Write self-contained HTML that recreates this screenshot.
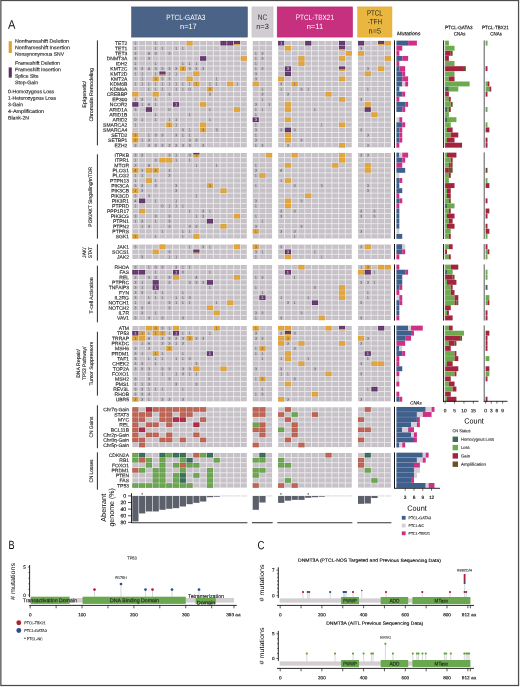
<!DOCTYPE html>
<html lang="en"><head><meta charset="utf-8"><title>Figure</title>
<style>html,body{margin:0;padding:0;background:#fff}svg{display:block}</style>
</head><body>
<svg width="520" height="687" viewBox="0 0 520 687" text-rendering="geometricPrecision" font-family='"Liberation Sans", sans-serif'>
<rect x="0" y="0" width="520" height="687" fill="#ffffff"/>
<rect x="0.85" y="0.5" width="517.7" height="685" fill="none" stroke="#4d4d4d" stroke-width="1.25"/>
<text x="8" y="28.8" font-size="12.4" fill="#111" textLength="7.4" lengthAdjust="spacingAndGlyphs" transform="rotate(0.05 8 28.8)">A</text>
<rect x="8.7" y="41.2" width="3.1" height="11.8" fill="#e0a030"/>
<rect x="8.7" y="67.4" width="3.1" height="10.2" fill="#5c2f66"/>
<text x="15" y="42.8" font-size="5.1" fill="#2a2a2a" textLength="54" lengthAdjust="spacingAndGlyphs" transform="rotate(0.05 15 42.8)" stroke="#2a2a2a" stroke-width="0.14">Nonframeshift Deletion</text>
<text x="15" y="49.3" font-size="5.1" fill="#2a2a2a" textLength="55" lengthAdjust="spacingAndGlyphs" transform="rotate(0.05 15 49.3)" stroke="#2a2a2a" stroke-width="0.14">Nonframeshift Insertion</text>
<text x="15" y="55.8" font-size="5.1" fill="#2a2a2a" textLength="49" lengthAdjust="spacingAndGlyphs" transform="rotate(0.05 15 55.8)" stroke="#2a2a2a" stroke-width="0.14">Nonsynonymous SNV</text>
<text x="15" y="64.7" font-size="5.1" fill="#2a2a2a" textLength="45" lengthAdjust="spacingAndGlyphs" transform="rotate(0.05 15 64.7)" stroke="#2a2a2a" stroke-width="0.14">Frameshift Deletion</text>
<text x="15" y="71.2" font-size="5.1" fill="#2a2a2a" textLength="46" lengthAdjust="spacingAndGlyphs" transform="rotate(0.05 15 71.2)" stroke="#2a2a2a" stroke-width="0.14">Frameshift Insertion</text>
<text x="15" y="77.7" font-size="5.1" fill="#2a2a2a" textLength="23.5" lengthAdjust="spacingAndGlyphs" transform="rotate(0.05 15 77.7)" stroke="#2a2a2a" stroke-width="0.14">Splice Site</text>
<text x="15" y="84.2" font-size="5.1" fill="#2a2a2a" textLength="23" lengthAdjust="spacingAndGlyphs" transform="rotate(0.05 15 84.2)" stroke="#2a2a2a" stroke-width="0.14">Stop-Gain</text>
<text x="8" y="93.2" font-size="5.1" fill="#2a2a2a" textLength="46" lengthAdjust="spacingAndGlyphs" transform="rotate(0.05 8 93.2)" stroke="#2a2a2a" stroke-width="0.14">0-Homozygous Loss</text>
<text x="8" y="99.8" font-size="5.1" fill="#2a2a2a" textLength="48" lengthAdjust="spacingAndGlyphs" transform="rotate(0.05 8 99.8)" stroke="#2a2a2a" stroke-width="0.14">1-Heterozygous Loss</text>
<text x="8" y="106.3" font-size="5.1" fill="#2a2a2a" textLength="15" lengthAdjust="spacingAndGlyphs" transform="rotate(0.05 8 106.3)" stroke="#2a2a2a" stroke-width="0.14">3-Gain</text>
<text x="8" y="112.9" font-size="5.1" fill="#2a2a2a" textLength="36" lengthAdjust="spacingAndGlyphs" transform="rotate(0.05 8 112.9)" stroke="#2a2a2a" stroke-width="0.14">4-Amplification</text>
<text x="8" y="119.4" font-size="5.1" fill="#2a2a2a" textLength="21" lengthAdjust="spacingAndGlyphs" transform="rotate(0.05 8 119.4)" stroke="#2a2a2a" stroke-width="0.14">Blank-2N</text>
<rect x="131.55" y="6.9" width="115.9" height="30.2" fill="#4b6387" stroke="#3a5073" stroke-width="0.5"/>
<text x="185.9" y="20.1" font-size="7.6" text-anchor="middle" fill="#ffffff" textLength="39.2" lengthAdjust="spacingAndGlyphs" transform="rotate(0.05 185.9 20.1)">PTCL-GATA3</text>
<text x="188.4" y="28.9" font-size="7.6" text-anchor="middle" fill="#ffffff" textLength="16.7" lengthAdjust="spacingAndGlyphs" transform="rotate(0.05 188.4 28.9)">n=17</text>
<rect x="251.95" y="6.9" width="21.1" height="30.2" fill="#d0ccd1" stroke="#c4c0c5" stroke-width="0.5"/>
<text x="262.5" y="19.7" font-size="7.6" text-anchor="middle" fill="#2b2b2b" textLength="9.5" lengthAdjust="spacingAndGlyphs" transform="rotate(0.05 262.5 19.7)">NC</text>
<text x="262.5" y="28.9" font-size="7.6" text-anchor="middle" fill="#2b2b2b" textLength="12.5" lengthAdjust="spacingAndGlyphs" transform="rotate(0.05 262.5 28.9)">n=3</text>
<rect x="277.15" y="6.9" width="75.5" height="30.2" fill="#c72f7f" stroke="#b8266f" stroke-width="0.5"/>
<text x="314.9" y="19.9" font-size="7.6" text-anchor="middle" fill="#ffffff" textLength="38.1" lengthAdjust="spacingAndGlyphs" transform="rotate(0.05 314.9 19.9)">PTCL-TBX21</text>
<text x="314.9" y="28.9" font-size="7.6" text-anchor="middle" fill="#ffffff" textLength="16.4" lengthAdjust="spacingAndGlyphs" transform="rotate(0.05 314.9 28.9)">n=11</text>
<rect x="357.65" y="6.9" width="34.3" height="30.2" fill="#e9b63f" stroke="#dca92f" stroke-width="0.5"/>
<text x="374.8" y="15.5" font-size="7.6" text-anchor="middle" fill="#2b2620" textLength="15.8" lengthAdjust="spacingAndGlyphs" transform="rotate(0.05 374.8 15.5)">PTCL</text>
<text x="374.8" y="24.2" font-size="7.6" text-anchor="middle" fill="#2b2620" textLength="14.3" lengthAdjust="spacingAndGlyphs" transform="rotate(0.05 374.8 24.2)">-TFH</text>
<text x="374.8" y="33.4" font-size="7.6" text-anchor="middle" fill="#2b2620" textLength="12.5" lengthAdjust="spacingAndGlyphs" transform="rotate(0.05 374.8 33.4)">n=5</text>
<line x1="97.4" y1="40.4" x2="97.4" y2="145.4" stroke="#111" stroke-width="0.9"/>
<text x="85.9" y="94.3" font-size="5.1" text-anchor="middle" fill="#2a2a2a" textLength="26.8" lengthAdjust="spacingAndGlyphs" transform="rotate(-90 85.9 94.3)" stroke="#2a2a2a" stroke-width="0.14">Epigenetic/</text>
<text x="93" y="94.8" font-size="5.1" text-anchor="middle" fill="#2a2a2a" textLength="53.6" lengthAdjust="spacingAndGlyphs" transform="rotate(-90 93 94.8)" stroke="#2a2a2a" stroke-width="0.14">Chromatin Remodeling</text>
<line x1="97.4" y1="154.3" x2="97.4" y2="238.6" stroke="#111" stroke-width="0.9"/>
<text x="92.5" y="196.8" font-size="5.1" text-anchor="middle" fill="#2a2a2a" textLength="59.8" lengthAdjust="spacingAndGlyphs" transform="rotate(-90 92.5 196.8)" stroke="#2a2a2a" stroke-width="0.14">PI3K/AKT Singalling/mTOR</text>
<line x1="97.4" y1="244.3" x2="97.4" y2="260.6" stroke="#111" stroke-width="0.9"/>
<text x="85.6" y="252.7" font-size="5.1" text-anchor="middle" fill="#2a2a2a" textLength="10" lengthAdjust="spacingAndGlyphs" transform="rotate(-90 85.6 252.7)" stroke="#2a2a2a" stroke-width="0.14">JAK/</text>
<text x="92.3" y="252.7" font-size="5.1" text-anchor="middle" fill="#2a2a2a" textLength="10.8" lengthAdjust="spacingAndGlyphs" transform="rotate(-90 92.3 252.7)" stroke="#2a2a2a" stroke-width="0.14">STAT</text>
<line x1="97.4" y1="265.7" x2="97.4" y2="322.4" stroke="#111" stroke-width="0.9"/>
<text x="93.1" y="295.4" font-size="5.1" text-anchor="middle" fill="#2a2a2a" textLength="36.2" lengthAdjust="spacingAndGlyphs" transform="rotate(-90 93.1 295.4)" stroke="#2a2a2a" stroke-width="0.14">T-cell Activation</text>
<line x1="97.4" y1="331.8" x2="97.4" y2="395.6" stroke="#111" stroke-width="0.9"/>
<text x="79.9" y="363.6" font-size="5.1" text-anchor="middle" fill="#2a2a2a" textLength="28.5" lengthAdjust="spacingAndGlyphs" transform="rotate(-90 79.9 363.6)" stroke="#2a2a2a" stroke-width="0.14">DNA Repair/</text>
<text x="85.9" y="363.4" font-size="5.1" text-anchor="middle" fill="#2a2a2a" textLength="33.3" lengthAdjust="spacingAndGlyphs" transform="rotate(-90 85.9 363.4)" stroke="#2a2a2a" stroke-width="0.14">TP53 Pathway/</text>
<text x="92.7" y="363.6" font-size="5.1" text-anchor="middle" fill="#2a2a2a" textLength="43.8" lengthAdjust="spacingAndGlyphs" transform="rotate(-90 92.7 363.6)" stroke="#2a2a2a" stroke-width="0.14">Tumor Suppressors</text>
<line x1="97.4" y1="405.3" x2="97.4" y2="448.2" stroke="#111" stroke-width="0.9"/>
<text x="92.8" y="427" font-size="5.1" text-anchor="middle" fill="#2a2a2a" textLength="20.8" lengthAdjust="spacingAndGlyphs" transform="rotate(-90 92.8 427)" stroke="#2a2a2a" stroke-width="0.14">CN Gains</text>
<line x1="97.4" y1="452.3" x2="97.4" y2="489.7" stroke="#111" stroke-width="0.9"/>
<text x="92.8" y="471" font-size="5.1" text-anchor="middle" fill="#2a2a2a" textLength="22.9" lengthAdjust="spacingAndGlyphs" transform="rotate(-90 92.8 471)" stroke="#2a2a2a" stroke-width="0.14">CN Losses</text>
<text x="127.3" y="45.05" font-size="5" text-anchor="end" fill="#2a2a2a" transform="rotate(0.05 127.3 45.05)" stroke="#2a2a2a" stroke-width="0.14">TET2</text>
<text x="127.3" y="50.16" font-size="5" text-anchor="end" fill="#2a2a2a" transform="rotate(0.05 127.3 50.16)" stroke="#2a2a2a" stroke-width="0.14">TET1</text>
<text x="127.3" y="55.26" font-size="5" text-anchor="end" fill="#2a2a2a" transform="rotate(0.05 127.3 55.26)" stroke="#2a2a2a" stroke-width="0.14">TET3</text>
<text x="127.3" y="60.37" font-size="5" text-anchor="end" fill="#2a2a2a" transform="rotate(0.05 127.3 60.37)" stroke="#2a2a2a" stroke-width="0.14">DNMT3A</text>
<text x="127.3" y="65.47" font-size="5" text-anchor="end" fill="#2a2a2a" transform="rotate(0.05 127.3 65.47)" stroke="#2a2a2a" stroke-width="0.14">IDH2</text>
<text x="127.3" y="70.58" font-size="5" text-anchor="end" fill="#2a2a2a" transform="rotate(0.05 127.3 70.58)" stroke="#2a2a2a" stroke-width="0.14">KMT2C</text>
<text x="127.3" y="75.68" font-size="5" text-anchor="end" fill="#2a2a2a" transform="rotate(0.05 127.3 75.68)" stroke="#2a2a2a" stroke-width="0.14">KMT2D</text>
<text x="127.3" y="80.78" font-size="5" text-anchor="end" fill="#2a2a2a" transform="rotate(0.05 127.3 80.78)" stroke="#2a2a2a" stroke-width="0.14">KMT2A</text>
<text x="127.3" y="85.89" font-size="5" text-anchor="end" fill="#2a2a2a" transform="rotate(0.05 127.3 85.89)" stroke="#2a2a2a" stroke-width="0.14">KDM6B</text>
<text x="127.3" y="91" font-size="5" text-anchor="end" fill="#2a2a2a" transform="rotate(0.05 127.3 91)" stroke="#2a2a2a" stroke-width="0.14">KDM6A</text>
<text x="127.3" y="96.1" font-size="5" text-anchor="end" fill="#2a2a2a" transform="rotate(0.05 127.3 96.1)" stroke="#2a2a2a" stroke-width="0.14">CREBBP</text>
<text x="127.3" y="101.2" font-size="5" text-anchor="end" fill="#2a2a2a" transform="rotate(0.05 127.3 101.2)" stroke="#2a2a2a" stroke-width="0.14">EP300</text>
<text x="127.3" y="106.31" font-size="5" text-anchor="end" fill="#2a2a2a" transform="rotate(0.05 127.3 106.31)" stroke="#2a2a2a" stroke-width="0.14">NCOR2</text>
<text x="127.3" y="111.42" font-size="5" text-anchor="end" fill="#2a2a2a" transform="rotate(0.05 127.3 111.42)" stroke="#2a2a2a" stroke-width="0.14">ARID1A</text>
<text x="127.3" y="116.52" font-size="5" text-anchor="end" fill="#2a2a2a" transform="rotate(0.05 127.3 116.52)" stroke="#2a2a2a" stroke-width="0.14">ARID1B</text>
<text x="127.3" y="121.62" font-size="5" text-anchor="end" fill="#2a2a2a" transform="rotate(0.05 127.3 121.62)" stroke="#2a2a2a" stroke-width="0.14">ARID2</text>
<text x="127.3" y="126.73" font-size="5" text-anchor="end" fill="#2a2a2a" transform="rotate(0.05 127.3 126.73)" stroke="#2a2a2a" stroke-width="0.14">SMARCA2</text>
<text x="127.3" y="131.84" font-size="5" text-anchor="end" fill="#2a2a2a" transform="rotate(0.05 127.3 131.84)" stroke="#2a2a2a" stroke-width="0.14">SMARCA4</text>
<text x="127.3" y="136.94" font-size="5" text-anchor="end" fill="#2a2a2a" transform="rotate(0.05 127.3 136.94)" stroke="#2a2a2a" stroke-width="0.14">SETD2</text>
<text x="127.3" y="142.04" font-size="5" text-anchor="end" fill="#2a2a2a" transform="rotate(0.05 127.3 142.04)" stroke="#2a2a2a" stroke-width="0.14">SETBP1</text>
<text x="127.3" y="147.15" font-size="5" text-anchor="end" fill="#2a2a2a" transform="rotate(0.05 127.3 147.15)" stroke="#2a2a2a" stroke-width="0.14">EZH2</text>
<rect x="132.4" y="41" width="114.38" height="106.3" fill="#c3bec4"/>
<path d="M138.74 41V147.3M145.52 41V147.3M152.3 41V147.3M159.08 41V147.3M165.86 41V147.3M172.64 41V147.3M179.42 41V147.3M186.2 41V147.3M192.98 41V147.3M199.76 41V147.3M206.54 41V147.3M213.32 41V147.3M220.1 41V147.3M226.88 41V147.3M233.66 41V147.3M240.44 41V147.3M132.4 45.65H246.78M132.4 50.76H246.78M132.4 55.86H246.78M132.4 60.97H246.78M132.4 66.07H246.78M132.4 71.18H246.78M132.4 76.28H246.78M132.4 81.39H246.78M132.4 86.49H246.78M132.4 91.6H246.78M132.4 96.7H246.78M132.4 101.81H246.78M132.4 106.91H246.78M132.4 112.02H246.78M132.4 117.12H246.78M132.4 122.23H246.78M132.4 127.33H246.78M132.4 132.44H246.78M132.4 137.54H246.78M132.4 142.65H246.78" stroke="#efedf0" stroke-width="0.88" fill="none"/>
<rect x="186.52" y="40.9" width="6.14" height="4.55" fill="#e0a030"/>
<rect x="220.42" y="40.9" width="6.14" height="4.55" fill="#5c2f66"/>
<rect x="227.2" y="40.9" width="6.14" height="4.55" fill="#5c2f66"/>
<rect x="233.98" y="40.9" width="6.14" height="3.1" fill="#5c2f66"/>
<rect x="233.98" y="44" width="6.14" height="1.45" fill="#e0a030"/>
<rect x="200.08" y="56.21" width="6.14" height="4.55" fill="#5c2f66"/>
<rect x="240.76" y="56.21" width="6.14" height="4.55" fill="#e0a030"/>
<rect x="179.74" y="66.43" width="6.14" height="4.55" fill="#e0a030"/>
<rect x="159.4" y="71.53" width="6.14" height="3.1" fill="#5c2f66"/>
<rect x="159.4" y="74.63" width="6.14" height="1.45" fill="#e0a030"/>
<rect x="193.3" y="71.53" width="6.14" height="4.55" fill="#e0a030"/>
<rect x="152.62" y="76.64" width="6.14" height="4.55" fill="#e0a030"/>
<rect x="186.52" y="76.64" width="6.14" height="4.55" fill="#e0a030"/>
<rect x="193.3" y="81.74" width="6.14" height="4.55" fill="#e0a030"/>
<rect x="227.2" y="81.74" width="6.14" height="4.55" fill="#e0a030"/>
<rect x="206.86" y="86.85" width="6.14" height="4.55" fill="#e0a030"/>
<rect x="132.28" y="91.95" width="6.14" height="4.55" fill="#e0a030"/>
<rect x="152.62" y="91.95" width="6.14" height="4.55" fill="#e0a030"/>
<rect x="132.28" y="102.16" width="6.14" height="4.55" fill="#5c2f66"/>
<rect x="172.96" y="102.16" width="6.14" height="4.55" fill="#5c2f66"/>
<rect x="200.08" y="102.16" width="6.14" height="4.55" fill="#e0a030"/>
<rect x="145.84" y="107.27" width="6.14" height="4.55" fill="#5c2f66"/>
<rect x="233.98" y="107.27" width="6.14" height="4.55" fill="#e0a030"/>
<rect x="166.18" y="122.58" width="6.14" height="4.55" fill="#e0a030"/>
<rect x="200.08" y="122.58" width="6.14" height="4.55" fill="#e0a030"/>
<rect x="200.08" y="127.69" width="6.14" height="4.55" fill="#e0a030"/>
<rect x="132.28" y="132.79" width="6.14" height="4.55" fill="#e0a030"/>
<rect x="132.28" y="137.9" width="6.14" height="4.55" fill="#e0a030"/>
<path d="M134.37 41V147.3M136.33 41V147.3M141.15 41V147.3M143.11 41V147.3M147.93 41V147.3M149.89 41V147.3M154.71 41V147.3M156.67 41V147.3M161.49 41V147.3M163.45 41V147.3M168.27 41V147.3M170.23 41V147.3M175.05 41V147.3M177.01 41V147.3M181.83 41V147.3M183.79 41V147.3M188.61 41V147.3M190.57 41V147.3M195.39 41V147.3M197.35 41V147.3M202.17 41V147.3M204.13 41V147.3M208.95 41V147.3M210.91 41V147.3M215.73 41V147.3M217.69 41V147.3M222.51 41V147.3M224.47 41V147.3M229.29 41V147.3M231.25 41V147.3M236.07 41V147.3M238.03 41V147.3M242.85 41V147.3M244.81 41V147.3M132.4 42.4H246.78M132.4 43.8H246.78M132.4 47.51H246.78M132.4 48.91H246.78M132.4 52.61H246.78M132.4 54.01H246.78M132.4 57.71H246.78M132.4 59.11H246.78M132.4 62.82H246.78M132.4 64.22H246.78M132.4 67.93H246.78M132.4 69.33H246.78M132.4 73.03H246.78M132.4 74.43H246.78M132.4 78.14H246.78M132.4 79.53H246.78M132.4 83.24H246.78M132.4 84.64H246.78M132.4 88.35H246.78M132.4 89.75H246.78M132.4 93.45H246.78M132.4 94.85H246.78M132.4 98.56H246.78M132.4 99.95H246.78M132.4 103.66H246.78M132.4 105.06H246.78M132.4 108.77H246.78M132.4 110.17H246.78M132.4 113.87H246.78M132.4 115.27H246.78M132.4 118.98H246.78M132.4 120.38H246.78M132.4 124.08H246.78M132.4 125.48H246.78M132.4 129.19H246.78M132.4 130.59H246.78M132.4 134.29H246.78M132.4 135.69H246.78M132.4 139.4H246.78M132.4 140.8H246.78M132.4 144.5H246.78M132.4 145.9H246.78" stroke="#ffffff" stroke-opacity="0.13" stroke-width="0.5" fill="none"/>
<text x="135.35" y="44.55" font-size="4" text-anchor="middle" fill="#55515a" transform="rotate(0.05 135.35 44.55)">1</text>
<text x="155.69" y="44.55" font-size="4" text-anchor="middle" fill="#55515a" transform="rotate(0.05 155.69 44.55)">1</text>
<text x="135.35" y="49.66" font-size="4" text-anchor="middle" fill="#55515a" transform="rotate(0.05 135.35 49.66)">1</text>
<text x="155.69" y="49.66" font-size="4" text-anchor="middle" fill="#55515a" transform="rotate(0.05 155.69 49.66)">1</text>
<text x="162.47" y="49.66" font-size="4" text-anchor="middle" fill="#55515a" transform="rotate(0.05 162.47 49.66)">1</text>
<text x="176.03" y="49.66" font-size="4" text-anchor="middle" fill="#55515a" transform="rotate(0.05 176.03 49.66)">1</text>
<text x="182.81" y="49.66" font-size="4" text-anchor="middle" fill="#55515a" transform="rotate(0.05 182.81 49.66)">1</text>
<text x="135.35" y="54.76" font-size="4" text-anchor="middle" fill="#55515a" transform="rotate(0.05 135.35 54.76)">3</text>
<text x="148.91" y="54.76" font-size="4" text-anchor="middle" fill="#55515a" transform="rotate(0.05 148.91 54.76)">4</text>
<text x="155.69" y="54.76" font-size="4" text-anchor="middle" fill="#55515a" transform="rotate(0.05 155.69 54.76)">3</text>
<text x="169.25" y="54.76" font-size="4" text-anchor="middle" fill="#55515a" transform="rotate(0.05 169.25 54.76)">3</text>
<text x="135.35" y="59.87" font-size="4" text-anchor="middle" fill="#55515a" transform="rotate(0.05 135.35 59.87)">3</text>
<text x="148.91" y="59.87" font-size="4" text-anchor="middle" fill="#55515a" transform="rotate(0.05 148.91 59.87)">3</text>
<text x="135.35" y="64.97" font-size="4" text-anchor="middle" fill="#55515a" transform="rotate(0.05 135.35 64.97)">1</text>
<text x="155.69" y="64.97" font-size="4" text-anchor="middle" fill="#55515a" transform="rotate(0.05 155.69 64.97)">1</text>
<text x="182.81" y="64.97" font-size="4" text-anchor="middle" fill="#55515a" transform="rotate(0.05 182.81 64.97)">1</text>
<text x="189.59" y="64.97" font-size="4" text-anchor="middle" fill="#55515a" transform="rotate(0.05 189.59 64.97)">1</text>
<text x="196.37" y="64.97" font-size="4" text-anchor="middle" fill="#55515a" transform="rotate(0.05 196.37 64.97)">1</text>
<text x="135.35" y="70.08" font-size="4" text-anchor="middle" fill="#55515a" transform="rotate(0.05 135.35 70.08)">3</text>
<text x="142.13" y="70.08" font-size="4" text-anchor="middle" fill="#55515a" transform="rotate(0.05 142.13 70.08)">3</text>
<text x="148.91" y="70.08" font-size="4" text-anchor="middle" fill="#55515a" transform="rotate(0.05 148.91 70.08)">4</text>
<text x="155.69" y="70.08" font-size="4" text-anchor="middle" fill="#55515a" transform="rotate(0.05 155.69 70.08)">3</text>
<text x="162.47" y="70.08" font-size="4" text-anchor="middle" fill="#55515a" transform="rotate(0.05 162.47 70.08)">3</text>
<text x="169.25" y="70.08" font-size="4" text-anchor="middle" fill="#55515a" transform="rotate(0.05 169.25 70.08)">3</text>
<text x="176.03" y="70.08" font-size="4" text-anchor="middle" fill="#55515a" transform="rotate(0.05 176.03 70.08)">3</text>
<text x="182.81" y="70.08" font-size="4" text-anchor="middle" fill="#55515a" transform="rotate(0.05 182.81 70.08)">3</text>
<text x="189.59" y="70.08" font-size="4" text-anchor="middle" fill="#55515a" transform="rotate(0.05 189.59 70.08)">3</text>
<text x="196.37" y="70.08" font-size="4" text-anchor="middle" fill="#55515a" transform="rotate(0.05 196.37 70.08)">3</text>
<text x="203.15" y="70.08" font-size="4" text-anchor="middle" fill="#55515a" transform="rotate(0.05 203.15 70.08)">3</text>
<text x="135.35" y="75.18" font-size="4" text-anchor="middle" fill="#55515a" transform="rotate(0.05 135.35 75.18)">1</text>
<text x="142.13" y="75.18" font-size="4" text-anchor="middle" fill="#55515a" transform="rotate(0.05 142.13 75.18)">1</text>
<text x="155.69" y="75.18" font-size="4" text-anchor="middle" fill="#55515a" transform="rotate(0.05 155.69 75.18)">1</text>
<text x="169.25" y="75.18" font-size="4" text-anchor="middle" fill="#55515a" transform="rotate(0.05 169.25 75.18)">1</text>
<text x="176.03" y="75.18" font-size="4" text-anchor="middle" fill="#55515a" transform="rotate(0.05 176.03 75.18)">1</text>
<text x="142.13" y="80.28" font-size="4" text-anchor="middle" fill="#55515a" transform="rotate(0.05 142.13 80.28)">1</text>
<text x="155.69" y="80.28" font-size="4" text-anchor="middle" fill="#55515a" transform="rotate(0.05 155.69 80.28)">3</text>
<text x="162.47" y="80.28" font-size="4" text-anchor="middle" fill="#55515a" transform="rotate(0.05 162.47 80.28)">3</text>
<text x="169.25" y="80.28" font-size="4" text-anchor="middle" fill="#55515a" transform="rotate(0.05 169.25 80.28)">3</text>
<text x="216.71" y="80.28" font-size="4" text-anchor="middle" fill="#55515a" transform="rotate(0.05 216.71 80.28)">1</text>
<text x="135.35" y="85.39" font-size="4" text-anchor="middle" fill="#55515a" transform="rotate(0.05 135.35 85.39)">1</text>
<text x="142.13" y="85.39" font-size="4" text-anchor="middle" fill="#55515a" transform="rotate(0.05 142.13 85.39)">1</text>
<text x="148.91" y="85.39" font-size="4" text-anchor="middle" fill="#55515a" transform="rotate(0.05 148.91 85.39)">1</text>
<text x="155.69" y="85.39" font-size="4" text-anchor="middle" fill="#55515a" transform="rotate(0.05 155.69 85.39)">1</text>
<text x="162.47" y="85.39" font-size="4" text-anchor="middle" fill="#55515a" transform="rotate(0.05 162.47 85.39)">1</text>
<text x="169.25" y="85.39" font-size="4" text-anchor="middle" fill="#55515a" transform="rotate(0.05 169.25 85.39)">1</text>
<text x="176.03" y="85.39" font-size="4" text-anchor="middle" fill="#55515a" transform="rotate(0.05 176.03 85.39)">1</text>
<text x="182.81" y="85.39" font-size="4" text-anchor="middle" fill="#55515a" transform="rotate(0.05 182.81 85.39)">1</text>
<text x="189.59" y="85.39" font-size="4" text-anchor="middle" fill="#55515a" transform="rotate(0.05 189.59 85.39)">1</text>
<text x="196.37" y="85.39" font-size="4" text-anchor="middle" fill="#55515a" transform="rotate(0.05 196.37 85.39)">1</text>
<text x="209.93" y="85.39" font-size="4" text-anchor="middle" fill="#55515a" transform="rotate(0.05 209.93 85.39)">1</text>
<text x="216.71" y="85.39" font-size="4" text-anchor="middle" fill="#55515a" transform="rotate(0.05 216.71 85.39)">1</text>
<text x="237.05" y="85.39" font-size="4" text-anchor="middle" fill="#55515a" transform="rotate(0.05 237.05 85.39)">1</text>
<text x="148.91" y="90.5" font-size="4" text-anchor="middle" fill="#55515a" transform="rotate(0.05 148.91 90.5)">1</text>
<text x="155.69" y="90.5" font-size="4" text-anchor="middle" fill="#55515a" transform="rotate(0.05 155.69 90.5)">1</text>
<text x="162.47" y="90.5" font-size="4" text-anchor="middle" fill="#55515a" transform="rotate(0.05 162.47 90.5)">1</text>
<text x="176.03" y="90.5" font-size="4" text-anchor="middle" fill="#55515a" transform="rotate(0.05 176.03 90.5)">1</text>
<text x="182.81" y="90.5" font-size="4" text-anchor="middle" fill="#55515a" transform="rotate(0.05 182.81 90.5)">1</text>
<text x="189.59" y="90.5" font-size="4" text-anchor="middle" fill="#55515a" transform="rotate(0.05 189.59 90.5)">0</text>
<text x="209.93" y="90.5" font-size="4" text-anchor="middle" fill="#55515a" transform="rotate(0.05 209.93 90.5)">0</text>
<text x="169.25" y="95.6" font-size="4" text-anchor="middle" fill="#55515a" transform="rotate(0.05 169.25 95.6)">3</text>
<text x="209.93" y="95.6" font-size="4" text-anchor="middle" fill="#55515a" transform="rotate(0.05 209.93 95.6)">3</text>
<text x="135.35" y="100.7" font-size="4" text-anchor="middle" fill="#55515a" transform="rotate(0.05 135.35 100.7)">1</text>
<text x="142.13" y="100.7" font-size="4" text-anchor="middle" fill="#55515a" transform="rotate(0.05 142.13 100.7)">3</text>
<text x="155.69" y="100.7" font-size="4" text-anchor="middle" fill="#55515a" transform="rotate(0.05 155.69 100.7)">1</text>
<text x="142.13" y="105.81" font-size="4" text-anchor="middle" fill="#55515a" transform="rotate(0.05 142.13 105.81)">1</text>
<text x="148.91" y="105.81" font-size="4" text-anchor="middle" fill="#55515a" transform="rotate(0.05 148.91 105.81)">4</text>
<text x="155.69" y="105.81" font-size="4" text-anchor="middle" fill="#55515a" transform="rotate(0.05 155.69 105.81)">1</text>
<text x="176.03" y="105.81" font-size="4" text-anchor="middle" fill="#e9dff0" transform="rotate(0.05 176.03 105.81)">1</text>
<text x="135.35" y="110.92" font-size="4" text-anchor="middle" fill="#55515a" transform="rotate(0.05 135.35 110.92)">3</text>
<text x="169.25" y="110.92" font-size="4" text-anchor="middle" fill="#55515a" transform="rotate(0.05 169.25 110.92)">0</text>
<text x="209.93" y="110.92" font-size="4" text-anchor="middle" fill="#55515a" transform="rotate(0.05 209.93 110.92)">1</text>
<text x="155.69" y="116.02" font-size="4" text-anchor="middle" fill="#55515a" transform="rotate(0.05 155.69 116.02)">1</text>
<text x="189.59" y="116.02" font-size="4" text-anchor="middle" fill="#55515a" transform="rotate(0.05 189.59 116.02)">1</text>
<text x="135.35" y="121.12" font-size="4" text-anchor="middle" fill="#55515a" transform="rotate(0.05 135.35 121.12)">0</text>
<text x="142.13" y="121.12" font-size="4" text-anchor="middle" fill="#55515a" transform="rotate(0.05 142.13 121.12)">1</text>
<text x="155.69" y="121.12" font-size="4" text-anchor="middle" fill="#55515a" transform="rotate(0.05 155.69 121.12)">1</text>
<text x="169.25" y="121.12" font-size="4" text-anchor="middle" fill="#55515a" transform="rotate(0.05 169.25 121.12)">1</text>
<text x="176.03" y="121.12" font-size="4" text-anchor="middle" fill="#55515a" transform="rotate(0.05 176.03 121.12)">1</text>
<text x="209.93" y="121.12" font-size="4" text-anchor="middle" fill="#55515a" transform="rotate(0.05 209.93 121.12)">1</text>
<text x="135.35" y="126.23" font-size="4" text-anchor="middle" fill="#55515a" transform="rotate(0.05 135.35 126.23)">1</text>
<text x="169.25" y="126.23" font-size="4" text-anchor="middle" fill="#55515a" transform="rotate(0.05 169.25 126.23)">1</text>
<text x="176.03" y="126.23" font-size="4" text-anchor="middle" fill="#55515a" transform="rotate(0.05 176.03 126.23)">1</text>
<text x="182.81" y="131.34" font-size="4" text-anchor="middle" fill="#55515a" transform="rotate(0.05 182.81 131.34)">3</text>
<text x="189.59" y="131.34" font-size="4" text-anchor="middle" fill="#55515a" transform="rotate(0.05 189.59 131.34)">1</text>
<text x="203.15" y="131.34" font-size="4" text-anchor="middle" fill="#55515a" transform="rotate(0.05 203.15 131.34)">3</text>
<text x="216.71" y="131.34" font-size="4" text-anchor="middle" fill="#55515a" transform="rotate(0.05 216.71 131.34)">3</text>
<text x="135.35" y="136.44" font-size="4" text-anchor="middle" fill="#55515a" transform="rotate(0.05 135.35 136.44)">3</text>
<text x="148.91" y="136.44" font-size="4" text-anchor="middle" fill="#55515a" transform="rotate(0.05 148.91 136.44)">1</text>
<text x="155.69" y="136.44" font-size="4" text-anchor="middle" fill="#55515a" transform="rotate(0.05 155.69 136.44)">3</text>
<text x="162.47" y="136.44" font-size="4" text-anchor="middle" fill="#55515a" transform="rotate(0.05 162.47 136.44)">3</text>
<text x="176.03" y="136.44" font-size="4" text-anchor="middle" fill="#55515a" transform="rotate(0.05 176.03 136.44)">3</text>
<text x="182.81" y="136.44" font-size="4" text-anchor="middle" fill="#55515a" transform="rotate(0.05 182.81 136.44)">1</text>
<text x="189.59" y="136.44" font-size="4" text-anchor="middle" fill="#55515a" transform="rotate(0.05 189.59 136.44)">1</text>
<text x="135.35" y="141.54" font-size="4" text-anchor="middle" fill="#55515a" transform="rotate(0.05 135.35 141.54)">3</text>
<text x="142.13" y="141.54" font-size="4" text-anchor="middle" fill="#55515a" transform="rotate(0.05 142.13 141.54)">1</text>
<text x="148.91" y="141.54" font-size="4" text-anchor="middle" fill="#55515a" transform="rotate(0.05 148.91 141.54)">3</text>
<text x="189.59" y="141.54" font-size="4" text-anchor="middle" fill="#55515a" transform="rotate(0.05 189.59 141.54)">3</text>
<text x="196.37" y="141.54" font-size="4" text-anchor="middle" fill="#55515a" transform="rotate(0.05 196.37 141.54)">3</text>
<text x="135.35" y="146.65" font-size="4" text-anchor="middle" fill="#55515a" transform="rotate(0.05 135.35 146.65)">3</text>
<text x="148.91" y="146.65" font-size="4" text-anchor="middle" fill="#55515a" transform="rotate(0.05 148.91 146.65)">3</text>
<text x="155.69" y="146.65" font-size="4" text-anchor="middle" fill="#55515a" transform="rotate(0.05 155.69 146.65)">3</text>
<text x="162.47" y="146.65" font-size="4" text-anchor="middle" fill="#55515a" transform="rotate(0.05 162.47 146.65)">3</text>
<text x="169.25" y="146.65" font-size="4" text-anchor="middle" fill="#55515a" transform="rotate(0.05 169.25 146.65)">3</text>
<text x="176.03" y="146.65" font-size="4" text-anchor="middle" fill="#55515a" transform="rotate(0.05 176.03 146.65)">3</text>
<text x="182.81" y="146.65" font-size="4" text-anchor="middle" fill="#55515a" transform="rotate(0.05 182.81 146.65)">3</text>
<text x="189.59" y="146.65" font-size="4" text-anchor="middle" fill="#55515a" transform="rotate(0.05 189.59 146.65)">3</text>
<text x="203.15" y="146.65" font-size="4" text-anchor="middle" fill="#55515a" transform="rotate(0.05 203.15 146.65)">3</text>
<rect x="252.8" y="41" width="19.26" height="106.3" fill="#c3bec4"/>
<path d="M259.09 41V147.3M265.77 41V147.3M252.8 45.65H272.06M252.8 50.76H272.06M252.8 55.86H272.06M252.8 60.97H272.06M252.8 66.07H272.06M252.8 71.18H272.06M252.8 76.28H272.06M252.8 81.39H272.06M252.8 86.49H272.06M252.8 91.6H272.06M252.8 96.7H272.06M252.8 101.81H272.06M252.8 106.91H272.06M252.8 112.02H272.06M252.8 117.12H272.06M252.8 122.23H272.06M252.8 127.33H272.06M252.8 132.44H272.06M252.8 137.54H272.06M252.8 142.65H272.06" stroke="#efedf0" stroke-width="0.78" fill="none"/>
<rect x="252.68" y="81.74" width="6.14" height="4.55" fill="#e0a030"/>
<rect x="252.68" y="117.48" width="6.14" height="4.55" fill="#5c2f66"/>
<path d="M254.77 41V147.3M256.73 41V147.3M261.45 41V147.3M263.41 41V147.3M268.13 41V147.3M270.09 41V147.3M252.8 42.4H272.06M252.8 43.8H272.06M252.8 47.51H272.06M252.8 48.91H272.06M252.8 52.61H272.06M252.8 54.01H272.06M252.8 57.71H272.06M252.8 59.11H272.06M252.8 62.82H272.06M252.8 64.22H272.06M252.8 67.93H272.06M252.8 69.33H272.06M252.8 73.03H272.06M252.8 74.43H272.06M252.8 78.14H272.06M252.8 79.53H272.06M252.8 83.24H272.06M252.8 84.64H272.06M252.8 88.35H272.06M252.8 89.75H272.06M252.8 93.45H272.06M252.8 94.85H272.06M252.8 98.56H272.06M252.8 99.95H272.06M252.8 103.66H272.06M252.8 105.06H272.06M252.8 108.77H272.06M252.8 110.17H272.06M252.8 113.87H272.06M252.8 115.27H272.06M252.8 118.98H272.06M252.8 120.38H272.06M252.8 124.08H272.06M252.8 125.48H272.06M252.8 129.19H272.06M252.8 130.59H272.06M252.8 134.29H272.06M252.8 135.69H272.06M252.8 139.4H272.06M252.8 140.8H272.06M252.8 144.5H272.06M252.8 145.9H272.06" stroke="#ffffff" stroke-opacity="0.13" stroke-width="0.5" fill="none"/>
<text x="255.75" y="54.76" font-size="4" text-anchor="middle" fill="#55515a" transform="rotate(0.05 255.75 54.76)">1</text>
<text x="262.43" y="54.76" font-size="4" text-anchor="middle" fill="#55515a" transform="rotate(0.05 262.43 54.76)">3</text>
<text x="255.75" y="59.87" font-size="4" text-anchor="middle" fill="#55515a" transform="rotate(0.05 255.75 59.87)">1</text>
<text x="262.43" y="59.87" font-size="4" text-anchor="middle" fill="#55515a" transform="rotate(0.05 262.43 59.87)">3</text>
<text x="255.75" y="64.97" font-size="4" text-anchor="middle" fill="#55515a" transform="rotate(0.05 255.75 64.97)">1</text>
<text x="255.75" y="70.08" font-size="4" text-anchor="middle" fill="#55515a" transform="rotate(0.05 255.75 70.08)">1</text>
<text x="262.43" y="70.08" font-size="4" text-anchor="middle" fill="#55515a" transform="rotate(0.05 262.43 70.08)">3</text>
<text x="255.75" y="75.18" font-size="4" text-anchor="middle" fill="#55515a" transform="rotate(0.05 255.75 75.18)">3</text>
<text x="255.75" y="80.28" font-size="4" text-anchor="middle" fill="#55515a" transform="rotate(0.05 255.75 80.28)">3</text>
<text x="262.43" y="90.5" font-size="4" text-anchor="middle" fill="#55515a" transform="rotate(0.05 262.43 90.5)">1</text>
<text x="262.43" y="95.6" font-size="4" text-anchor="middle" fill="#55515a" transform="rotate(0.05 262.43 95.6)">3</text>
<text x="262.43" y="100.7" font-size="4" text-anchor="middle" fill="#55515a" transform="rotate(0.05 262.43 100.7)">1</text>
<text x="255.75" y="105.81" font-size="4" text-anchor="middle" fill="#55515a" transform="rotate(0.05 255.75 105.81)">3</text>
<text x="269.11" y="105.81" font-size="4" text-anchor="middle" fill="#55515a" transform="rotate(0.05 269.11 105.81)">1</text>
<text x="255.75" y="110.92" font-size="4" text-anchor="middle" fill="#55515a" transform="rotate(0.05 255.75 110.92)">1</text>
<text x="262.43" y="110.92" font-size="4" text-anchor="middle" fill="#55515a" transform="rotate(0.05 262.43 110.92)">1</text>
<text x="255.75" y="116.02" font-size="4" text-anchor="middle" fill="#55515a" transform="rotate(0.05 255.75 116.02)">1</text>
<text x="255.75" y="121.12" font-size="4" text-anchor="middle" fill="#e9dff0" transform="rotate(0.05 255.75 121.12)">3</text>
<text x="255.75" y="126.23" font-size="4" text-anchor="middle" fill="#55515a" transform="rotate(0.05 255.75 126.23)">1</text>
<text x="255.75" y="131.34" font-size="4" text-anchor="middle" fill="#55515a" transform="rotate(0.05 255.75 131.34)">3</text>
<text x="255.75" y="136.44" font-size="4" text-anchor="middle" fill="#55515a" transform="rotate(0.05 255.75 136.44)">1</text>
<text x="255.75" y="141.54" font-size="4" text-anchor="middle" fill="#55515a" transform="rotate(0.05 255.75 141.54)">3</text>
<text x="255.75" y="146.65" font-size="4" text-anchor="middle" fill="#55515a" transform="rotate(0.05 255.75 146.65)">1</text>
<text x="262.43" y="146.65" font-size="4" text-anchor="middle" fill="#55515a" transform="rotate(0.05 262.43 146.65)">3</text>
<rect x="278.2" y="41" width="73.55" height="106.3" fill="#c3bec4"/>
<path d="M284.53 41V147.3M291.3 41V147.3M298.06 41V147.3M304.83 41V147.3M311.59 41V147.3M318.36 41V147.3M325.12 41V147.3M331.89 41V147.3M338.65 41V147.3M345.42 41V147.3M278.2 45.65H351.75M278.2 50.76H351.75M278.2 55.86H351.75M278.2 60.97H351.75M278.2 66.07H351.75M278.2 71.18H351.75M278.2 76.28H351.75M278.2 81.39H351.75M278.2 86.49H351.75M278.2 91.6H351.75M278.2 96.7H351.75M278.2 101.81H351.75M278.2 106.91H351.75M278.2 112.02H351.75M278.2 117.12H351.75M278.2 122.23H351.75M278.2 127.33H351.75M278.2 132.44H351.75M278.2 137.54H351.75M278.2 142.65H351.75" stroke="#efedf0" stroke-width="0.86" fill="none"/>
<rect x="278.08" y="40.9" width="6.14" height="4.55" fill="#5c2f66"/>
<rect x="305.14" y="40.9" width="6.14" height="4.55" fill="#5c2f66"/>
<rect x="338.96" y="40.9" width="6.14" height="4.55" fill="#5c2f66"/>
<rect x="284.84" y="46.01" width="6.14" height="4.55" fill="#e0a030"/>
<rect x="338.96" y="46.01" width="6.14" height="3.1" fill="#5c2f66"/>
<rect x="338.96" y="49.11" width="6.14" height="1.45" fill="#e0a030"/>
<rect x="345.73" y="51.11" width="6.14" height="4.55" fill="#e0a030"/>
<rect x="298.38" y="56.21" width="6.14" height="4.55" fill="#e0a030"/>
<rect x="338.96" y="56.21" width="6.14" height="4.55" fill="#e0a030"/>
<rect x="298.38" y="61.32" width="6.14" height="4.55" fill="#e0a030"/>
<rect x="284.84" y="66.43" width="6.14" height="4.55" fill="#5c2f66"/>
<rect x="338.96" y="66.43" width="6.14" height="3.1" fill="#5c2f66"/>
<rect x="338.96" y="69.53" width="6.14" height="1.45" fill="#e0a030"/>
<rect x="284.84" y="71.53" width="6.14" height="4.55" fill="#5c2f66"/>
<rect x="278.08" y="76.64" width="6.14" height="4.55" fill="#e0a030"/>
<rect x="338.96" y="76.64" width="6.14" height="4.55" fill="#e0a030"/>
<rect x="291.61" y="81.74" width="6.14" height="4.55" fill="#e0a030"/>
<rect x="325.44" y="91.95" width="6.14" height="4.55" fill="#e0a030"/>
<rect x="338.96" y="97.06" width="6.14" height="4.55" fill="#e0a030"/>
<rect x="284.84" y="102.16" width="6.14" height="4.55" fill="#e0a030"/>
<rect x="284.84" y="107.27" width="6.14" height="4.55" fill="#e0a030"/>
<rect x="284.84" y="117.48" width="6.14" height="4.55" fill="#e0a030"/>
<rect x="338.96" y="122.58" width="6.14" height="4.55" fill="#e0a030"/>
<rect x="284.84" y="127.69" width="6.14" height="4.55" fill="#5c2f66"/>
<rect x="284.84" y="132.79" width="6.14" height="4.55" fill="#e0a030"/>
<rect x="284.84" y="137.9" width="6.14" height="4.55" fill="#e0a030"/>
<rect x="338.96" y="143" width="6.14" height="4.55" fill="#e0a030"/>
<path d="M280.17 41V147.3M282.13 41V147.3M286.93 41V147.3M288.9 41V147.3M293.7 41V147.3M295.66 41V147.3M300.46 41V147.3M302.43 41V147.3M307.23 41V147.3M309.19 41V147.3M313.99 41V147.3M315.96 41V147.3M320.76 41V147.3M322.72 41V147.3M327.52 41V147.3M329.49 41V147.3M334.29 41V147.3M336.25 41V147.3M341.05 41V147.3M343.02 41V147.3M347.82 41V147.3M349.78 41V147.3M278.2 42.4H351.75M278.2 43.8H351.75M278.2 47.51H351.75M278.2 48.91H351.75M278.2 52.61H351.75M278.2 54.01H351.75M278.2 57.71H351.75M278.2 59.11H351.75M278.2 62.82H351.75M278.2 64.22H351.75M278.2 67.93H351.75M278.2 69.33H351.75M278.2 73.03H351.75M278.2 74.43H351.75M278.2 78.14H351.75M278.2 79.53H351.75M278.2 83.24H351.75M278.2 84.64H351.75M278.2 88.35H351.75M278.2 89.75H351.75M278.2 93.45H351.75M278.2 94.85H351.75M278.2 98.56H351.75M278.2 99.95H351.75M278.2 103.66H351.75M278.2 105.06H351.75M278.2 108.77H351.75M278.2 110.17H351.75M278.2 113.87H351.75M278.2 115.27H351.75M278.2 118.98H351.75M278.2 120.38H351.75M278.2 124.08H351.75M278.2 125.48H351.75M278.2 129.19H351.75M278.2 130.59H351.75M278.2 134.29H351.75M278.2 135.69H351.75M278.2 139.4H351.75M278.2 140.8H351.75M278.2 144.5H351.75M278.2 145.9H351.75" stroke="#ffffff" stroke-opacity="0.13" stroke-width="0.5" fill="none"/>
<text x="281.15" y="44.55" font-size="4" text-anchor="middle" fill="#e9dff0" transform="rotate(0.05 281.15 44.55)">1</text>
<text x="287.91" y="70.08" font-size="4" text-anchor="middle" fill="#e9dff0" transform="rotate(0.05 287.91 70.08)">3</text>
<text x="281.15" y="85.39" font-size="4" text-anchor="middle" fill="#55515a" transform="rotate(0.05 281.15 85.39)">3</text>
<text x="294.68" y="85.39" font-size="4" text-anchor="middle" fill="#55515a" transform="rotate(0.05 294.68 85.39)">1</text>
<text x="281.15" y="90.5" font-size="4" text-anchor="middle" fill="#55515a" transform="rotate(0.05 281.15 90.5)">1</text>
<text x="301.44" y="90.5" font-size="4" text-anchor="middle" fill="#55515a" transform="rotate(0.05 301.44 90.5)">3</text>
<text x="308.21" y="90.5" font-size="4" text-anchor="middle" fill="#55515a" transform="rotate(0.05 308.21 90.5)">1</text>
<text x="287.91" y="95.6" font-size="4" text-anchor="middle" fill="#55515a" transform="rotate(0.05 287.91 95.6)">3</text>
<text x="314.97" y="110.92" font-size="4" text-anchor="middle" fill="#55515a" transform="rotate(0.05 314.97 110.92)">1</text>
<text x="321.74" y="126.23" font-size="4" text-anchor="middle" fill="#55515a" transform="rotate(0.05 321.74 126.23)">1</text>
<text x="281.15" y="131.34" font-size="4" text-anchor="middle" fill="#55515a" transform="rotate(0.05 281.15 131.34)">3</text>
<text x="294.68" y="131.34" font-size="4" text-anchor="middle" fill="#55515a" transform="rotate(0.05 294.68 131.34)">3</text>
<text x="301.44" y="141.54" font-size="4" text-anchor="middle" fill="#55515a" transform="rotate(0.05 301.44 141.54)">3</text>
<text x="287.91" y="146.65" font-size="4" text-anchor="middle" fill="#55515a" transform="rotate(0.05 287.91 146.65)">3</text>
<rect x="358.1" y="41" width="32.7" height="106.3" fill="#c3bec4"/>
<path d="M364.4 41V147.3M371.1 41V147.3M377.8 41V147.3M384.5 41V147.3M358.1 45.65H390.8M358.1 50.76H390.8M358.1 55.86H390.8M358.1 60.97H390.8M358.1 66.07H390.8M358.1 71.18H390.8M358.1 76.28H390.8M358.1 81.39H390.8M358.1 86.49H390.8M358.1 91.6H390.8M358.1 96.7H390.8M358.1 101.81H390.8M358.1 106.91H390.8M358.1 112.02H390.8M358.1 117.12H390.8M358.1 122.23H390.8M358.1 127.33H390.8M358.1 132.44H390.8M358.1 137.54H390.8M358.1 142.65H390.8" stroke="#efedf0" stroke-width="0.8" fill="none"/>
<rect x="357.98" y="40.9" width="6.14" height="4.55" fill="#5c2f66"/>
<rect x="378.08" y="40.9" width="6.14" height="3.1" fill="#5c2f66"/>
<rect x="378.08" y="44" width="6.14" height="1.45" fill="#e0a030"/>
<rect x="384.78" y="40.9" width="6.14" height="4.55" fill="#e0a030"/>
<rect x="357.98" y="51.11" width="6.14" height="4.55" fill="#e0a030"/>
<rect x="384.78" y="56.21" width="6.14" height="4.55" fill="#e0a030"/>
<rect x="378.08" y="66.43" width="6.14" height="4.55" fill="#e0a030"/>
<rect x="364.68" y="71.53" width="6.14" height="4.55" fill="#e0a030"/>
<rect x="364.68" y="102.16" width="6.14" height="4.55" fill="#e0a030"/>
<rect x="364.68" y="107.27" width="6.14" height="4.55" fill="#5c2f66"/>
<rect x="371.38" y="112.37" width="6.14" height="4.55" fill="#e0a030"/>
<path d="M360.07 41V147.3M362.03 41V147.3M366.77 41V147.3M368.73 41V147.3M373.47 41V147.3M375.43 41V147.3M380.17 41V147.3M382.13 41V147.3M386.87 41V147.3M388.83 41V147.3M358.1 42.4H390.8M358.1 43.8H390.8M358.1 47.51H390.8M358.1 48.91H390.8M358.1 52.61H390.8M358.1 54.01H390.8M358.1 57.71H390.8M358.1 59.11H390.8M358.1 62.82H390.8M358.1 64.22H390.8M358.1 67.93H390.8M358.1 69.33H390.8M358.1 73.03H390.8M358.1 74.43H390.8M358.1 78.14H390.8M358.1 79.53H390.8M358.1 83.24H390.8M358.1 84.64H390.8M358.1 88.35H390.8M358.1 89.75H390.8M358.1 93.45H390.8M358.1 94.85H390.8M358.1 98.56H390.8M358.1 99.95H390.8M358.1 103.66H390.8M358.1 105.06H390.8M358.1 108.77H390.8M358.1 110.17H390.8M358.1 113.87H390.8M358.1 115.27H390.8M358.1 118.98H390.8M358.1 120.38H390.8M358.1 124.08H390.8M358.1 125.48H390.8M358.1 129.19H390.8M358.1 130.59H390.8M358.1 134.29H390.8M358.1 135.69H390.8M358.1 139.4H390.8M358.1 140.8H390.8M358.1 144.5H390.8M358.1 145.9H390.8" stroke="#ffffff" stroke-opacity="0.13" stroke-width="0.5" fill="none"/>
<text x="361.05" y="49.66" font-size="4" text-anchor="middle" fill="#55515a" transform="rotate(0.05 361.05 49.66)">3</text>
<text x="367.75" y="70.08" font-size="4" text-anchor="middle" fill="#55515a" transform="rotate(0.05 367.75 70.08)">3</text>
<text x="367.75" y="90.5" font-size="4" text-anchor="middle" fill="#55515a" transform="rotate(0.05 367.75 90.5)">1</text>
<text x="361.05" y="100.7" font-size="4" text-anchor="middle" fill="#55515a" transform="rotate(0.05 361.05 100.7)">3</text>
<text x="361.05" y="131.34" font-size="4" text-anchor="middle" fill="#55515a" transform="rotate(0.05 361.05 131.34)">3</text>
<text x="367.75" y="136.44" font-size="4" text-anchor="middle" fill="#55515a" transform="rotate(0.05 367.75 136.44)">3</text>
<text x="367.75" y="146.65" font-size="4" text-anchor="middle" fill="#55515a" transform="rotate(0.05 367.75 146.65)">3</text>
<text x="129" y="157.05" font-size="5" text-anchor="end" fill="#2a2a2a" transform="rotate(0.05 129 157.05)" stroke="#2a2a2a" stroke-width="0.14">ITPKB</text>
<text x="129" y="162.13" font-size="5" text-anchor="end" fill="#2a2a2a" transform="rotate(0.05 129 162.13)" stroke="#2a2a2a" stroke-width="0.14">ITPR1</text>
<text x="129" y="167.21" font-size="5" text-anchor="end" fill="#2a2a2a" transform="rotate(0.05 129 167.21)" stroke="#2a2a2a" stroke-width="0.14">MTOR</text>
<text x="129" y="172.29" font-size="5" text-anchor="end" fill="#2a2a2a" transform="rotate(0.05 129 172.29)" stroke="#2a2a2a" stroke-width="0.14">PLCG1</text>
<text x="129" y="177.37" font-size="5" text-anchor="end" fill="#2a2a2a" transform="rotate(0.05 129 177.37)" stroke="#2a2a2a" stroke-width="0.14">PLCG2</text>
<text x="129" y="182.45" font-size="5" text-anchor="end" fill="#2a2a2a" transform="rotate(0.05 129 182.45)" stroke="#2a2a2a" stroke-width="0.14">PTPN13</text>
<text x="129" y="187.53" font-size="5" text-anchor="end" fill="#2a2a2a" transform="rotate(0.05 129 187.53)" stroke="#2a2a2a" stroke-width="0.14">PIK3CA</text>
<text x="129" y="192.61" font-size="5" text-anchor="end" fill="#2a2a2a" transform="rotate(0.05 129 192.61)" stroke="#2a2a2a" stroke-width="0.14">PIK3CB</text>
<text x="129" y="197.69" font-size="5" text-anchor="end" fill="#2a2a2a" transform="rotate(0.05 129 197.69)" stroke="#2a2a2a" stroke-width="0.14">PIK3CD</text>
<text x="129" y="202.77" font-size="5" text-anchor="end" fill="#2a2a2a" transform="rotate(0.05 129 202.77)" stroke="#2a2a2a" stroke-width="0.14">PIK3R1</text>
<text x="129" y="207.85" font-size="5" text-anchor="end" fill="#2a2a2a" transform="rotate(0.05 129 207.85)" stroke="#2a2a2a" stroke-width="0.14">PTPRD</text>
<text x="129" y="212.93" font-size="5" text-anchor="end" fill="#2a2a2a" transform="rotate(0.05 129 212.93)" stroke="#2a2a2a" stroke-width="0.14">PPP1R17</text>
<text x="129" y="218.01" font-size="5" text-anchor="end" fill="#2a2a2a" transform="rotate(0.05 129 218.01)" stroke="#2a2a2a" stroke-width="0.14">PIK3CG</text>
<text x="129" y="223.09" font-size="5" text-anchor="end" fill="#2a2a2a" transform="rotate(0.05 129 223.09)" stroke="#2a2a2a" stroke-width="0.14">PTPN1</text>
<text x="129" y="228.17" font-size="5" text-anchor="end" fill="#2a2a2a" transform="rotate(0.05 129 228.17)" stroke="#2a2a2a" stroke-width="0.14">PTPN2</text>
<text x="129" y="233.25" font-size="5" text-anchor="end" fill="#2a2a2a" transform="rotate(0.05 129 233.25)" stroke="#2a2a2a" stroke-width="0.14">PTPRS</text>
<text x="129" y="238.33" font-size="5" text-anchor="end" fill="#2a2a2a" transform="rotate(0.05 129 238.33)" stroke="#2a2a2a" stroke-width="0.14">SGK1</text>
<rect x="132.4" y="153" width="114.38" height="85.48" fill="#c3bec4"/>
<path d="M138.74 153V238.48M145.52 153V238.48M152.3 153V238.48M159.08 153V238.48M165.86 153V238.48M172.64 153V238.48M179.42 153V238.48M186.2 153V238.48M192.98 153V238.48M199.76 153V238.48M206.54 153V238.48M213.32 153V238.48M220.1 153V238.48M226.88 153V238.48M233.66 153V238.48M240.44 153V238.48M132.4 157.64H246.78M132.4 162.72H246.78M132.4 167.8H246.78M132.4 172.88H246.78M132.4 177.96H246.78M132.4 183.04H246.78M132.4 188.12H246.78M132.4 193.2H246.78M132.4 198.28H246.78M132.4 203.36H246.78M132.4 208.44H246.78M132.4 213.52H246.78M132.4 218.6H246.78M132.4 223.68H246.78M132.4 228.76H246.78M132.4 233.84H246.78" stroke="#efedf0" stroke-width="0.88" fill="none"/>
<rect x="193.3" y="152.9" width="6.14" height="1.7" fill="#5c2f66"/>
<rect x="193.3" y="154.6" width="6.14" height="2.85" fill="#e0a030"/>
<rect x="159.4" y="157.98" width="6.14" height="4.55" fill="#e0a030"/>
<rect x="166.18" y="157.98" width="6.14" height="4.55" fill="#e0a030"/>
<rect x="132.28" y="168.14" width="6.14" height="4.55" fill="#e0a030"/>
<rect x="145.84" y="168.14" width="6.14" height="4.55" fill="#e0a030"/>
<rect x="152.62" y="168.14" width="6.14" height="4.55" fill="#e0a030"/>
<rect x="145.84" y="178.3" width="6.14" height="4.55" fill="#e0a030"/>
<rect x="206.86" y="183.38" width="6.14" height="4.55" fill="#e0a030"/>
<rect x="132.28" y="188.46" width="6.14" height="4.55" fill="#e0a030"/>
<rect x="220.42" y="188.46" width="6.14" height="4.55" fill="#e0a030"/>
<rect x="139.06" y="198.62" width="6.14" height="4.55" fill="#5c2f66"/>
<rect x="139.06" y="208.78" width="6.14" height="4.55" fill="#e0a030"/>
<rect x="233.98" y="213.86" width="6.14" height="4.55" fill="#e0a030"/>
<rect x="206.86" y="218.94" width="6.14" height="4.55" fill="#5c2f66"/>
<rect x="220.42" y="224.02" width="6.14" height="4.55" fill="#e0a030"/>
<rect x="132.28" y="234.18" width="6.14" height="4.55" fill="#e0a030"/>
<rect x="193.3" y="234.18" width="6.14" height="4.55" fill="#e0a030"/>
<path d="M134.37 153V238.48M136.33 153V238.48M141.15 153V238.48M143.11 153V238.48M147.93 153V238.48M149.89 153V238.48M154.71 153V238.48M156.67 153V238.48M161.49 153V238.48M163.45 153V238.48M168.27 153V238.48M170.23 153V238.48M175.05 153V238.48M177.01 153V238.48M181.83 153V238.48M183.79 153V238.48M188.61 153V238.48M190.57 153V238.48M195.39 153V238.48M197.35 153V238.48M202.17 153V238.48M204.13 153V238.48M208.95 153V238.48M210.91 153V238.48M215.73 153V238.48M217.69 153V238.48M222.51 153V238.48M224.47 153V238.48M229.29 153V238.48M231.25 153V238.48M236.07 153V238.48M238.03 153V238.48M242.85 153V238.48M244.81 153V238.48M132.4 154.4H246.78M132.4 155.8H246.78M132.4 159.48H246.78M132.4 160.88H246.78M132.4 164.56H246.78M132.4 165.96H246.78M132.4 169.64H246.78M132.4 171.04H246.78M132.4 174.72H246.78M132.4 176.12H246.78M132.4 179.8H246.78M132.4 181.2H246.78M132.4 184.88H246.78M132.4 186.28H246.78M132.4 189.96H246.78M132.4 191.36H246.78M132.4 195.04H246.78M132.4 196.44H246.78M132.4 200.12H246.78M132.4 201.52H246.78M132.4 205.2H246.78M132.4 206.6H246.78M132.4 210.28H246.78M132.4 211.68H246.78M132.4 215.36H246.78M132.4 216.76H246.78M132.4 220.44H246.78M132.4 221.84H246.78M132.4 225.52H246.78M132.4 226.92H246.78M132.4 230.6H246.78M132.4 232H246.78M132.4 235.68H246.78M132.4 237.08H246.78" stroke="#ffffff" stroke-opacity="0.13" stroke-width="0.5" fill="none"/>
<text x="135.35" y="156.55" font-size="4" text-anchor="middle" fill="#55515a" transform="rotate(0.05 135.35 156.55)">3</text>
<text x="142.13" y="156.55" font-size="4" text-anchor="middle" fill="#55515a" transform="rotate(0.05 142.13 156.55)">3</text>
<text x="169.25" y="156.55" font-size="4" text-anchor="middle" fill="#55515a" transform="rotate(0.05 169.25 156.55)">3</text>
<text x="176.03" y="156.55" font-size="4" text-anchor="middle" fill="#55515a" transform="rotate(0.05 176.03 156.55)">1</text>
<text x="189.59" y="156.55" font-size="4" text-anchor="middle" fill="#55515a" transform="rotate(0.05 189.59 156.55)">3</text>
<text x="196.37" y="156.55" font-size="4" text-anchor="middle" fill="#55515a" transform="rotate(0.05 196.37 156.55)">3</text>
<text x="135.35" y="161.63" font-size="4" text-anchor="middle" fill="#55515a" transform="rotate(0.05 135.35 161.63)">1</text>
<text x="155.69" y="161.63" font-size="4" text-anchor="middle" fill="#55515a" transform="rotate(0.05 155.69 161.63)">3</text>
<text x="176.03" y="161.63" font-size="4" text-anchor="middle" fill="#55515a" transform="rotate(0.05 176.03 161.63)">1</text>
<text x="189.59" y="161.63" font-size="4" text-anchor="middle" fill="#55515a" transform="rotate(0.05 189.59 161.63)">1</text>
<text x="135.35" y="166.71" font-size="4" text-anchor="middle" fill="#55515a" transform="rotate(0.05 135.35 166.71)">3</text>
<text x="148.91" y="166.71" font-size="4" text-anchor="middle" fill="#55515a" transform="rotate(0.05 148.91 166.71)">4</text>
<text x="196.37" y="166.71" font-size="4" text-anchor="middle" fill="#55515a" transform="rotate(0.05 196.37 166.71)">1</text>
<text x="216.71" y="166.71" font-size="4" text-anchor="middle" fill="#55515a" transform="rotate(0.05 216.71 166.71)">1</text>
<text x="135.35" y="171.79" font-size="4" text-anchor="middle" fill="#55515a" transform="rotate(0.05 135.35 171.79)">4</text>
<text x="142.13" y="171.79" font-size="4" text-anchor="middle" fill="#55515a" transform="rotate(0.05 142.13 171.79)">3</text>
<text x="155.69" y="171.79" font-size="4" text-anchor="middle" fill="#55515a" transform="rotate(0.05 155.69 171.79)">4</text>
<text x="169.25" y="171.79" font-size="4" text-anchor="middle" fill="#55515a" transform="rotate(0.05 169.25 171.79)">3</text>
<text x="135.35" y="176.87" font-size="4" text-anchor="middle" fill="#55515a" transform="rotate(0.05 135.35 176.87)">1</text>
<text x="142.13" y="176.87" font-size="4" text-anchor="middle" fill="#55515a" transform="rotate(0.05 142.13 176.87)">1</text>
<text x="169.25" y="176.87" font-size="4" text-anchor="middle" fill="#55515a" transform="rotate(0.05 169.25 176.87)">3</text>
<text x="135.35" y="181.95" font-size="4" text-anchor="middle" fill="#55515a" transform="rotate(0.05 135.35 181.95)">1</text>
<text x="155.69" y="181.95" font-size="4" text-anchor="middle" fill="#55515a" transform="rotate(0.05 155.69 181.95)">1</text>
<text x="135.35" y="187.03" font-size="4" text-anchor="middle" fill="#55515a" transform="rotate(0.05 135.35 187.03)">3</text>
<text x="142.13" y="187.03" font-size="4" text-anchor="middle" fill="#55515a" transform="rotate(0.05 142.13 187.03)">3</text>
<text x="155.69" y="187.03" font-size="4" text-anchor="middle" fill="#55515a" transform="rotate(0.05 155.69 187.03)">3</text>
<text x="176.03" y="187.03" font-size="4" text-anchor="middle" fill="#55515a" transform="rotate(0.05 176.03 187.03)">3</text>
<text x="209.93" y="187.03" font-size="4" text-anchor="middle" fill="#55515a" transform="rotate(0.05 209.93 187.03)">3</text>
<text x="135.35" y="192.11" font-size="4" text-anchor="middle" fill="#55515a" transform="rotate(0.05 135.35 192.11)">1</text>
<text x="142.13" y="192.11" font-size="4" text-anchor="middle" fill="#55515a" transform="rotate(0.05 142.13 192.11)">3</text>
<text x="176.03" y="192.11" font-size="4" text-anchor="middle" fill="#55515a" transform="rotate(0.05 176.03 192.11)">3</text>
<text x="135.35" y="197.19" font-size="4" text-anchor="middle" fill="#55515a" transform="rotate(0.05 135.35 197.19)">3</text>
<text x="148.91" y="197.19" font-size="4" text-anchor="middle" fill="#55515a" transform="rotate(0.05 148.91 197.19)">3</text>
<text x="196.37" y="197.19" font-size="4" text-anchor="middle" fill="#55515a" transform="rotate(0.05 196.37 197.19)">1</text>
<text x="135.35" y="202.27" font-size="4" text-anchor="middle" fill="#55515a" transform="rotate(0.05 135.35 202.27)">4</text>
<text x="155.69" y="202.27" font-size="4" text-anchor="middle" fill="#55515a" transform="rotate(0.05 155.69 202.27)">1</text>
<text x="176.03" y="202.27" font-size="4" text-anchor="middle" fill="#55515a" transform="rotate(0.05 176.03 202.27)">1</text>
<text x="135.35" y="207.35" font-size="4" text-anchor="middle" fill="#55515a" transform="rotate(0.05 135.35 207.35)">1</text>
<text x="162.47" y="207.35" font-size="4" text-anchor="middle" fill="#55515a" transform="rotate(0.05 162.47 207.35)">0</text>
<text x="169.25" y="207.35" font-size="4" text-anchor="middle" fill="#55515a" transform="rotate(0.05 169.25 207.35)">1</text>
<text x="176.03" y="207.35" font-size="4" text-anchor="middle" fill="#55515a" transform="rotate(0.05 176.03 207.35)">1</text>
<text x="182.81" y="207.35" font-size="4" text-anchor="middle" fill="#55515a" transform="rotate(0.05 182.81 207.35)">1</text>
<text x="189.59" y="212.43" font-size="4" text-anchor="middle" fill="#55515a" transform="rotate(0.05 189.59 212.43)">1</text>
<text x="203.15" y="212.43" font-size="4" text-anchor="middle" fill="#55515a" transform="rotate(0.05 203.15 212.43)">3</text>
<text x="209.93" y="212.43" font-size="4" text-anchor="middle" fill="#55515a" transform="rotate(0.05 209.93 212.43)">1</text>
<text x="135.35" y="217.51" font-size="4" text-anchor="middle" fill="#55515a" transform="rotate(0.05 135.35 217.51)">3</text>
<text x="155.69" y="217.51" font-size="4" text-anchor="middle" fill="#55515a" transform="rotate(0.05 155.69 217.51)">3</text>
<text x="169.25" y="217.51" font-size="4" text-anchor="middle" fill="#55515a" transform="rotate(0.05 169.25 217.51)">3</text>
<text x="196.37" y="217.51" font-size="4" text-anchor="middle" fill="#55515a" transform="rotate(0.05 196.37 217.51)">1</text>
<text x="203.15" y="217.51" font-size="4" text-anchor="middle" fill="#55515a" transform="rotate(0.05 203.15 217.51)">3</text>
<text x="135.35" y="222.59" font-size="4" text-anchor="middle" fill="#55515a" transform="rotate(0.05 135.35 222.59)">1</text>
<text x="142.13" y="222.59" font-size="4" text-anchor="middle" fill="#55515a" transform="rotate(0.05 142.13 222.59)">3</text>
<text x="155.69" y="222.59" font-size="4" text-anchor="middle" fill="#55515a" transform="rotate(0.05 155.69 222.59)">1</text>
<text x="169.25" y="222.59" font-size="4" text-anchor="middle" fill="#55515a" transform="rotate(0.05 169.25 222.59)">3</text>
<text x="142.13" y="227.67" font-size="4" text-anchor="middle" fill="#55515a" transform="rotate(0.05 142.13 227.67)">1</text>
<text x="148.91" y="227.67" font-size="4" text-anchor="middle" fill="#55515a" transform="rotate(0.05 148.91 227.67)">3</text>
<text x="169.25" y="227.67" font-size="4" text-anchor="middle" fill="#55515a" transform="rotate(0.05 169.25 227.67)">3</text>
<text x="189.59" y="227.67" font-size="4" text-anchor="middle" fill="#55515a" transform="rotate(0.05 189.59 227.67)">3</text>
<text x="196.37" y="227.67" font-size="4" text-anchor="middle" fill="#55515a" transform="rotate(0.05 196.37 227.67)">3</text>
<text x="162.47" y="232.75" font-size="4" text-anchor="middle" fill="#55515a" transform="rotate(0.05 162.47 232.75)">1</text>
<text x="182.81" y="232.75" font-size="4" text-anchor="middle" fill="#55515a" transform="rotate(0.05 182.81 232.75)">1</text>
<text x="189.59" y="232.75" font-size="4" text-anchor="middle" fill="#55515a" transform="rotate(0.05 189.59 232.75)">1</text>
<text x="135.35" y="237.83" font-size="4" text-anchor="middle" fill="#55515a" transform="rotate(0.05 135.35 237.83)">3</text>
<text x="155.69" y="237.83" font-size="4" text-anchor="middle" fill="#55515a" transform="rotate(0.05 155.69 237.83)">1</text>
<text x="182.81" y="237.83" font-size="4" text-anchor="middle" fill="#55515a" transform="rotate(0.05 182.81 237.83)">1</text>
<rect x="252.8" y="153" width="19.26" height="85.48" fill="#c3bec4"/>
<path d="M259.09 153V238.48M265.77 153V238.48M252.8 157.64H272.06M252.8 162.72H272.06M252.8 167.8H272.06M252.8 172.88H272.06M252.8 177.96H272.06M252.8 183.04H272.06M252.8 188.12H272.06M252.8 193.2H272.06M252.8 198.28H272.06M252.8 203.36H272.06M252.8 208.44H272.06M252.8 213.52H272.06M252.8 218.6H272.06M252.8 223.68H272.06M252.8 228.76H272.06M252.8 233.84H272.06" stroke="#efedf0" stroke-width="0.78" fill="none"/>
<rect x="266.04" y="152.9" width="6.14" height="4.55" fill="#e0a030"/>
<rect x="259.36" y="173.22" width="6.14" height="4.55" fill="#e0a030"/>
<rect x="252.68" y="229.1" width="6.14" height="4.55" fill="#e0a030"/>
<path d="M254.77 153V238.48M256.73 153V238.48M261.45 153V238.48M263.41 153V238.48M268.13 153V238.48M270.09 153V238.48M252.8 154.4H272.06M252.8 155.8H272.06M252.8 159.48H272.06M252.8 160.88H272.06M252.8 164.56H272.06M252.8 165.96H272.06M252.8 169.64H272.06M252.8 171.04H272.06M252.8 174.72H272.06M252.8 176.12H272.06M252.8 179.8H272.06M252.8 181.2H272.06M252.8 184.88H272.06M252.8 186.28H272.06M252.8 189.96H272.06M252.8 191.36H272.06M252.8 195.04H272.06M252.8 196.44H272.06M252.8 200.12H272.06M252.8 201.52H272.06M252.8 205.2H272.06M252.8 206.6H272.06M252.8 210.28H272.06M252.8 211.68H272.06M252.8 215.36H272.06M252.8 216.76H272.06M252.8 220.44H272.06M252.8 221.84H272.06M252.8 225.52H272.06M252.8 226.92H272.06M252.8 230.6H272.06M252.8 232H272.06M252.8 235.68H272.06M252.8 237.08H272.06" stroke="#ffffff" stroke-opacity="0.13" stroke-width="0.5" fill="none"/>
<text x="255.75" y="166.71" font-size="4" text-anchor="middle" fill="#55515a" transform="rotate(0.05 255.75 166.71)">1</text>
<text x="255.75" y="171.79" font-size="4" text-anchor="middle" fill="#55515a" transform="rotate(0.05 255.75 171.79)">3</text>
<text x="255.75" y="176.87" font-size="4" text-anchor="middle" fill="#55515a" transform="rotate(0.05 255.75 176.87)">1</text>
<text x="255.75" y="187.03" font-size="4" text-anchor="middle" fill="#55515a" transform="rotate(0.05 255.75 187.03)">1</text>
<text x="255.75" y="202.27" font-size="4" text-anchor="middle" fill="#55515a" transform="rotate(0.05 255.75 202.27)">3</text>
<text x="255.75" y="207.35" font-size="4" text-anchor="middle" fill="#55515a" transform="rotate(0.05 255.75 207.35)">1</text>
<text x="255.75" y="217.51" font-size="4" text-anchor="middle" fill="#55515a" transform="rotate(0.05 255.75 217.51)">1</text>
<text x="262.43" y="222.59" font-size="4" text-anchor="middle" fill="#55515a" transform="rotate(0.05 262.43 222.59)">1</text>
<text x="255.75" y="227.67" font-size="4" text-anchor="middle" fill="#55515a" transform="rotate(0.05 255.75 227.67)">3</text>
<text x="255.75" y="232.75" font-size="4" text-anchor="middle" fill="#55515a" transform="rotate(0.05 255.75 232.75)">1</text>
<rect x="278.2" y="153" width="73.55" height="85.48" fill="#c3bec4"/>
<path d="M284.53 153V238.48M291.3 153V238.48M298.06 153V238.48M304.83 153V238.48M311.59 153V238.48M318.36 153V238.48M325.12 153V238.48M331.89 153V238.48M338.65 153V238.48M345.42 153V238.48M278.2 157.64H351.75M278.2 162.72H351.75M278.2 167.8H351.75M278.2 172.88H351.75M278.2 177.96H351.75M278.2 183.04H351.75M278.2 188.12H351.75M278.2 193.2H351.75M278.2 198.28H351.75M278.2 203.36H351.75M278.2 208.44H351.75M278.2 213.52H351.75M278.2 218.6H351.75M278.2 223.68H351.75M278.2 228.76H351.75M278.2 233.84H351.75" stroke="#efedf0" stroke-width="0.86" fill="none"/>
<rect x="291.61" y="152.9" width="6.14" height="4.55" fill="#e0a030"/>
<rect x="338.96" y="152.9" width="6.14" height="4.55" fill="#e0a030"/>
<rect x="338.96" y="157.98" width="6.14" height="4.55" fill="#e0a030"/>
<rect x="284.84" y="163.06" width="6.14" height="4.55" fill="#e0a030"/>
<rect x="332.2" y="163.06" width="6.14" height="4.55" fill="#e0a030"/>
<rect x="284.84" y="178.3" width="6.14" height="4.55" fill="#e0a030"/>
<rect x="305.14" y="193.54" width="6.14" height="4.55" fill="#e0a030"/>
<rect x="284.84" y="198.62" width="6.14" height="4.55" fill="#e0a030"/>
<rect x="284.84" y="203.7" width="6.14" height="4.55" fill="#e0a030"/>
<path d="M280.17 153V238.48M282.13 153V238.48M286.93 153V238.48M288.9 153V238.48M293.7 153V238.48M295.66 153V238.48M300.46 153V238.48M302.43 153V238.48M307.23 153V238.48M309.19 153V238.48M313.99 153V238.48M315.96 153V238.48M320.76 153V238.48M322.72 153V238.48M327.52 153V238.48M329.49 153V238.48M334.29 153V238.48M336.25 153V238.48M341.05 153V238.48M343.02 153V238.48M347.82 153V238.48M349.78 153V238.48M278.2 154.4H351.75M278.2 155.8H351.75M278.2 159.48H351.75M278.2 160.88H351.75M278.2 164.56H351.75M278.2 165.96H351.75M278.2 169.64H351.75M278.2 171.04H351.75M278.2 174.72H351.75M278.2 176.12H351.75M278.2 179.8H351.75M278.2 181.2H351.75M278.2 184.88H351.75M278.2 186.28H351.75M278.2 189.96H351.75M278.2 191.36H351.75M278.2 195.04H351.75M278.2 196.44H351.75M278.2 200.12H351.75M278.2 201.52H351.75M278.2 205.2H351.75M278.2 206.6H351.75M278.2 210.28H351.75M278.2 211.68H351.75M278.2 215.36H351.75M278.2 216.76H351.75M278.2 220.44H351.75M278.2 221.84H351.75M278.2 225.52H351.75M278.2 226.92H351.75M278.2 230.6H351.75M278.2 232H351.75M278.2 235.68H351.75M278.2 237.08H351.75" stroke="#ffffff" stroke-opacity="0.13" stroke-width="0.5" fill="none"/>
<text x="281.15" y="171.79" font-size="4" text-anchor="middle" fill="#55515a" transform="rotate(0.05 281.15 171.79)">4</text>
<text x="281.15" y="181.95" font-size="4" text-anchor="middle" fill="#55515a" transform="rotate(0.05 281.15 181.95)">1</text>
<text x="294.68" y="187.03" font-size="4" text-anchor="middle" fill="#55515a" transform="rotate(0.05 294.68 187.03)">3</text>
<text x="321.74" y="187.03" font-size="4" text-anchor="middle" fill="#55515a" transform="rotate(0.05 321.74 187.03)">3</text>
<text x="301.44" y="202.27" font-size="4" text-anchor="middle" fill="#55515a" transform="rotate(0.05 301.44 202.27)">3</text>
<text x="281.15" y="212.43" font-size="4" text-anchor="middle" fill="#55515a" transform="rotate(0.05 281.15 212.43)">3</text>
<text x="294.68" y="212.43" font-size="4" text-anchor="middle" fill="#55515a" transform="rotate(0.05 294.68 212.43)">3</text>
<text x="281.15" y="217.51" font-size="4" text-anchor="middle" fill="#55515a" transform="rotate(0.05 281.15 217.51)">3</text>
<text x="301.44" y="227.67" font-size="4" text-anchor="middle" fill="#55515a" transform="rotate(0.05 301.44 227.67)">3</text>
<text x="281.15" y="232.75" font-size="4" text-anchor="middle" fill="#55515a" transform="rotate(0.05 281.15 232.75)">3</text>
<text x="294.68" y="232.75" font-size="4" text-anchor="middle" fill="#55515a" transform="rotate(0.05 294.68 232.75)">3</text>
<text x="294.68" y="237.83" font-size="4" text-anchor="middle" fill="#55515a" transform="rotate(0.05 294.68 237.83)">1</text>
<rect x="358.1" y="153" width="32.7" height="85.48" fill="#c3bec4"/>
<path d="M364.4 153V238.48M371.1 153V238.48M377.8 153V238.48M384.5 153V238.48M358.1 157.64H390.8M358.1 162.72H390.8M358.1 167.8H390.8M358.1 172.88H390.8M358.1 177.96H390.8M358.1 183.04H390.8M358.1 188.12H390.8M358.1 193.2H390.8M358.1 198.28H390.8M358.1 203.36H390.8M358.1 208.44H390.8M358.1 213.52H390.8M358.1 218.6H390.8M358.1 223.68H390.8M358.1 228.76H390.8M358.1 233.84H390.8" stroke="#efedf0" stroke-width="0.8" fill="none"/>
<rect x="364.68" y="163.06" width="6.14" height="4.55" fill="#e0a030"/>
<rect x="364.68" y="168.14" width="6.14" height="4.55" fill="#e0a030"/>
<path d="M360.07 153V238.48M362.03 153V238.48M366.77 153V238.48M368.73 153V238.48M373.47 153V238.48M375.43 153V238.48M380.17 153V238.48M382.13 153V238.48M386.87 153V238.48M388.83 153V238.48M358.1 154.4H390.8M358.1 155.8H390.8M358.1 159.48H390.8M358.1 160.88H390.8M358.1 164.56H390.8M358.1 165.96H390.8M358.1 169.64H390.8M358.1 171.04H390.8M358.1 174.72H390.8M358.1 176.12H390.8M358.1 179.8H390.8M358.1 181.2H390.8M358.1 184.88H390.8M358.1 186.28H390.8M358.1 189.96H390.8M358.1 191.36H390.8M358.1 195.04H390.8M358.1 196.44H390.8M358.1 200.12H390.8M358.1 201.52H390.8M358.1 205.2H390.8M358.1 206.6H390.8M358.1 210.28H390.8M358.1 211.68H390.8M358.1 215.36H390.8M358.1 216.76H390.8M358.1 220.44H390.8M358.1 221.84H390.8M358.1 225.52H390.8M358.1 226.92H390.8M358.1 230.6H390.8M358.1 232H390.8M358.1 235.68H390.8M358.1 237.08H390.8" stroke="#ffffff" stroke-opacity="0.13" stroke-width="0.5" fill="none"/>
<text x="361.05" y="156.55" font-size="4" text-anchor="middle" fill="#55515a" transform="rotate(0.05 361.05 156.55)">3</text>
<text x="367.75" y="156.55" font-size="4" text-anchor="middle" fill="#55515a" transform="rotate(0.05 367.75 156.55)">3</text>
<text x="367.75" y="187.03" font-size="4" text-anchor="middle" fill="#55515a" transform="rotate(0.05 367.75 187.03)">3</text>
<text x="367.75" y="192.11" font-size="4" text-anchor="middle" fill="#55515a" transform="rotate(0.05 367.75 192.11)">3</text>
<text x="361.05" y="212.43" font-size="4" text-anchor="middle" fill="#55515a" transform="rotate(0.05 361.05 212.43)">3</text>
<text x="374.45" y="212.43" font-size="4" text-anchor="middle" fill="#55515a" transform="rotate(0.05 374.45 212.43)">3</text>
<text x="361.05" y="217.51" font-size="4" text-anchor="middle" fill="#55515a" transform="rotate(0.05 361.05 217.51)">3</text>
<text x="374.45" y="217.51" font-size="4" text-anchor="middle" fill="#55515a" transform="rotate(0.05 374.45 217.51)">3</text>
<text x="361.05" y="232.75" font-size="4" text-anchor="middle" fill="#55515a" transform="rotate(0.05 361.05 232.75)">3</text>
<text x="129" y="248.65" font-size="5" text-anchor="end" fill="#2a2a2a" transform="rotate(0.05 129 248.65)" stroke="#2a2a2a" stroke-width="0.14">JAK1</text>
<text x="129" y="253.73" font-size="5" text-anchor="end" fill="#2a2a2a" transform="rotate(0.05 129 253.73)" stroke="#2a2a2a" stroke-width="0.14">SOCS1</text>
<text x="129" y="258.81" font-size="5" text-anchor="end" fill="#2a2a2a" transform="rotate(0.05 129 258.81)" stroke="#2a2a2a" stroke-width="0.14">JAK2</text>
<rect x="132.4" y="244.6" width="114.38" height="14.36" fill="#c3bec4"/>
<path d="M138.74 244.6V258.96M145.52 244.6V258.96M152.3 244.6V258.96M159.08 244.6V258.96M165.86 244.6V258.96M172.64 244.6V258.96M179.42 244.6V258.96M186.2 244.6V258.96M192.98 244.6V258.96M199.76 244.6V258.96M206.54 244.6V258.96M213.32 244.6V258.96M220.1 244.6V258.96M226.88 244.6V258.96M233.66 244.6V258.96M240.44 244.6V258.96M132.4 249.24H246.78M132.4 254.32H246.78" stroke="#efedf0" stroke-width="0.88" fill="none"/>
<rect x="159.4" y="244.5" width="6.14" height="4.55" fill="#e0a030"/>
<rect x="233.98" y="244.5" width="6.14" height="4.55" fill="#e0a030"/>
<rect x="152.62" y="249.58" width="6.14" height="4.55" fill="#e0a030"/>
<rect x="193.3" y="249.58" width="6.14" height="3.1" fill="#5c2f66"/>
<rect x="193.3" y="252.68" width="6.14" height="1.45" fill="#e0a030"/>
<path d="M134.37 244.6V258.96M136.33 244.6V258.96M141.15 244.6V258.96M143.11 244.6V258.96M147.93 244.6V258.96M149.89 244.6V258.96M154.71 244.6V258.96M156.67 244.6V258.96M161.49 244.6V258.96M163.45 244.6V258.96M168.27 244.6V258.96M170.23 244.6V258.96M175.05 244.6V258.96M177.01 244.6V258.96M181.83 244.6V258.96M183.79 244.6V258.96M188.61 244.6V258.96M190.57 244.6V258.96M195.39 244.6V258.96M197.35 244.6V258.96M202.17 244.6V258.96M204.13 244.6V258.96M208.95 244.6V258.96M210.91 244.6V258.96M215.73 244.6V258.96M217.69 244.6V258.96M222.51 244.6V258.96M224.47 244.6V258.96M229.29 244.6V258.96M231.25 244.6V258.96M236.07 244.6V258.96M238.03 244.6V258.96M242.85 244.6V258.96M244.81 244.6V258.96M132.4 246H246.78M132.4 247.4H246.78M132.4 251.08H246.78M132.4 252.48H246.78M132.4 256.16H246.78M132.4 257.56H246.78" stroke="#ffffff" stroke-opacity="0.13" stroke-width="0.5" fill="none"/>
<text x="135.35" y="248.15" font-size="4" text-anchor="middle" fill="#55515a" transform="rotate(0.05 135.35 248.15)">3</text>
<text x="189.59" y="248.15" font-size="4" text-anchor="middle" fill="#55515a" transform="rotate(0.05 189.59 248.15)">1</text>
<text x="203.15" y="248.15" font-size="4" text-anchor="middle" fill="#55515a" transform="rotate(0.05 203.15 248.15)">3</text>
<text x="209.93" y="248.15" font-size="4" text-anchor="middle" fill="#55515a" transform="rotate(0.05 209.93 248.15)">1</text>
<text x="169.25" y="253.23" font-size="4" text-anchor="middle" fill="#55515a" transform="rotate(0.05 169.25 253.23)">3</text>
<text x="142.13" y="258.31" font-size="4" text-anchor="middle" fill="#55515a" transform="rotate(0.05 142.13 258.31)">3</text>
<text x="169.25" y="258.31" font-size="4" text-anchor="middle" fill="#55515a" transform="rotate(0.05 169.25 258.31)">1</text>
<text x="176.03" y="258.31" font-size="4" text-anchor="middle" fill="#55515a" transform="rotate(0.05 176.03 258.31)">1</text>
<rect x="252.8" y="244.6" width="19.26" height="14.36" fill="#c3bec4"/>
<path d="M259.09 244.6V258.96M265.77 244.6V258.96M252.8 249.24H272.06M252.8 254.32H272.06" stroke="#efedf0" stroke-width="0.78" fill="none"/>
<rect x="252.68" y="244.5" width="6.14" height="4.55" fill="#e0a030"/>
<path d="M254.77 244.6V258.96M256.73 244.6V258.96M261.45 244.6V258.96M263.41 244.6V258.96M268.13 244.6V258.96M270.09 244.6V258.96M252.8 246H272.06M252.8 247.4H272.06M252.8 251.08H272.06M252.8 252.48H272.06M252.8 256.16H272.06M252.8 257.56H272.06" stroke="#ffffff" stroke-opacity="0.13" stroke-width="0.5" fill="none"/>
<text x="255.75" y="248.15" font-size="4" text-anchor="middle" fill="#55515a" transform="rotate(0.05 255.75 248.15)">3</text>
<text x="255.75" y="253.23" font-size="4" text-anchor="middle" fill="#55515a" transform="rotate(0.05 255.75 253.23)">3</text>
<text x="262.43" y="253.23" font-size="4" text-anchor="middle" fill="#55515a" transform="rotate(0.05 262.43 253.23)">1</text>
<text x="255.75" y="258.31" font-size="4" text-anchor="middle" fill="#55515a" transform="rotate(0.05 255.75 258.31)">1</text>
<rect x="278.2" y="244.6" width="73.55" height="14.36" fill="#c3bec4"/>
<path d="M284.53 244.6V258.96M291.3 244.6V258.96M298.06 244.6V258.96M304.83 244.6V258.96M311.59 244.6V258.96M318.36 244.6V258.96M325.12 244.6V258.96M331.89 244.6V258.96M338.65 244.6V258.96M345.42 244.6V258.96M278.2 249.24H351.75M278.2 254.32H351.75" stroke="#efedf0" stroke-width="0.86" fill="none"/>
<rect x="284.84" y="249.58" width="6.14" height="4.55" fill="#5c2f66"/>
<rect x="284.84" y="254.66" width="6.14" height="4.55" fill="#e0a030"/>
<path d="M280.17 244.6V258.96M282.13 244.6V258.96M286.93 244.6V258.96M288.9 244.6V258.96M293.7 244.6V258.96M295.66 244.6V258.96M300.46 244.6V258.96M302.43 244.6V258.96M307.23 244.6V258.96M309.19 244.6V258.96M313.99 244.6V258.96M315.96 244.6V258.96M320.76 244.6V258.96M322.72 244.6V258.96M327.52 244.6V258.96M329.49 244.6V258.96M334.29 244.6V258.96M336.25 244.6V258.96M341.05 244.6V258.96M343.02 244.6V258.96M347.82 244.6V258.96M349.78 244.6V258.96M278.2 246H351.75M278.2 247.4H351.75M278.2 251.08H351.75M278.2 252.48H351.75M278.2 256.16H351.75M278.2 257.56H351.75" stroke="#ffffff" stroke-opacity="0.13" stroke-width="0.5" fill="none"/>
<text x="281.15" y="248.15" font-size="4" text-anchor="middle" fill="#55515a" transform="rotate(0.05 281.15 248.15)">3</text>
<text x="287.91" y="253.23" font-size="4" text-anchor="middle" fill="#e9dff0" transform="rotate(0.05 287.91 253.23)">3</text>
<text x="314.97" y="253.23" font-size="4" text-anchor="middle" fill="#55515a" transform="rotate(0.05 314.97 253.23)">1</text>
<text x="321.74" y="258.31" font-size="4" text-anchor="middle" fill="#55515a" transform="rotate(0.05 321.74 258.31)">1</text>
<rect x="358.1" y="244.6" width="32.7" height="14.36" fill="#c3bec4"/>
<path d="M364.4 244.6V258.96M371.1 244.6V258.96M377.8 244.6V258.96M384.5 244.6V258.96M358.1 249.24H390.8M358.1 254.32H390.8" stroke="#efedf0" stroke-width="0.8" fill="none"/>
<rect x="364.68" y="244.5" width="6.14" height="4.55" fill="#e0a030"/>
<path d="M360.07 244.6V258.96M362.03 244.6V258.96M366.77 244.6V258.96M368.73 244.6V258.96M373.47 244.6V258.96M375.43 244.6V258.96M380.17 244.6V258.96M382.13 244.6V258.96M386.87 244.6V258.96M388.83 244.6V258.96M358.1 246H390.8M358.1 247.4H390.8M358.1 251.08H390.8M358.1 252.48H390.8M358.1 256.16H390.8M358.1 257.56H390.8" stroke="#ffffff" stroke-opacity="0.13" stroke-width="0.5" fill="none"/>
<text x="361.05" y="248.15" font-size="4" text-anchor="middle" fill="#55515a" transform="rotate(0.05 361.05 248.15)">3</text>
<text x="129" y="269.05" font-size="5" text-anchor="end" fill="#2a2a2a" transform="rotate(0.05 129 269.05)" stroke="#2a2a2a" stroke-width="0.14">RHOA</text>
<text x="129" y="274.13" font-size="5" text-anchor="end" fill="#2a2a2a" transform="rotate(0.05 129 274.13)" stroke="#2a2a2a" stroke-width="0.14">FAS</text>
<text x="129" y="279.21" font-size="5" text-anchor="end" fill="#2a2a2a" transform="rotate(0.05 129 279.21)" stroke="#2a2a2a" stroke-width="0.14">REL</text>
<text x="129" y="284.29" font-size="5" text-anchor="end" fill="#2a2a2a" transform="rotate(0.05 129 284.29)" stroke="#2a2a2a" stroke-width="0.14">PTPRC</text>
<text x="129" y="289.37" font-size="5" text-anchor="end" fill="#2a2a2a" transform="rotate(0.05 129 289.37)" stroke="#2a2a2a" stroke-width="0.14">TNFAIP3</text>
<text x="129" y="294.45" font-size="5" text-anchor="end" fill="#2a2a2a" transform="rotate(0.05 129 294.45)" stroke="#2a2a2a" stroke-width="0.14">FYN</text>
<text x="129" y="299.53" font-size="5" text-anchor="end" fill="#2a2a2a" transform="rotate(0.05 129 299.53)" stroke="#2a2a2a" stroke-width="0.14">IL2RG</text>
<text x="129" y="304.61" font-size="5" text-anchor="end" fill="#2a2a2a" transform="rotate(0.05 129 304.61)" stroke="#2a2a2a" stroke-width="0.14">NOTCH1</text>
<text x="129" y="309.69" font-size="5" text-anchor="end" fill="#2a2a2a" transform="rotate(0.05 129 309.69)" stroke="#2a2a2a" stroke-width="0.14">NOTCH2</text>
<text x="129" y="314.77" font-size="5" text-anchor="end" fill="#2a2a2a" transform="rotate(0.05 129 314.77)" stroke="#2a2a2a" stroke-width="0.14">IL7R</text>
<text x="129" y="319.85" font-size="5" text-anchor="end" fill="#2a2a2a" transform="rotate(0.05 129 319.85)" stroke="#2a2a2a" stroke-width="0.14">VAV1</text>
<rect x="132.4" y="265" width="114.38" height="55" fill="#c3bec4"/>
<path d="M138.74 265V320M145.52 265V320M152.3 265V320M159.08 265V320M165.86 265V320M172.64 265V320M179.42 265V320M186.2 265V320M192.98 265V320M199.76 265V320M206.54 265V320M213.32 265V320M220.1 265V320M226.88 265V320M233.66 265V320M240.44 265V320M132.4 269.64H246.78M132.4 274.72H246.78M132.4 279.8H246.78M132.4 284.88H246.78M132.4 289.96H246.78M132.4 295.04H246.78M132.4 300.12H246.78M132.4 305.2H246.78M132.4 310.28H246.78M132.4 315.36H246.78" stroke="#efedf0" stroke-width="0.88" fill="none"/>
<rect x="132.28" y="269.98" width="6.14" height="4.55" fill="#5c2f66"/>
<rect x="139.06" y="269.98" width="6.14" height="4.55" fill="#5c2f66"/>
<rect x="172.96" y="269.98" width="6.14" height="4.55" fill="#5c2f66"/>
<rect x="172.96" y="275.06" width="6.14" height="4.55" fill="#e0a030"/>
<rect x="233.98" y="275.06" width="6.14" height="4.55" fill="#e0a030"/>
<rect x="152.62" y="280.14" width="6.14" height="4.55" fill="#5c2f66"/>
<rect x="206.86" y="280.14" width="6.14" height="4.55" fill="#5c2f66"/>
<rect x="152.62" y="285.22" width="6.14" height="4.55" fill="#5c2f66"/>
<rect x="227.2" y="300.46" width="6.14" height="4.55" fill="#e0a030"/>
<rect x="206.86" y="305.54" width="6.14" height="4.55" fill="#e0a030"/>
<rect x="213.64" y="310.62" width="6.14" height="4.55" fill="#e0a030"/>
<path d="M134.37 265V320M136.33 265V320M141.15 265V320M143.11 265V320M147.93 265V320M149.89 265V320M154.71 265V320M156.67 265V320M161.49 265V320M163.45 265V320M168.27 265V320M170.23 265V320M175.05 265V320M177.01 265V320M181.83 265V320M183.79 265V320M188.61 265V320M190.57 265V320M195.39 265V320M197.35 265V320M202.17 265V320M204.13 265V320M208.95 265V320M210.91 265V320M215.73 265V320M217.69 265V320M222.51 265V320M224.47 265V320M229.29 265V320M231.25 265V320M236.07 265V320M238.03 265V320M242.85 265V320M244.81 265V320M132.4 266.4H246.78M132.4 267.8H246.78M132.4 271.48H246.78M132.4 272.88H246.78M132.4 276.56H246.78M132.4 277.96H246.78M132.4 281.64H246.78M132.4 283.04H246.78M132.4 286.72H246.78M132.4 288.12H246.78M132.4 291.8H246.78M132.4 293.2H246.78M132.4 296.88H246.78M132.4 298.28H246.78M132.4 301.96H246.78M132.4 303.36H246.78M132.4 307.04H246.78M132.4 308.44H246.78M132.4 312.12H246.78M132.4 313.52H246.78M132.4 317.2H246.78M132.4 318.6H246.78" stroke="#ffffff" stroke-opacity="0.13" stroke-width="0.5" fill="none"/>
<text x="135.35" y="268.55" font-size="4" text-anchor="middle" fill="#55515a" transform="rotate(0.05 135.35 268.55)">3</text>
<text x="148.91" y="268.55" font-size="4" text-anchor="middle" fill="#55515a" transform="rotate(0.05 148.91 268.55)">1</text>
<text x="155.69" y="268.55" font-size="4" text-anchor="middle" fill="#55515a" transform="rotate(0.05 155.69 268.55)">3</text>
<text x="162.47" y="268.55" font-size="4" text-anchor="middle" fill="#55515a" transform="rotate(0.05 162.47 268.55)">3</text>
<text x="176.03" y="268.55" font-size="4" text-anchor="middle" fill="#55515a" transform="rotate(0.05 176.03 268.55)">3</text>
<text x="182.81" y="268.55" font-size="4" text-anchor="middle" fill="#55515a" transform="rotate(0.05 182.81 268.55)">1</text>
<text x="189.59" y="268.55" font-size="4" text-anchor="middle" fill="#55515a" transform="rotate(0.05 189.59 268.55)">1</text>
<text x="155.69" y="273.63" font-size="4" text-anchor="middle" fill="#55515a" transform="rotate(0.05 155.69 273.63)">1</text>
<text x="176.03" y="273.63" font-size="4" text-anchor="middle" fill="#e9dff0" transform="rotate(0.05 176.03 273.63)">1</text>
<text x="182.81" y="273.63" font-size="4" text-anchor="middle" fill="#55515a" transform="rotate(0.05 182.81 273.63)">0</text>
<text x="209.93" y="273.63" font-size="4" text-anchor="middle" fill="#55515a" transform="rotate(0.05 209.93 273.63)">1</text>
<text x="135.35" y="278.71" font-size="4" text-anchor="middle" fill="#55515a" transform="rotate(0.05 135.35 278.71)">3</text>
<text x="148.91" y="278.71" font-size="4" text-anchor="middle" fill="#55515a" transform="rotate(0.05 148.91 278.71)">3</text>
<text x="155.69" y="278.71" font-size="4" text-anchor="middle" fill="#55515a" transform="rotate(0.05 155.69 278.71)">3</text>
<text x="169.25" y="278.71" font-size="4" text-anchor="middle" fill="#55515a" transform="rotate(0.05 169.25 278.71)">3</text>
<text x="196.37" y="278.71" font-size="4" text-anchor="middle" fill="#55515a" transform="rotate(0.05 196.37 278.71)">4</text>
<text x="135.35" y="283.79" font-size="4" text-anchor="middle" fill="#55515a" transform="rotate(0.05 135.35 283.79)">3</text>
<text x="142.13" y="283.79" font-size="4" text-anchor="middle" fill="#55515a" transform="rotate(0.05 142.13 283.79)">1</text>
<text x="169.25" y="283.79" font-size="4" text-anchor="middle" fill="#55515a" transform="rotate(0.05 169.25 283.79)">3</text>
<text x="189.59" y="283.79" font-size="4" text-anchor="middle" fill="#55515a" transform="rotate(0.05 189.59 283.79)">3</text>
<text x="196.37" y="283.79" font-size="4" text-anchor="middle" fill="#55515a" transform="rotate(0.05 196.37 283.79)">3</text>
<text x="203.15" y="283.79" font-size="4" text-anchor="middle" fill="#55515a" transform="rotate(0.05 203.15 283.79)">3</text>
<text x="135.35" y="288.87" font-size="4" text-anchor="middle" fill="#55515a" transform="rotate(0.05 135.35 288.87)">3</text>
<text x="142.13" y="288.87" font-size="4" text-anchor="middle" fill="#55515a" transform="rotate(0.05 142.13 288.87)">1</text>
<text x="155.69" y="288.87" font-size="4" text-anchor="middle" fill="#e9dff0" transform="rotate(0.05 155.69 288.87)">1</text>
<text x="209.93" y="288.87" font-size="4" text-anchor="middle" fill="#55515a" transform="rotate(0.05 209.93 288.87)">1</text>
<text x="135.35" y="293.95" font-size="4" text-anchor="middle" fill="#55515a" transform="rotate(0.05 135.35 293.95)">3</text>
<text x="142.13" y="293.95" font-size="4" text-anchor="middle" fill="#55515a" transform="rotate(0.05 142.13 293.95)">3</text>
<text x="155.69" y="293.95" font-size="4" text-anchor="middle" fill="#55515a" transform="rotate(0.05 155.69 293.95)">1</text>
<text x="162.47" y="293.95" font-size="4" text-anchor="middle" fill="#55515a" transform="rotate(0.05 162.47 293.95)">1</text>
<text x="182.81" y="293.95" font-size="4" text-anchor="middle" fill="#55515a" transform="rotate(0.05 182.81 293.95)">1</text>
<text x="135.35" y="299.03" font-size="4" text-anchor="middle" fill="#55515a" transform="rotate(0.05 135.35 299.03)">3</text>
<text x="148.91" y="299.03" font-size="4" text-anchor="middle" fill="#55515a" transform="rotate(0.05 148.91 299.03)">1</text>
<text x="155.69" y="299.03" font-size="4" text-anchor="middle" fill="#55515a" transform="rotate(0.05 155.69 299.03)">1</text>
<text x="162.47" y="299.03" font-size="4" text-anchor="middle" fill="#55515a" transform="rotate(0.05 162.47 299.03)">1</text>
<text x="176.03" y="299.03" font-size="4" text-anchor="middle" fill="#55515a" transform="rotate(0.05 176.03 299.03)">1</text>
<text x="182.81" y="299.03" font-size="4" text-anchor="middle" fill="#55515a" transform="rotate(0.05 182.81 299.03)">1</text>
<text x="189.59" y="299.03" font-size="4" text-anchor="middle" fill="#55515a" transform="rotate(0.05 189.59 299.03)">3</text>
<text x="135.35" y="304.11" font-size="4" text-anchor="middle" fill="#55515a" transform="rotate(0.05 135.35 304.11)">1</text>
<text x="148.91" y="304.11" font-size="4" text-anchor="middle" fill="#55515a" transform="rotate(0.05 148.91 304.11)">4</text>
<text x="169.25" y="304.11" font-size="4" text-anchor="middle" fill="#55515a" transform="rotate(0.05 169.25 304.11)">3</text>
<text x="176.03" y="304.11" font-size="4" text-anchor="middle" fill="#55515a" transform="rotate(0.05 176.03 304.11)">1</text>
<text x="182.81" y="304.11" font-size="4" text-anchor="middle" fill="#55515a" transform="rotate(0.05 182.81 304.11)">1</text>
<text x="189.59" y="304.11" font-size="4" text-anchor="middle" fill="#55515a" transform="rotate(0.05 189.59 304.11)">1</text>
<text x="216.71" y="304.11" font-size="4" text-anchor="middle" fill="#55515a" transform="rotate(0.05 216.71 304.11)">1</text>
<text x="135.35" y="309.19" font-size="4" text-anchor="middle" fill="#55515a" transform="rotate(0.05 135.35 309.19)">3</text>
<text x="142.13" y="309.19" font-size="4" text-anchor="middle" fill="#55515a" transform="rotate(0.05 142.13 309.19)">3</text>
<text x="169.25" y="309.19" font-size="4" text-anchor="middle" fill="#55515a" transform="rotate(0.05 169.25 309.19)">3</text>
<text x="142.13" y="314.27" font-size="4" text-anchor="middle" fill="#55515a" transform="rotate(0.05 142.13 314.27)">3</text>
<text x="155.69" y="314.27" font-size="4" text-anchor="middle" fill="#55515a" transform="rotate(0.05 155.69 314.27)">1</text>
<text x="135.35" y="319.35" font-size="4" text-anchor="middle" fill="#55515a" transform="rotate(0.05 135.35 319.35)">3</text>
<text x="148.91" y="319.35" font-size="4" text-anchor="middle" fill="#55515a" transform="rotate(0.05 148.91 319.35)">3</text>
<text x="162.47" y="319.35" font-size="4" text-anchor="middle" fill="#55515a" transform="rotate(0.05 162.47 319.35)">3</text>
<text x="182.81" y="319.35" font-size="4" text-anchor="middle" fill="#55515a" transform="rotate(0.05 182.81 319.35)">3</text>
<rect x="252.8" y="265" width="19.26" height="55" fill="#c3bec4"/>
<path d="M259.09 265V320M265.77 265V320M252.8 269.64H272.06M252.8 274.72H272.06M252.8 279.8H272.06M252.8 284.88H272.06M252.8 289.96H272.06M252.8 295.04H272.06M252.8 300.12H272.06M252.8 305.2H272.06M252.8 310.28H272.06M252.8 315.36H272.06" stroke="#efedf0" stroke-width="0.78" fill="none"/>
<rect x="259.36" y="295.38" width="6.14" height="4.55" fill="#5c2f66"/>
<path d="M254.77 265V320M256.73 265V320M261.45 265V320M263.41 265V320M268.13 265V320M270.09 265V320M252.8 266.4H272.06M252.8 267.8H272.06M252.8 271.48H272.06M252.8 272.88H272.06M252.8 276.56H272.06M252.8 277.96H272.06M252.8 281.64H272.06M252.8 283.04H272.06M252.8 286.72H272.06M252.8 288.12H272.06M252.8 291.8H272.06M252.8 293.2H272.06M252.8 296.88H272.06M252.8 298.28H272.06M252.8 301.96H272.06M252.8 303.36H272.06M252.8 307.04H272.06M252.8 308.44H272.06M252.8 312.12H272.06M252.8 313.52H272.06M252.8 317.2H272.06M252.8 318.6H272.06" stroke="#ffffff" stroke-opacity="0.13" stroke-width="0.5" fill="none"/>
<text x="255.75" y="278.71" font-size="4" text-anchor="middle" fill="#55515a" transform="rotate(0.05 255.75 278.71)">1</text>
<text x="262.43" y="278.71" font-size="4" text-anchor="middle" fill="#55515a" transform="rotate(0.05 262.43 278.71)">3</text>
<text x="255.75" y="288.87" font-size="4" text-anchor="middle" fill="#55515a" transform="rotate(0.05 255.75 288.87)">1</text>
<text x="262.43" y="293.95" font-size="4" text-anchor="middle" fill="#55515a" transform="rotate(0.05 262.43 293.95)">1</text>
<text x="262.43" y="299.03" font-size="4" text-anchor="middle" fill="#e9dff0" transform="rotate(0.05 262.43 299.03)">1</text>
<text x="255.75" y="314.27" font-size="4" text-anchor="middle" fill="#55515a" transform="rotate(0.05 255.75 314.27)">3</text>
<text x="262.43" y="314.27" font-size="4" text-anchor="middle" fill="#55515a" transform="rotate(0.05 262.43 314.27)">3</text>
<text x="255.75" y="319.35" font-size="4" text-anchor="middle" fill="#55515a" transform="rotate(0.05 255.75 319.35)">1</text>
<rect x="278.2" y="265" width="73.55" height="55" fill="#c3bec4"/>
<path d="M284.53 265V320M291.3 265V320M298.06 265V320M304.83 265V320M311.59 265V320M318.36 265V320M325.12 265V320M331.89 265V320M338.65 265V320M345.42 265V320M278.2 269.64H351.75M278.2 274.72H351.75M278.2 279.8H351.75M278.2 284.88H351.75M278.2 289.96H351.75M278.2 295.04H351.75M278.2 300.12H351.75M278.2 305.2H351.75M278.2 310.28H351.75M278.2 315.36H351.75" stroke="#efedf0" stroke-width="0.86" fill="none"/>
<rect x="298.38" y="264.9" width="6.14" height="4.55" fill="#e0a030"/>
<rect x="284.84" y="269.98" width="6.14" height="4.55" fill="#5c2f66"/>
<rect x="338.96" y="285.22" width="6.14" height="4.55" fill="#e0a030"/>
<rect x="338.96" y="290.3" width="6.14" height="4.55" fill="#e0a030"/>
<rect x="338.96" y="295.38" width="6.14" height="4.55" fill="#e0a030"/>
<rect x="311.9" y="300.46" width="6.14" height="4.55" fill="#5c2f66"/>
<rect x="318.67" y="315.7" width="6.14" height="4.55" fill="#e0a030"/>
<path d="M280.17 265V320M282.13 265V320M286.93 265V320M288.9 265V320M293.7 265V320M295.66 265V320M300.46 265V320M302.43 265V320M307.23 265V320M309.19 265V320M313.99 265V320M315.96 265V320M320.76 265V320M322.72 265V320M327.52 265V320M329.49 265V320M334.29 265V320M336.25 265V320M341.05 265V320M343.02 265V320M347.82 265V320M349.78 265V320M278.2 266.4H351.75M278.2 267.8H351.75M278.2 271.48H351.75M278.2 272.88H351.75M278.2 276.56H351.75M278.2 277.96H351.75M278.2 281.64H351.75M278.2 283.04H351.75M278.2 286.72H351.75M278.2 288.12H351.75M278.2 291.8H351.75M278.2 293.2H351.75M278.2 296.88H351.75M278.2 298.28H351.75M278.2 301.96H351.75M278.2 303.36H351.75M278.2 307.04H351.75M278.2 308.44H351.75M278.2 312.12H351.75M278.2 313.52H351.75M278.2 317.2H351.75M278.2 318.6H351.75" stroke="#ffffff" stroke-opacity="0.13" stroke-width="0.5" fill="none"/>
<text x="287.91" y="273.63" font-size="4" text-anchor="middle" fill="#e9dff0" transform="rotate(0.05 287.91 273.63)">1</text>
<text x="294.68" y="278.71" font-size="4" text-anchor="middle" fill="#55515a" transform="rotate(0.05 294.68 278.71)">1</text>
<text x="314.97" y="288.87" font-size="4" text-anchor="middle" fill="#55515a" transform="rotate(0.05 314.97 288.87)">0</text>
<text x="281.15" y="299.03" font-size="4" text-anchor="middle" fill="#55515a" transform="rotate(0.05 281.15 299.03)">1</text>
<text x="308.21" y="299.03" font-size="4" text-anchor="middle" fill="#55515a" transform="rotate(0.05 308.21 299.03)">1</text>
<text x="287.91" y="304.11" font-size="4" text-anchor="middle" fill="#55515a" transform="rotate(0.05 287.91 304.11)">3</text>
<text x="294.68" y="304.11" font-size="4" text-anchor="middle" fill="#55515a" transform="rotate(0.05 294.68 304.11)">1</text>
<text x="301.44" y="314.27" font-size="4" text-anchor="middle" fill="#55515a" transform="rotate(0.05 301.44 314.27)">3</text>
<text x="281.15" y="319.35" font-size="4" text-anchor="middle" fill="#55515a" transform="rotate(0.05 281.15 319.35)">3</text>
<rect x="358.1" y="265" width="32.7" height="55" fill="#c3bec4"/>
<path d="M364.4 265V320M371.1 265V320M377.8 265V320M384.5 265V320M358.1 269.64H390.8M358.1 274.72H390.8M358.1 279.8H390.8M358.1 284.88H390.8M358.1 289.96H390.8M358.1 295.04H390.8M358.1 300.12H390.8M358.1 305.2H390.8M358.1 310.28H390.8M358.1 315.36H390.8" stroke="#efedf0" stroke-width="0.8" fill="none"/>
<rect x="364.68" y="264.9" width="6.14" height="4.55" fill="#e0a030"/>
<rect x="378.08" y="264.9" width="6.14" height="4.55" fill="#e0a030"/>
<rect x="384.78" y="264.9" width="6.14" height="4.55" fill="#e0a030"/>
<rect x="357.98" y="269.98" width="6.14" height="4.55" fill="#e0a030"/>
<rect x="364.68" y="269.98" width="6.14" height="4.55" fill="#5c2f66"/>
<path d="M360.07 265V320M362.03 265V320M366.77 265V320M368.73 265V320M373.47 265V320M375.43 265V320M380.17 265V320M382.13 265V320M386.87 265V320M388.83 265V320M358.1 266.4H390.8M358.1 267.8H390.8M358.1 271.48H390.8M358.1 272.88H390.8M358.1 276.56H390.8M358.1 277.96H390.8M358.1 281.64H390.8M358.1 283.04H390.8M358.1 286.72H390.8M358.1 288.12H390.8M358.1 291.8H390.8M358.1 293.2H390.8M358.1 296.88H390.8M358.1 298.28H390.8M358.1 301.96H390.8M358.1 303.36H390.8M358.1 307.04H390.8M358.1 308.44H390.8M358.1 312.12H390.8M358.1 313.52H390.8M358.1 317.2H390.8M358.1 318.6H390.8" stroke="#ffffff" stroke-opacity="0.13" stroke-width="0.5" fill="none"/>
<text x="361.05" y="268.55" font-size="4" text-anchor="middle" fill="#55515a" transform="rotate(0.05 361.05 268.55)">1</text>
<text x="367.75" y="268.55" font-size="4" text-anchor="middle" fill="#55515a" transform="rotate(0.05 367.75 268.55)">3</text>
<text x="374.45" y="273.63" font-size="4" text-anchor="middle" fill="#55515a" transform="rotate(0.05 374.45 273.63)">1</text>
<text x="361.05" y="283.79" font-size="4" text-anchor="middle" fill="#55515a" transform="rotate(0.05 361.05 283.79)">3</text>
<text x="367.75" y="283.79" font-size="4" text-anchor="middle" fill="#55515a" transform="rotate(0.05 367.75 283.79)">3</text>
<text x="374.45" y="283.79" font-size="4" text-anchor="middle" fill="#55515a" transform="rotate(0.05 374.45 283.79)">1</text>
<text x="367.75" y="293.95" font-size="4" text-anchor="middle" fill="#55515a" transform="rotate(0.05 367.75 293.95)">1</text>
<text x="367.75" y="299.03" font-size="4" text-anchor="middle" fill="#55515a" transform="rotate(0.05 367.75 299.03)">1</text>
<text x="361.05" y="304.11" font-size="4" text-anchor="middle" fill="#55515a" transform="rotate(0.05 361.05 304.11)">3</text>
<text x="361.05" y="319.35" font-size="4" text-anchor="middle" fill="#55515a" transform="rotate(0.05 361.05 319.35)">3</text>
<text x="129" y="330.05" font-size="5" text-anchor="end" fill="#2a2a2a" transform="rotate(0.05 129 330.05)" stroke="#2a2a2a" stroke-width="0.14">ATM</text>
<text x="129" y="335.13" font-size="5" text-anchor="end" fill="#2a2a2a" transform="rotate(0.05 129 335.13)" stroke="#2a2a2a" stroke-width="0.14">TP53</text>
<text x="129" y="340.21" font-size="5" text-anchor="end" fill="#2a2a2a" transform="rotate(0.05 129 340.21)" stroke="#2a2a2a" stroke-width="0.14">TRRAP</text>
<text x="129" y="345.29" font-size="5" text-anchor="end" fill="#2a2a2a" transform="rotate(0.05 129 345.29)" stroke="#2a2a2a" stroke-width="0.14">PRKDC</text>
<text x="129" y="350.37" font-size="5" text-anchor="end" fill="#2a2a2a" transform="rotate(0.05 129 350.37)" stroke="#2a2a2a" stroke-width="0.14">MSH6</text>
<text x="129" y="355.45" font-size="5" text-anchor="end" fill="#2a2a2a" transform="rotate(0.05 129 355.45)" stroke="#2a2a2a" stroke-width="0.14">PRDM1</text>
<text x="129" y="360.53" font-size="5" text-anchor="end" fill="#2a2a2a" transform="rotate(0.05 129 360.53)" stroke="#2a2a2a" stroke-width="0.14">TAF1</text>
<text x="129" y="365.61" font-size="5" text-anchor="end" fill="#2a2a2a" transform="rotate(0.05 129 365.61)" stroke="#2a2a2a" stroke-width="0.14">CHEK2</text>
<text x="129" y="370.69" font-size="5" text-anchor="end" fill="#2a2a2a" transform="rotate(0.05 129 370.69)" stroke="#2a2a2a" stroke-width="0.14">TOP2A</text>
<text x="129" y="375.77" font-size="5" text-anchor="end" fill="#2a2a2a" transform="rotate(0.05 129 375.77)" stroke="#2a2a2a" stroke-width="0.14">FOXO1</text>
<text x="129" y="380.85" font-size="5" text-anchor="end" fill="#2a2a2a" transform="rotate(0.05 129 380.85)" stroke="#2a2a2a" stroke-width="0.14">MSH2</text>
<text x="129" y="385.93" font-size="5" text-anchor="end" fill="#2a2a2a" transform="rotate(0.05 129 385.93)" stroke="#2a2a2a" stroke-width="0.14">PMS1</text>
<text x="129" y="391.01" font-size="5" text-anchor="end" fill="#2a2a2a" transform="rotate(0.05 129 391.01)" stroke="#2a2a2a" stroke-width="0.14">REV3L</text>
<text x="129" y="396.09" font-size="5" text-anchor="end" fill="#2a2a2a" transform="rotate(0.05 129 396.09)" stroke="#2a2a2a" stroke-width="0.14">RHOB</text>
<text x="129" y="401.17" font-size="5" text-anchor="end" fill="#2a2a2a" transform="rotate(0.05 129 401.17)" stroke="#2a2a2a" stroke-width="0.14">UBR5</text>
<rect x="132.4" y="326" width="114.38" height="75.32" fill="#c3bec4"/>
<path d="M138.74 326V401.32M145.52 326V401.32M152.3 326V401.32M159.08 326V401.32M165.86 326V401.32M172.64 326V401.32M179.42 326V401.32M186.2 326V401.32M192.98 326V401.32M199.76 326V401.32M206.54 326V401.32M213.32 326V401.32M220.1 326V401.32M226.88 326V401.32M233.66 326V401.32M240.44 326V401.32M132.4 330.64H246.78M132.4 335.72H246.78M132.4 340.8H246.78M132.4 345.88H246.78M132.4 350.96H246.78M132.4 356.04H246.78M132.4 361.12H246.78M132.4 366.2H246.78M132.4 371.28H246.78M132.4 376.36H246.78M132.4 381.44H246.78M132.4 386.52H246.78M132.4 391.6H246.78M132.4 396.68H246.78" stroke="#efedf0" stroke-width="0.88" fill="none"/>
<rect x="145.84" y="325.9" width="6.14" height="4.55" fill="#e0a030"/>
<rect x="152.62" y="325.9" width="6.14" height="4.55" fill="#e0a030"/>
<rect x="172.96" y="325.9" width="6.14" height="4.55" fill="#e0a030"/>
<rect x="213.64" y="325.9" width="6.14" height="4.55" fill="#e0a030"/>
<rect x="132.28" y="330.98" width="6.14" height="4.55" fill="#5c2f66"/>
<rect x="139.06" y="330.98" width="6.14" height="4.55" fill="#e0a030"/>
<rect x="152.62" y="330.98" width="6.14" height="4.55" fill="#e0a030"/>
<rect x="159.4" y="330.98" width="6.14" height="4.55" fill="#e0a030"/>
<rect x="172.96" y="330.98" width="6.14" height="4.55" fill="#5c2f66"/>
<rect x="132.28" y="336.06" width="6.14" height="4.55" fill="#e0a030"/>
<rect x="139.06" y="336.06" width="6.14" height="4.55" fill="#e0a030"/>
<rect x="186.52" y="336.06" width="6.14" height="4.55" fill="#e0a030"/>
<rect x="166.18" y="346.22" width="6.14" height="4.55" fill="#e0a030"/>
<rect x="152.62" y="351.3" width="6.14" height="4.55" fill="#e0a030"/>
<rect x="206.86" y="351.3" width="6.14" height="4.55" fill="#5c2f66"/>
<rect x="193.3" y="366.54" width="6.14" height="4.55" fill="#e0a030"/>
<rect x="220.42" y="366.54" width="6.14" height="4.55" fill="#e0a030"/>
<rect x="132.28" y="397.02" width="6.14" height="4.55" fill="#e0a030"/>
<path d="M134.37 326V401.32M136.33 326V401.32M141.15 326V401.32M143.11 326V401.32M147.93 326V401.32M149.89 326V401.32M154.71 326V401.32M156.67 326V401.32M161.49 326V401.32M163.45 326V401.32M168.27 326V401.32M170.23 326V401.32M175.05 326V401.32M177.01 326V401.32M181.83 326V401.32M183.79 326V401.32M188.61 326V401.32M190.57 326V401.32M195.39 326V401.32M197.35 326V401.32M202.17 326V401.32M204.13 326V401.32M208.95 326V401.32M210.91 326V401.32M215.73 326V401.32M217.69 326V401.32M222.51 326V401.32M224.47 326V401.32M229.29 326V401.32M231.25 326V401.32M236.07 326V401.32M238.03 326V401.32M242.85 326V401.32M244.81 326V401.32M132.4 327.4H246.78M132.4 328.8H246.78M132.4 332.48H246.78M132.4 333.88H246.78M132.4 337.56H246.78M132.4 338.96H246.78M132.4 342.64H246.78M132.4 344.04H246.78M132.4 347.72H246.78M132.4 349.12H246.78M132.4 352.8H246.78M132.4 354.2H246.78M132.4 357.88H246.78M132.4 359.28H246.78M132.4 362.96H246.78M132.4 364.36H246.78M132.4 368.04H246.78M132.4 369.44H246.78M132.4 373.12H246.78M132.4 374.52H246.78M132.4 378.2H246.78M132.4 379.6H246.78M132.4 383.28H246.78M132.4 384.68H246.78M132.4 388.36H246.78M132.4 389.76H246.78M132.4 393.44H246.78M132.4 394.84H246.78M132.4 398.52H246.78M132.4 399.92H246.78" stroke="#ffffff" stroke-opacity="0.13" stroke-width="0.5" fill="none"/>
<text x="155.69" y="329.55" font-size="4" text-anchor="middle" fill="#55515a" transform="rotate(0.05 155.69 329.55)">3</text>
<text x="162.47" y="329.55" font-size="4" text-anchor="middle" fill="#55515a" transform="rotate(0.05 162.47 329.55)">3</text>
<text x="169.25" y="329.55" font-size="4" text-anchor="middle" fill="#55515a" transform="rotate(0.05 169.25 329.55)">1</text>
<text x="216.71" y="329.55" font-size="4" text-anchor="middle" fill="#55515a" transform="rotate(0.05 216.71 329.55)">1</text>
<text x="135.35" y="334.63" font-size="4" text-anchor="middle" fill="#e9dff0" transform="rotate(0.05 135.35 334.63)">1</text>
<text x="142.13" y="334.63" font-size="4" text-anchor="middle" fill="#55515a" transform="rotate(0.05 142.13 334.63)">1</text>
<text x="148.91" y="334.63" font-size="4" text-anchor="middle" fill="#55515a" transform="rotate(0.05 148.91 334.63)">1</text>
<text x="155.69" y="334.63" font-size="4" text-anchor="middle" fill="#55515a" transform="rotate(0.05 155.69 334.63)">1</text>
<text x="162.47" y="334.63" font-size="4" text-anchor="middle" fill="#55515a" transform="rotate(0.05 162.47 334.63)">1</text>
<text x="169.25" y="334.63" font-size="4" text-anchor="middle" fill="#55515a" transform="rotate(0.05 169.25 334.63)">1</text>
<text x="176.03" y="334.63" font-size="4" text-anchor="middle" fill="#e9dff0" transform="rotate(0.05 176.03 334.63)">1</text>
<text x="182.81" y="334.63" font-size="4" text-anchor="middle" fill="#55515a" transform="rotate(0.05 182.81 334.63)">1</text>
<text x="189.59" y="334.63" font-size="4" text-anchor="middle" fill="#55515a" transform="rotate(0.05 189.59 334.63)">1</text>
<text x="209.93" y="334.63" font-size="4" text-anchor="middle" fill="#55515a" transform="rotate(0.05 209.93 334.63)">1</text>
<text x="135.35" y="339.71" font-size="4" text-anchor="middle" fill="#55515a" transform="rotate(0.05 135.35 339.71)">3</text>
<text x="148.91" y="339.71" font-size="4" text-anchor="middle" fill="#55515a" transform="rotate(0.05 148.91 339.71)">4</text>
<text x="162.47" y="339.71" font-size="4" text-anchor="middle" fill="#55515a" transform="rotate(0.05 162.47 339.71)">3</text>
<text x="169.25" y="339.71" font-size="4" text-anchor="middle" fill="#55515a" transform="rotate(0.05 169.25 339.71)">3</text>
<text x="176.03" y="339.71" font-size="4" text-anchor="middle" fill="#55515a" transform="rotate(0.05 176.03 339.71)">3</text>
<text x="182.81" y="339.71" font-size="4" text-anchor="middle" fill="#55515a" transform="rotate(0.05 182.81 339.71)">3</text>
<text x="189.59" y="339.71" font-size="4" text-anchor="middle" fill="#55515a" transform="rotate(0.05 189.59 339.71)">3</text>
<text x="196.37" y="339.71" font-size="4" text-anchor="middle" fill="#55515a" transform="rotate(0.05 196.37 339.71)">3</text>
<text x="203.15" y="339.71" font-size="4" text-anchor="middle" fill="#55515a" transform="rotate(0.05 203.15 339.71)">3</text>
<text x="142.13" y="344.79" font-size="4" text-anchor="middle" fill="#55515a" transform="rotate(0.05 142.13 344.79)">1</text>
<text x="148.91" y="344.79" font-size="4" text-anchor="middle" fill="#55515a" transform="rotate(0.05 148.91 344.79)">4</text>
<text x="162.47" y="344.79" font-size="4" text-anchor="middle" fill="#55515a" transform="rotate(0.05 162.47 344.79)">3</text>
<text x="169.25" y="344.79" font-size="4" text-anchor="middle" fill="#55515a" transform="rotate(0.05 169.25 344.79)">3</text>
<text x="176.03" y="344.79" font-size="4" text-anchor="middle" fill="#55515a" transform="rotate(0.05 176.03 344.79)">1</text>
<text x="182.81" y="344.79" font-size="4" text-anchor="middle" fill="#55515a" transform="rotate(0.05 182.81 344.79)">3</text>
<text x="135.35" y="349.87" font-size="4" text-anchor="middle" fill="#55515a" transform="rotate(0.05 135.35 349.87)">3</text>
<text x="148.91" y="349.87" font-size="4" text-anchor="middle" fill="#55515a" transform="rotate(0.05 148.91 349.87)">3</text>
<text x="169.25" y="349.87" font-size="4" text-anchor="middle" fill="#55515a" transform="rotate(0.05 169.25 349.87)">3</text>
<text x="135.35" y="354.95" font-size="4" text-anchor="middle" fill="#55515a" transform="rotate(0.05 135.35 354.95)">3</text>
<text x="142.13" y="354.95" font-size="4" text-anchor="middle" fill="#55515a" transform="rotate(0.05 142.13 354.95)">1</text>
<text x="155.69" y="354.95" font-size="4" text-anchor="middle" fill="#55515a" transform="rotate(0.05 155.69 354.95)">1</text>
<text x="162.47" y="354.95" font-size="4" text-anchor="middle" fill="#55515a" transform="rotate(0.05 162.47 354.95)">1</text>
<text x="182.81" y="354.95" font-size="4" text-anchor="middle" fill="#55515a" transform="rotate(0.05 182.81 354.95)">1</text>
<text x="209.93" y="354.95" font-size="4" text-anchor="middle" fill="#e9dff0" transform="rotate(0.05 209.93 354.95)">1</text>
<text x="135.35" y="360.03" font-size="4" text-anchor="middle" fill="#55515a" transform="rotate(0.05 135.35 360.03)">3</text>
<text x="148.91" y="360.03" font-size="4" text-anchor="middle" fill="#55515a" transform="rotate(0.05 148.91 360.03)">1</text>
<text x="155.69" y="360.03" font-size="4" text-anchor="middle" fill="#55515a" transform="rotate(0.05 155.69 360.03)">1</text>
<text x="162.47" y="360.03" font-size="4" text-anchor="middle" fill="#55515a" transform="rotate(0.05 162.47 360.03)">1</text>
<text x="176.03" y="360.03" font-size="4" text-anchor="middle" fill="#55515a" transform="rotate(0.05 176.03 360.03)">1</text>
<text x="182.81" y="360.03" font-size="4" text-anchor="middle" fill="#55515a" transform="rotate(0.05 182.81 360.03)">1</text>
<text x="189.59" y="360.03" font-size="4" text-anchor="middle" fill="#55515a" transform="rotate(0.05 189.59 360.03)">3</text>
<text x="135.35" y="365.11" font-size="4" text-anchor="middle" fill="#55515a" transform="rotate(0.05 135.35 365.11)">3</text>
<text x="142.13" y="365.11" font-size="4" text-anchor="middle" fill="#55515a" transform="rotate(0.05 142.13 365.11)">3</text>
<text x="155.69" y="365.11" font-size="4" text-anchor="middle" fill="#55515a" transform="rotate(0.05 155.69 365.11)">1</text>
<text x="196.37" y="365.11" font-size="4" text-anchor="middle" fill="#55515a" transform="rotate(0.05 196.37 365.11)">3</text>
<text x="135.35" y="370.19" font-size="4" text-anchor="middle" fill="#55515a" transform="rotate(0.05 135.35 370.19)">3</text>
<text x="142.13" y="370.19" font-size="4" text-anchor="middle" fill="#55515a" transform="rotate(0.05 142.13 370.19)">3</text>
<text x="148.91" y="370.19" font-size="4" text-anchor="middle" fill="#55515a" transform="rotate(0.05 148.91 370.19)">3</text>
<text x="162.47" y="370.19" font-size="4" text-anchor="middle" fill="#55515a" transform="rotate(0.05 162.47 370.19)">3</text>
<text x="169.25" y="370.19" font-size="4" text-anchor="middle" fill="#55515a" transform="rotate(0.05 169.25 370.19)">3</text>
<text x="182.81" y="370.19" font-size="4" text-anchor="middle" fill="#55515a" transform="rotate(0.05 182.81 370.19)">3</text>
<text x="189.59" y="370.19" font-size="4" text-anchor="middle" fill="#55515a" transform="rotate(0.05 189.59 370.19)">3</text>
<text x="148.91" y="375.27" font-size="4" text-anchor="middle" fill="#55515a" transform="rotate(0.05 148.91 375.27)">1</text>
<text x="162.47" y="375.27" font-size="4" text-anchor="middle" fill="#55515a" transform="rotate(0.05 162.47 375.27)">1</text>
<text x="176.03" y="375.27" font-size="4" text-anchor="middle" fill="#55515a" transform="rotate(0.05 176.03 375.27)">1</text>
<text x="182.81" y="375.27" font-size="4" text-anchor="middle" fill="#55515a" transform="rotate(0.05 182.81 375.27)">3</text>
<text x="189.59" y="375.27" font-size="4" text-anchor="middle" fill="#55515a" transform="rotate(0.05 189.59 375.27)">1</text>
<text x="196.37" y="375.27" font-size="4" text-anchor="middle" fill="#55515a" transform="rotate(0.05 196.37 375.27)">1</text>
<text x="135.35" y="380.35" font-size="4" text-anchor="middle" fill="#55515a" transform="rotate(0.05 135.35 380.35)">3</text>
<text x="148.91" y="380.35" font-size="4" text-anchor="middle" fill="#55515a" transform="rotate(0.05 148.91 380.35)">3</text>
<text x="169.25" y="380.35" font-size="4" text-anchor="middle" fill="#55515a" transform="rotate(0.05 169.25 380.35)">3</text>
<text x="135.35" y="385.43" font-size="4" text-anchor="middle" fill="#55515a" transform="rotate(0.05 135.35 385.43)">1</text>
<text x="142.13" y="385.43" font-size="4" text-anchor="middle" fill="#55515a" transform="rotate(0.05 142.13 385.43)">1</text>
<text x="148.91" y="385.43" font-size="4" text-anchor="middle" fill="#55515a" transform="rotate(0.05 148.91 385.43)">3</text>
<text x="176.03" y="385.43" font-size="4" text-anchor="middle" fill="#55515a" transform="rotate(0.05 176.03 385.43)">3</text>
<text x="196.37" y="385.43" font-size="4" text-anchor="middle" fill="#55515a" transform="rotate(0.05 196.37 385.43)">3</text>
<text x="135.35" y="390.51" font-size="4" text-anchor="middle" fill="#55515a" transform="rotate(0.05 135.35 390.51)">3</text>
<text x="142.13" y="390.51" font-size="4" text-anchor="middle" fill="#55515a" transform="rotate(0.05 142.13 390.51)">3</text>
<text x="148.91" y="390.51" font-size="4" text-anchor="middle" fill="#55515a" transform="rotate(0.05 148.91 390.51)">1</text>
<text x="155.69" y="390.51" font-size="4" text-anchor="middle" fill="#55515a" transform="rotate(0.05 155.69 390.51)">1</text>
<text x="162.47" y="390.51" font-size="4" text-anchor="middle" fill="#55515a" transform="rotate(0.05 162.47 390.51)">1</text>
<text x="182.81" y="390.51" font-size="4" text-anchor="middle" fill="#55515a" transform="rotate(0.05 182.81 390.51)">1</text>
<text x="135.35" y="395.59" font-size="4" text-anchor="middle" fill="#55515a" transform="rotate(0.05 135.35 395.59)">3</text>
<text x="142.13" y="395.59" font-size="4" text-anchor="middle" fill="#55515a" transform="rotate(0.05 142.13 395.59)">3</text>
<text x="148.91" y="395.59" font-size="4" text-anchor="middle" fill="#55515a" transform="rotate(0.05 148.91 395.59)">3</text>
<text x="135.35" y="400.67" font-size="4" text-anchor="middle" fill="#55515a" transform="rotate(0.05 135.35 400.67)">3</text>
<text x="142.13" y="400.67" font-size="4" text-anchor="middle" fill="#55515a" transform="rotate(0.05 142.13 400.67)">3</text>
<text x="148.91" y="400.67" font-size="4" text-anchor="middle" fill="#55515a" transform="rotate(0.05 148.91 400.67)">1</text>
<text x="162.47" y="400.67" font-size="4" text-anchor="middle" fill="#55515a" transform="rotate(0.05 162.47 400.67)">3</text>
<text x="169.25" y="400.67" font-size="4" text-anchor="middle" fill="#55515a" transform="rotate(0.05 169.25 400.67)">3</text>
<text x="182.81" y="400.67" font-size="4" text-anchor="middle" fill="#55515a" transform="rotate(0.05 182.81 400.67)">3</text>
<rect x="252.8" y="326" width="19.26" height="75.32" fill="#c3bec4"/>
<path d="M259.09 326V401.32M265.77 326V401.32M252.8 330.64H272.06M252.8 335.72H272.06M252.8 340.8H272.06M252.8 345.88H272.06M252.8 350.96H272.06M252.8 356.04H272.06M252.8 361.12H272.06M252.8 366.2H272.06M252.8 371.28H272.06M252.8 376.36H272.06M252.8 381.44H272.06M252.8 386.52H272.06M252.8 391.6H272.06M252.8 396.68H272.06" stroke="#efedf0" stroke-width="0.78" fill="none"/>
<rect x="252.68" y="325.9" width="6.14" height="4.55" fill="#e0a030"/>
<rect x="259.36" y="346.22" width="6.14" height="4.55" fill="#e0a030"/>
<rect x="259.36" y="376.7" width="6.14" height="4.55" fill="#e0a030"/>
<path d="M254.77 326V401.32M256.73 326V401.32M261.45 326V401.32M263.41 326V401.32M268.13 326V401.32M270.09 326V401.32M252.8 327.4H272.06M252.8 328.8H272.06M252.8 332.48H272.06M252.8 333.88H272.06M252.8 337.56H272.06M252.8 338.96H272.06M252.8 342.64H272.06M252.8 344.04H272.06M252.8 347.72H272.06M252.8 349.12H272.06M252.8 352.8H272.06M252.8 354.2H272.06M252.8 357.88H272.06M252.8 359.28H272.06M252.8 362.96H272.06M252.8 364.36H272.06M252.8 368.04H272.06M252.8 369.44H272.06M252.8 373.12H272.06M252.8 374.52H272.06M252.8 378.2H272.06M252.8 379.6H272.06M252.8 383.28H272.06M252.8 384.68H272.06M252.8 388.36H272.06M252.8 389.76H272.06M252.8 393.44H272.06M252.8 394.84H272.06M252.8 398.52H272.06M252.8 399.92H272.06" stroke="#ffffff" stroke-opacity="0.13" stroke-width="0.5" fill="none"/>
<text x="255.75" y="329.55" font-size="4" text-anchor="middle" fill="#55515a" transform="rotate(0.05 255.75 329.55)">1</text>
<text x="255.75" y="334.63" font-size="4" text-anchor="middle" fill="#55515a" transform="rotate(0.05 255.75 334.63)">3</text>
<text x="255.75" y="339.71" font-size="4" text-anchor="middle" fill="#55515a" transform="rotate(0.05 255.75 339.71)">3</text>
<text x="262.43" y="339.71" font-size="4" text-anchor="middle" fill="#55515a" transform="rotate(0.05 262.43 339.71)">3</text>
<text x="255.75" y="349.87" font-size="4" text-anchor="middle" fill="#55515a" transform="rotate(0.05 255.75 349.87)">1</text>
<text x="262.43" y="349.87" font-size="4" text-anchor="middle" fill="#55515a" transform="rotate(0.05 262.43 349.87)">3</text>
<text x="255.75" y="354.95" font-size="4" text-anchor="middle" fill="#55515a" transform="rotate(0.05 255.75 354.95)">1</text>
<text x="262.43" y="354.95" font-size="4" text-anchor="middle" fill="#55515a" transform="rotate(0.05 262.43 354.95)">1</text>
<text x="262.43" y="360.03" font-size="4" text-anchor="middle" fill="#55515a" transform="rotate(0.05 262.43 360.03)">1</text>
<text x="255.75" y="370.19" font-size="4" text-anchor="middle" fill="#55515a" transform="rotate(0.05 255.75 370.19)">3</text>
<text x="255.75" y="380.35" font-size="4" text-anchor="middle" fill="#55515a" transform="rotate(0.05 255.75 380.35)">1</text>
<text x="262.43" y="380.35" font-size="4" text-anchor="middle" fill="#55515a" transform="rotate(0.05 262.43 380.35)">3</text>
<text x="262.43" y="390.51" font-size="4" text-anchor="middle" fill="#55515a" transform="rotate(0.05 262.43 390.51)">1</text>
<text x="255.75" y="395.59" font-size="4" text-anchor="middle" fill="#55515a" transform="rotate(0.05 255.75 395.59)">1</text>
<text x="262.43" y="395.59" font-size="4" text-anchor="middle" fill="#55515a" transform="rotate(0.05 262.43 395.59)">3</text>
<rect x="278.2" y="326" width="73.55" height="75.32" fill="#c3bec4"/>
<path d="M284.53 326V401.32M291.3 326V401.32M298.06 326V401.32M304.83 326V401.32M311.59 326V401.32M318.36 326V401.32M325.12 326V401.32M331.89 326V401.32M338.65 326V401.32M345.42 326V401.32M278.2 330.64H351.75M278.2 335.72H351.75M278.2 340.8H351.75M278.2 345.88H351.75M278.2 350.96H351.75M278.2 356.04H351.75M278.2 361.12H351.75M278.2 366.2H351.75M278.2 371.28H351.75M278.2 376.36H351.75M278.2 381.44H351.75M278.2 386.52H351.75M278.2 391.6H351.75M278.2 396.68H351.75" stroke="#efedf0" stroke-width="0.86" fill="none"/>
<rect x="278.08" y="325.9" width="6.14" height="4.55" fill="#e0a030"/>
<rect x="284.84" y="325.9" width="6.14" height="4.55" fill="#e0a030"/>
<rect x="325.44" y="325.9" width="6.14" height="4.55" fill="#e0a030"/>
<rect x="338.96" y="325.9" width="6.14" height="3.1" fill="#5c2f66"/>
<rect x="338.96" y="329" width="6.14" height="1.45" fill="#e0a030"/>
<rect x="284.84" y="330.98" width="6.14" height="3.1" fill="#5c2f66"/>
<rect x="284.84" y="334.08" width="6.14" height="1.45" fill="#e0a030"/>
<rect x="278.08" y="336.06" width="6.14" height="4.55" fill="#e0a030"/>
<rect x="284.84" y="336.06" width="6.14" height="4.55" fill="#e0a030"/>
<rect x="278.08" y="341.14" width="6.14" height="4.55" fill="#e0a030"/>
<rect x="298.38" y="341.14" width="6.14" height="4.55" fill="#e0a030"/>
<rect x="338.96" y="341.14" width="6.14" height="4.55" fill="#e0a030"/>
<rect x="284.84" y="351.3" width="6.14" height="4.55" fill="#e0a030"/>
<rect x="284.84" y="356.38" width="6.14" height="4.55" fill="#e0a030"/>
<rect x="298.38" y="361.46" width="6.14" height="4.55" fill="#e0a030"/>
<rect x="325.44" y="371.62" width="6.14" height="4.55" fill="#e0a030"/>
<rect x="284.84" y="381.78" width="6.14" height="4.55" fill="#e0a030"/>
<rect x="311.9" y="391.94" width="6.14" height="4.55" fill="#e0a030"/>
<rect x="278.08" y="397.02" width="6.14" height="4.55" fill="#e0a030"/>
<path d="M280.17 326V401.32M282.13 326V401.32M286.93 326V401.32M288.9 326V401.32M293.7 326V401.32M295.66 326V401.32M300.46 326V401.32M302.43 326V401.32M307.23 326V401.32M309.19 326V401.32M313.99 326V401.32M315.96 326V401.32M320.76 326V401.32M322.72 326V401.32M327.52 326V401.32M329.49 326V401.32M334.29 326V401.32M336.25 326V401.32M341.05 326V401.32M343.02 326V401.32M347.82 326V401.32M349.78 326V401.32M278.2 327.4H351.75M278.2 328.8H351.75M278.2 332.48H351.75M278.2 333.88H351.75M278.2 337.56H351.75M278.2 338.96H351.75M278.2 342.64H351.75M278.2 344.04H351.75M278.2 347.72H351.75M278.2 349.12H351.75M278.2 352.8H351.75M278.2 354.2H351.75M278.2 357.88H351.75M278.2 359.28H351.75M278.2 362.96H351.75M278.2 364.36H351.75M278.2 368.04H351.75M278.2 369.44H351.75M278.2 373.12H351.75M278.2 374.52H351.75M278.2 378.2H351.75M278.2 379.6H351.75M278.2 383.28H351.75M278.2 384.68H351.75M278.2 388.36H351.75M278.2 389.76H351.75M278.2 393.44H351.75M278.2 394.84H351.75M278.2 398.52H351.75M278.2 399.92H351.75" stroke="#ffffff" stroke-opacity="0.13" stroke-width="0.5" fill="none"/>
<text x="281.15" y="334.63" font-size="4" text-anchor="middle" fill="#55515a" transform="rotate(0.05 281.15 334.63)">3</text>
<text x="294.68" y="334.63" font-size="4" text-anchor="middle" fill="#55515a" transform="rotate(0.05 294.68 334.63)">3</text>
<text x="287.91" y="339.71" font-size="4" text-anchor="middle" fill="#55515a" transform="rotate(0.05 287.91 339.71)">3</text>
<text x="287.91" y="344.79" font-size="4" text-anchor="middle" fill="#55515a" transform="rotate(0.05 287.91 344.79)">3</text>
<text x="294.68" y="349.87" font-size="4" text-anchor="middle" fill="#55515a" transform="rotate(0.05 294.68 349.87)">3</text>
<text x="281.15" y="360.03" font-size="4" text-anchor="middle" fill="#55515a" transform="rotate(0.05 281.15 360.03)">1</text>
<text x="308.21" y="360.03" font-size="4" text-anchor="middle" fill="#55515a" transform="rotate(0.05 308.21 360.03)">1</text>
<text x="281.15" y="370.19" font-size="4" text-anchor="middle" fill="#55515a" transform="rotate(0.05 281.15 370.19)">3</text>
<text x="314.97" y="370.19" font-size="4" text-anchor="middle" fill="#55515a" transform="rotate(0.05 314.97 370.19)">3</text>
<text x="281.15" y="375.27" font-size="4" text-anchor="middle" fill="#55515a" transform="rotate(0.05 281.15 375.27)">1</text>
<text x="287.91" y="375.27" font-size="4" text-anchor="middle" fill="#55515a" transform="rotate(0.05 287.91 375.27)">1</text>
<text x="294.68" y="380.35" font-size="4" text-anchor="middle" fill="#55515a" transform="rotate(0.05 294.68 380.35)">3</text>
<text x="287.91" y="400.67" font-size="4" text-anchor="middle" fill="#55515a" transform="rotate(0.05 287.91 400.67)">3</text>
<rect x="358.1" y="326" width="32.7" height="75.32" fill="#c3bec4"/>
<path d="M364.4 326V401.32M371.1 326V401.32M377.8 326V401.32M384.5 326V401.32M358.1 330.64H390.8M358.1 335.72H390.8M358.1 340.8H390.8M358.1 345.88H390.8M358.1 350.96H390.8M358.1 356.04H390.8M358.1 361.12H390.8M358.1 366.2H390.8M358.1 371.28H390.8M358.1 376.36H390.8M358.1 381.44H390.8M358.1 386.52H390.8M358.1 391.6H390.8M358.1 396.68H390.8" stroke="#efedf0" stroke-width="0.8" fill="none"/>
<rect x="378.08" y="325.9" width="6.14" height="4.55" fill="#5c2f66"/>
<rect x="357.98" y="336.06" width="6.14" height="4.55" fill="#e0a030"/>
<rect x="364.68" y="351.3" width="6.14" height="4.55" fill="#5c2f66"/>
<rect x="371.38" y="361.46" width="6.14" height="4.55" fill="#e0a030"/>
<rect x="378.08" y="361.46" width="6.14" height="4.55" fill="#e0a030"/>
<rect x="371.38" y="386.86" width="6.14" height="4.55" fill="#5c2f66"/>
<path d="M360.07 326V401.32M362.03 326V401.32M366.77 326V401.32M368.73 326V401.32M373.47 326V401.32M375.43 326V401.32M380.17 326V401.32M382.13 326V401.32M386.87 326V401.32M388.83 326V401.32M358.1 327.4H390.8M358.1 328.8H390.8M358.1 332.48H390.8M358.1 333.88H390.8M358.1 337.56H390.8M358.1 338.96H390.8M358.1 342.64H390.8M358.1 344.04H390.8M358.1 347.72H390.8M358.1 349.12H390.8M358.1 352.8H390.8M358.1 354.2H390.8M358.1 357.88H390.8M358.1 359.28H390.8M358.1 362.96H390.8M358.1 364.36H390.8M358.1 368.04H390.8M358.1 369.44H390.8M358.1 373.12H390.8M358.1 374.52H390.8M358.1 378.2H390.8M358.1 379.6H390.8M358.1 383.28H390.8M358.1 384.68H390.8M358.1 388.36H390.8M358.1 389.76H390.8M358.1 393.44H390.8M358.1 394.84H390.8M358.1 398.52H390.8M358.1 399.92H390.8" stroke="#ffffff" stroke-opacity="0.13" stroke-width="0.5" fill="none"/>
<text x="367.75" y="339.71" font-size="4" text-anchor="middle" fill="#55515a" transform="rotate(0.05 367.75 339.71)">3</text>
<text x="361.05" y="344.79" font-size="4" text-anchor="middle" fill="#55515a" transform="rotate(0.05 361.05 344.79)">3</text>
<text x="367.75" y="354.95" font-size="4" text-anchor="middle" fill="#e9dff0" transform="rotate(0.05 367.75 354.95)">1</text>
<text x="367.75" y="360.03" font-size="4" text-anchor="middle" fill="#55515a" transform="rotate(0.05 367.75 360.03)">1</text>
<text x="361.05" y="365.11" font-size="4" text-anchor="middle" fill="#55515a" transform="rotate(0.05 361.05 365.11)">3</text>
<text x="361.05" y="375.27" font-size="4" text-anchor="middle" fill="#55515a" transform="rotate(0.05 361.05 375.27)">3</text>
<text x="367.75" y="390.51" font-size="4" text-anchor="middle" fill="#55515a" transform="rotate(0.05 367.75 390.51)">1</text>
<text x="361.05" y="400.67" font-size="4" text-anchor="middle" fill="#55515a" transform="rotate(0.05 361.05 400.67)">3</text>
<text x="129" y="411.35" font-size="5" text-anchor="end" fill="#2a2a2a" transform="rotate(0.05 129 411.35)" stroke="#2a2a2a" stroke-width="0.14">Chr7q-Gain</text>
<text x="129" y="416.43" font-size="5" text-anchor="end" fill="#2a2a2a" transform="rotate(0.05 129 416.43)" stroke="#2a2a2a" stroke-width="0.14">STAT3</text>
<text x="129" y="421.51" font-size="5" text-anchor="end" fill="#2a2a2a" transform="rotate(0.05 129 421.51)" stroke="#2a2a2a" stroke-width="0.14">MYC</text>
<text x="129" y="426.59" font-size="5" text-anchor="end" fill="#2a2a2a" transform="rotate(0.05 129 426.59)" stroke="#2a2a2a" stroke-width="0.14">REL</text>
<text x="129" y="431.67" font-size="5" text-anchor="end" fill="#2a2a2a" transform="rotate(0.05 129 431.67)" stroke="#2a2a2a" stroke-width="0.14">BCL11B</text>
<text x="129" y="436.75" font-size="5" text-anchor="end" fill="#2a2a2a" transform="rotate(0.05 129 436.75)" stroke="#2a2a2a" stroke-width="0.14">Chr2p-Gain</text>
<text x="129" y="441.83" font-size="5" text-anchor="end" fill="#2a2a2a" transform="rotate(0.05 129 441.83)" stroke="#2a2a2a" stroke-width="0.14">Chr8q-Gain</text>
<text x="129" y="446.91" font-size="5" text-anchor="end" fill="#2a2a2a" transform="rotate(0.05 129 446.91)" stroke="#2a2a2a" stroke-width="0.14">Chr5p-Gain</text>
<rect x="132.4" y="407.3" width="114.38" height="39.76" fill="#c3bec4"/>
<path d="M138.74 407.3V447.06M145.52 407.3V447.06M152.3 407.3V447.06M159.08 407.3V447.06M165.86 407.3V447.06M172.64 407.3V447.06M179.42 407.3V447.06M186.2 407.3V447.06M192.98 407.3V447.06M199.76 407.3V447.06M206.54 407.3V447.06M213.32 407.3V447.06M220.1 407.3V447.06M226.88 407.3V447.06M233.66 407.3V447.06M240.44 407.3V447.06M132.4 411.94H246.78M132.4 417.02H246.78M132.4 422.1H246.78M132.4 427.18H246.78M132.4 432.26H246.78M132.4 437.34H246.78M132.4 442.42H246.78" stroke="#efedf0" stroke-width="0.88" fill="none"/>
<rect x="132.28" y="407.2" width="6.14" height="4.55" fill="#bb5a49"/>
<rect x="145.84" y="407.2" width="6.14" height="4.55" fill="#a81f3c"/>
<rect x="152.62" y="407.2" width="6.14" height="4.55" fill="#bb5a49"/>
<rect x="159.4" y="407.2" width="6.14" height="4.55" fill="#bb5a49"/>
<rect x="166.18" y="407.2" width="6.14" height="4.55" fill="#bb5a49"/>
<rect x="172.96" y="407.2" width="6.14" height="4.55" fill="#bb5a49"/>
<rect x="179.74" y="407.2" width="6.14" height="4.55" fill="#bb5a49"/>
<rect x="186.52" y="407.2" width="6.14" height="4.55" fill="#bb5a49"/>
<rect x="193.3" y="407.2" width="6.14" height="4.55" fill="#bb5a49"/>
<rect x="200.08" y="407.2" width="6.14" height="4.55" fill="#bb5a49"/>
<rect x="132.28" y="412.28" width="6.14" height="4.55" fill="#bb5a49"/>
<rect x="139.06" y="412.28" width="6.14" height="4.55" fill="#bb5a49"/>
<rect x="145.84" y="412.28" width="6.14" height="4.55" fill="#bb5a49"/>
<rect x="159.4" y="412.28" width="6.14" height="4.55" fill="#bb5a49"/>
<rect x="166.18" y="412.28" width="6.14" height="4.55" fill="#bb5a49"/>
<rect x="179.74" y="412.28" width="6.14" height="4.55" fill="#bb5a49"/>
<rect x="186.52" y="412.28" width="6.14" height="4.55" fill="#bb5a49"/>
<rect x="132.28" y="417.36" width="6.14" height="4.55" fill="#bb5a49"/>
<rect x="139.06" y="417.36" width="6.14" height="4.55" fill="#bb5a49"/>
<rect x="159.4" y="417.36" width="6.14" height="4.55" fill="#bb5a49"/>
<rect x="166.18" y="417.36" width="6.14" height="4.55" fill="#bb5a49"/>
<rect x="172.96" y="417.36" width="6.14" height="4.55" fill="#a81f3c"/>
<rect x="179.74" y="417.36" width="6.14" height="4.55" fill="#a81f3c"/>
<rect x="200.08" y="417.36" width="6.14" height="4.55" fill="#bb5a49"/>
<rect x="132.28" y="422.44" width="6.14" height="4.55" fill="#bb5a49"/>
<rect x="145.84" y="422.44" width="6.14" height="4.55" fill="#bb5a49"/>
<rect x="152.62" y="422.44" width="6.14" height="4.55" fill="#bb5a49"/>
<rect x="166.18" y="422.44" width="6.14" height="4.55" fill="#bb5a49"/>
<rect x="193.3" y="422.44" width="6.14" height="4.55" fill="#a81f3c"/>
<rect x="132.28" y="427.52" width="6.14" height="4.55" fill="#bb5a49"/>
<rect x="139.06" y="427.52" width="6.14" height="4.55" fill="#a81f3c"/>
<rect x="132.28" y="432.6" width="6.14" height="4.55" fill="#bb5a49"/>
<rect x="145.84" y="432.6" width="6.14" height="4.55" fill="#bb5a49"/>
<rect x="152.62" y="432.6" width="6.14" height="4.55" fill="#bb5a49"/>
<rect x="166.18" y="432.6" width="6.14" height="4.55" fill="#bb5a49"/>
<rect x="193.3" y="432.6" width="6.14" height="4.55" fill="#bb5a49"/>
<rect x="132.28" y="437.68" width="6.14" height="4.55" fill="#bb5a49"/>
<rect x="139.06" y="437.68" width="6.14" height="4.55" fill="#bb5a49"/>
<rect x="159.4" y="437.68" width="6.14" height="4.55" fill="#bb5a49"/>
<rect x="166.18" y="437.68" width="6.14" height="4.55" fill="#bb5a49"/>
<rect x="179.74" y="437.68" width="6.14" height="4.55" fill="#bb5a49"/>
<rect x="200.08" y="437.68" width="6.14" height="4.55" fill="#bb5a49"/>
<rect x="139.06" y="442.76" width="6.14" height="4.55" fill="#bb5a49"/>
<path d="M134.37 407.3V447.06M136.33 407.3V447.06M141.15 407.3V447.06M143.11 407.3V447.06M147.93 407.3V447.06M149.89 407.3V447.06M154.71 407.3V447.06M156.67 407.3V447.06M161.49 407.3V447.06M163.45 407.3V447.06M168.27 407.3V447.06M170.23 407.3V447.06M175.05 407.3V447.06M177.01 407.3V447.06M181.83 407.3V447.06M183.79 407.3V447.06M188.61 407.3V447.06M190.57 407.3V447.06M195.39 407.3V447.06M197.35 407.3V447.06M202.17 407.3V447.06M204.13 407.3V447.06M208.95 407.3V447.06M210.91 407.3V447.06M215.73 407.3V447.06M217.69 407.3V447.06M222.51 407.3V447.06M224.47 407.3V447.06M229.29 407.3V447.06M231.25 407.3V447.06M236.07 407.3V447.06M238.03 407.3V447.06M242.85 407.3V447.06M244.81 407.3V447.06M132.4 408.7H246.78M132.4 410.1H246.78M132.4 413.78H246.78M132.4 415.18H246.78M132.4 418.86H246.78M132.4 420.26H246.78M132.4 423.94H246.78M132.4 425.34H246.78M132.4 429.02H246.78M132.4 430.42H246.78M132.4 434.1H246.78M132.4 435.5H246.78M132.4 439.18H246.78M132.4 440.58H246.78M132.4 444.26H246.78M132.4 445.66H246.78" stroke="#ffffff" stroke-opacity="0.13" stroke-width="0.5" fill="none"/>
<rect x="252.8" y="407.3" width="19.26" height="39.76" fill="#c3bec4"/>
<path d="M259.09 407.3V447.06M265.77 407.3V447.06M252.8 411.94H272.06M252.8 417.02H272.06M252.8 422.1H272.06M252.8 427.18H272.06M252.8 432.26H272.06M252.8 437.34H272.06M252.8 442.42H272.06" stroke="#efedf0" stroke-width="0.78" fill="none"/>
<rect x="252.68" y="407.2" width="6.14" height="4.55" fill="#bb5a49"/>
<rect x="259.36" y="407.2" width="6.14" height="4.55" fill="#bb5a49"/>
<rect x="252.68" y="412.28" width="6.14" height="4.55" fill="#bb5a49"/>
<rect x="259.36" y="412.28" width="6.14" height="4.55" fill="#bb5a49"/>
<rect x="252.68" y="422.44" width="6.14" height="4.55" fill="#63a044"/>
<rect x="259.36" y="422.44" width="6.14" height="4.55" fill="#bb5a49"/>
<rect x="252.68" y="427.52" width="6.14" height="4.55" fill="#bb5a49"/>
<rect x="259.36" y="427.52" width="6.14" height="4.55" fill="#bb5a49"/>
<rect x="259.36" y="432.6" width="6.14" height="4.55" fill="#bb5a49"/>
<rect x="252.68" y="442.76" width="6.14" height="4.55" fill="#bb5a49"/>
<path d="M254.77 407.3V447.06M256.73 407.3V447.06M261.45 407.3V447.06M263.41 407.3V447.06M268.13 407.3V447.06M270.09 407.3V447.06M252.8 408.7H272.06M252.8 410.1H272.06M252.8 413.78H272.06M252.8 415.18H272.06M252.8 418.86H272.06M252.8 420.26H272.06M252.8 423.94H272.06M252.8 425.34H272.06M252.8 429.02H272.06M252.8 430.42H272.06M252.8 434.1H272.06M252.8 435.5H272.06M252.8 439.18H272.06M252.8 440.58H272.06M252.8 444.26H272.06M252.8 445.66H272.06" stroke="#ffffff" stroke-opacity="0.13" stroke-width="0.5" fill="none"/>
<rect x="278.2" y="407.3" width="73.55" height="39.76" fill="#c3bec4"/>
<path d="M284.53 407.3V447.06M291.3 407.3V447.06M298.06 407.3V447.06M304.83 407.3V447.06M311.59 407.3V447.06M318.36 407.3V447.06M325.12 407.3V447.06M331.89 407.3V447.06M338.65 407.3V447.06M345.42 407.3V447.06M278.2 411.94H351.75M278.2 417.02H351.75M278.2 422.1H351.75M278.2 427.18H351.75M278.2 432.26H351.75M278.2 437.34H351.75M278.2 442.42H351.75" stroke="#efedf0" stroke-width="0.86" fill="none"/>
<rect x="284.84" y="407.2" width="6.14" height="4.55" fill="#bb5a49"/>
<rect x="278.08" y="412.28" width="6.14" height="4.55" fill="#bb5a49"/>
<rect x="291.61" y="412.28" width="6.14" height="4.55" fill="#63a044"/>
<rect x="311.9" y="412.28" width="6.14" height="4.55" fill="#bb5a49"/>
<rect x="284.84" y="417.36" width="6.14" height="4.55" fill="#bb5a49"/>
<rect x="291.61" y="422.44" width="6.14" height="4.55" fill="#bb5a49"/>
<rect x="278.08" y="427.52" width="6.14" height="4.55" fill="#63a044"/>
<rect x="291.61" y="427.52" width="6.14" height="4.55" fill="#bb5a49"/>
<rect x="291.61" y="432.6" width="6.14" height="4.55" fill="#bb5a49"/>
<rect x="284.84" y="437.68" width="6.14" height="4.55" fill="#bb5a49"/>
<rect x="298.38" y="442.76" width="6.14" height="4.55" fill="#bb5a49"/>
<path d="M280.17 407.3V447.06M282.13 407.3V447.06M286.93 407.3V447.06M288.9 407.3V447.06M293.7 407.3V447.06M295.66 407.3V447.06M300.46 407.3V447.06M302.43 407.3V447.06M307.23 407.3V447.06M309.19 407.3V447.06M313.99 407.3V447.06M315.96 407.3V447.06M320.76 407.3V447.06M322.72 407.3V447.06M327.52 407.3V447.06M329.49 407.3V447.06M334.29 407.3V447.06M336.25 407.3V447.06M341.05 407.3V447.06M343.02 407.3V447.06M347.82 407.3V447.06M349.78 407.3V447.06M278.2 408.7H351.75M278.2 410.1H351.75M278.2 413.78H351.75M278.2 415.18H351.75M278.2 418.86H351.75M278.2 420.26H351.75M278.2 423.94H351.75M278.2 425.34H351.75M278.2 429.02H351.75M278.2 430.42H351.75M278.2 434.1H351.75M278.2 435.5H351.75M278.2 439.18H351.75M278.2 440.58H351.75M278.2 444.26H351.75M278.2 445.66H351.75" stroke="#ffffff" stroke-opacity="0.13" stroke-width="0.5" fill="none"/>
<rect x="358.1" y="407.3" width="32.7" height="39.76" fill="#c3bec4"/>
<path d="M364.4 407.3V447.06M371.1 407.3V447.06M377.8 407.3V447.06M384.5 407.3V447.06M358.1 411.94H390.8M358.1 417.02H390.8M358.1 422.1H390.8M358.1 427.18H390.8M358.1 432.26H390.8M358.1 437.34H390.8M358.1 442.42H390.8" stroke="#efedf0" stroke-width="0.8" fill="none"/>
<rect x="364.68" y="407.2" width="6.14" height="4.55" fill="#bb5a49"/>
<rect x="357.98" y="417.36" width="6.14" height="4.55" fill="#bb5a49"/>
<rect x="357.98" y="427.52" width="6.14" height="4.55" fill="#bb5a49"/>
<rect x="364.68" y="427.52" width="6.14" height="4.55" fill="#bb5a49"/>
<rect x="357.98" y="437.68" width="6.14" height="4.55" fill="#bb5a49"/>
<path d="M360.07 407.3V447.06M362.03 407.3V447.06M366.77 407.3V447.06M368.73 407.3V447.06M373.47 407.3V447.06M375.43 407.3V447.06M380.17 407.3V447.06M382.13 407.3V447.06M386.87 407.3V447.06M388.83 407.3V447.06M358.1 408.7H390.8M358.1 410.1H390.8M358.1 413.78H390.8M358.1 415.18H390.8M358.1 418.86H390.8M358.1 420.26H390.8M358.1 423.94H390.8M358.1 425.34H390.8M358.1 429.02H390.8M358.1 430.42H390.8M358.1 434.1H390.8M358.1 435.5H390.8M358.1 439.18H390.8M358.1 440.58H390.8M358.1 444.26H390.8M358.1 445.66H390.8" stroke="#ffffff" stroke-opacity="0.13" stroke-width="0.5" fill="none"/>
<text x="129" y="457.05" font-size="5" text-anchor="end" fill="#2a2a2a" transform="rotate(0.05 129 457.05)" stroke="#2a2a2a" stroke-width="0.14">CDKN2A</text>
<text x="129" y="462.11" font-size="5" text-anchor="end" fill="#2a2a2a" transform="rotate(0.05 129 462.11)" stroke="#2a2a2a" stroke-width="0.14">RB1</text>
<text x="129" y="467.17" font-size="5" text-anchor="end" fill="#2a2a2a" transform="rotate(0.05 129 467.17)" stroke="#2a2a2a" stroke-width="0.14">FOXO1</text>
<text x="129" y="472.23" font-size="5" text-anchor="end" fill="#2a2a2a" transform="rotate(0.05 129 472.23)" stroke="#2a2a2a" stroke-width="0.14">PRDM1</text>
<text x="129" y="477.29" font-size="5" text-anchor="end" fill="#2a2a2a" transform="rotate(0.05 129 477.29)" stroke="#2a2a2a" stroke-width="0.14">PTEN</text>
<text x="129" y="482.35" font-size="5" text-anchor="end" fill="#2a2a2a" transform="rotate(0.05 129 482.35)" stroke="#2a2a2a" stroke-width="0.14">FAS</text>
<text x="129" y="487.41" font-size="5" text-anchor="end" fill="#2a2a2a" transform="rotate(0.05 129 487.41)" stroke="#2a2a2a" stroke-width="0.14">TP53</text>
<rect x="132.4" y="453" width="114.38" height="34.56" fill="#c3bec4"/>
<path d="M138.74 453V487.56M145.52 453V487.56M152.3 453V487.56M159.08 453V487.56M165.86 453V487.56M172.64 453V487.56M179.42 453V487.56M186.2 453V487.56M192.98 453V487.56M199.76 453V487.56M206.54 453V487.56M213.32 453V487.56M220.1 453V487.56M226.88 453V487.56M233.66 453V487.56M240.44 453V487.56M132.4 457.63H246.78M132.4 462.69H246.78M132.4 467.75H246.78M132.4 472.81H246.78M132.4 477.87H246.78M132.4 482.93H246.78" stroke="#efedf0" stroke-width="0.88" fill="none"/>
<rect x="132.28" y="452.9" width="6.14" height="4.55" fill="#63a044"/>
<rect x="139.06" y="452.9" width="6.14" height="4.55" fill="#2f6650"/>
<rect x="159.4" y="452.9" width="6.14" height="4.55" fill="#2f6650"/>
<rect x="166.18" y="452.9" width="6.14" height="4.55" fill="#63a044"/>
<rect x="172.96" y="452.9" width="6.14" height="4.55" fill="#2f6650"/>
<rect x="179.74" y="452.9" width="6.14" height="4.55" fill="#2f6650"/>
<rect x="193.3" y="452.9" width="6.14" height="4.55" fill="#bb5a49"/>
<rect x="200.08" y="452.9" width="6.14" height="4.55" fill="#63a044"/>
<rect x="206.86" y="452.9" width="6.14" height="4.55" fill="#2f6650"/>
<rect x="132.28" y="457.96" width="6.14" height="4.55" fill="#63a044"/>
<rect x="139.06" y="457.96" width="6.14" height="4.55" fill="#bb5a49"/>
<rect x="145.84" y="457.96" width="6.14" height="4.55" fill="#63a044"/>
<rect x="159.4" y="457.96" width="6.14" height="4.55" fill="#63a044"/>
<rect x="179.74" y="457.96" width="6.14" height="4.55" fill="#63a044"/>
<rect x="186.52" y="457.96" width="6.14" height="4.55" fill="#2f6650"/>
<rect x="213.64" y="457.96" width="6.14" height="4.55" fill="#63a044"/>
<rect x="145.84" y="463.02" width="6.14" height="4.55" fill="#63a044"/>
<rect x="159.4" y="463.02" width="6.14" height="4.55" fill="#63a044"/>
<rect x="172.96" y="463.02" width="6.14" height="4.55" fill="#63a044"/>
<rect x="179.74" y="463.02" width="6.14" height="4.55" fill="#bb5a49"/>
<rect x="186.52" y="463.02" width="6.14" height="4.55" fill="#63a044"/>
<rect x="193.3" y="463.02" width="6.14" height="4.55" fill="#63a044"/>
<rect x="132.28" y="468.08" width="6.14" height="4.55" fill="#bb5a49"/>
<rect x="139.06" y="468.08" width="6.14" height="4.55" fill="#63a044"/>
<rect x="152.62" y="468.08" width="6.14" height="4.55" fill="#63a044"/>
<rect x="159.4" y="468.08" width="6.14" height="4.55" fill="#63a044"/>
<rect x="179.74" y="468.08" width="6.14" height="4.55" fill="#63a044"/>
<rect x="206.86" y="468.08" width="6.14" height="4.55" fill="#63a044"/>
<rect x="152.62" y="473.14" width="6.14" height="4.55" fill="#63a044"/>
<rect x="159.4" y="473.14" width="6.14" height="4.55" fill="#63a044"/>
<rect x="172.96" y="473.14" width="6.14" height="4.55" fill="#63a044"/>
<rect x="179.74" y="473.14" width="6.14" height="4.55" fill="#2f6650"/>
<rect x="193.3" y="473.14" width="6.14" height="4.55" fill="#63a044"/>
<rect x="206.86" y="473.14" width="6.14" height="4.55" fill="#63a044"/>
<rect x="152.62" y="478.2" width="6.14" height="4.55" fill="#63a044"/>
<rect x="159.4" y="478.2" width="6.14" height="4.55" fill="#63a044"/>
<rect x="172.96" y="478.2" width="6.14" height="4.55" fill="#63a044"/>
<rect x="179.74" y="478.2" width="6.14" height="4.55" fill="#2f6650"/>
<rect x="206.86" y="478.2" width="6.14" height="4.55" fill="#63a044"/>
<rect x="132.28" y="483.26" width="6.14" height="4.55" fill="#63a044"/>
<rect x="139.06" y="483.26" width="6.14" height="4.55" fill="#63a044"/>
<rect x="145.84" y="483.26" width="6.14" height="4.55" fill="#63a044"/>
<rect x="152.62" y="483.26" width="6.14" height="4.55" fill="#63a044"/>
<rect x="159.4" y="483.26" width="6.14" height="4.55" fill="#63a044"/>
<rect x="166.18" y="483.26" width="6.14" height="4.55" fill="#63a044"/>
<rect x="172.96" y="483.26" width="6.14" height="4.55" fill="#63a044"/>
<rect x="179.74" y="483.26" width="6.14" height="4.55" fill="#63a044"/>
<rect x="186.52" y="483.26" width="6.14" height="4.55" fill="#63a044"/>
<rect x="206.86" y="483.26" width="6.14" height="4.55" fill="#63a044"/>
<path d="M134.37 453V487.56M136.33 453V487.56M141.15 453V487.56M143.11 453V487.56M147.93 453V487.56M149.89 453V487.56M154.71 453V487.56M156.67 453V487.56M161.49 453V487.56M163.45 453V487.56M168.27 453V487.56M170.23 453V487.56M175.05 453V487.56M177.01 453V487.56M181.83 453V487.56M183.79 453V487.56M188.61 453V487.56M190.57 453V487.56M195.39 453V487.56M197.35 453V487.56M202.17 453V487.56M204.13 453V487.56M208.95 453V487.56M210.91 453V487.56M215.73 453V487.56M217.69 453V487.56M222.51 453V487.56M224.47 453V487.56M229.29 453V487.56M231.25 453V487.56M236.07 453V487.56M238.03 453V487.56M242.85 453V487.56M244.81 453V487.56M132.4 454.4H246.78M132.4 455.8H246.78M132.4 459.46H246.78M132.4 460.86H246.78M132.4 464.52H246.78M132.4 465.92H246.78M132.4 469.58H246.78M132.4 470.98H246.78M132.4 474.64H246.78M132.4 476.04H246.78M132.4 479.7H246.78M132.4 481.1H246.78M132.4 484.76H246.78M132.4 486.16H246.78" stroke="#ffffff" stroke-opacity="0.13" stroke-width="0.5" fill="none"/>
<rect x="252.8" y="453" width="19.26" height="34.56" fill="#c3bec4"/>
<path d="M259.09 453V487.56M265.77 453V487.56M252.8 457.63H272.06M252.8 462.69H272.06M252.8 467.75H272.06M252.8 472.81H272.06M252.8 477.87H272.06M252.8 482.93H272.06" stroke="#efedf0" stroke-width="0.78" fill="none"/>
<rect x="259.36" y="452.9" width="6.14" height="4.55" fill="#2f6650"/>
<rect x="252.68" y="457.96" width="6.14" height="4.55" fill="#63a044"/>
<rect x="259.36" y="457.96" width="6.14" height="4.55" fill="#63a044"/>
<rect x="252.68" y="468.08" width="6.14" height="4.55" fill="#63a044"/>
<rect x="259.36" y="468.08" width="6.14" height="4.55" fill="#63a044"/>
<rect x="252.68" y="473.14" width="6.14" height="4.55" fill="#63a044"/>
<rect x="252.68" y="483.26" width="6.14" height="4.55" fill="#bb5a49"/>
<path d="M254.77 453V487.56M256.73 453V487.56M261.45 453V487.56M263.41 453V487.56M268.13 453V487.56M270.09 453V487.56M252.8 454.4H272.06M252.8 455.8H272.06M252.8 459.46H272.06M252.8 460.86H272.06M252.8 464.52H272.06M252.8 465.92H272.06M252.8 469.58H272.06M252.8 470.98H272.06M252.8 474.64H272.06M252.8 476.04H272.06M252.8 479.7H272.06M252.8 481.1H272.06M252.8 484.76H272.06M252.8 486.16H272.06" stroke="#ffffff" stroke-opacity="0.13" stroke-width="0.5" fill="none"/>
<rect x="278.2" y="453" width="73.55" height="34.56" fill="#c3bec4"/>
<path d="M284.53 453V487.56M291.3 453V487.56M298.06 453V487.56M304.83 453V487.56M311.59 453V487.56M318.36 453V487.56M325.12 453V487.56M331.89 453V487.56M338.65 453V487.56M345.42 453V487.56M278.2 457.63H351.75M278.2 462.69H351.75M278.2 467.75H351.75M278.2 472.81H351.75M278.2 477.87H351.75M278.2 482.93H351.75" stroke="#efedf0" stroke-width="0.86" fill="none"/>
<rect x="325.44" y="452.9" width="6.14" height="4.55" fill="#bb5a49"/>
<rect x="278.08" y="457.96" width="6.14" height="4.55" fill="#63a044"/>
<rect x="278.08" y="463.02" width="6.14" height="4.55" fill="#63a044"/>
<rect x="284.84" y="463.02" width="6.14" height="4.55" fill="#63a044"/>
<rect x="284.84" y="478.2" width="6.14" height="4.55" fill="#63a044"/>
<rect x="278.08" y="483.26" width="6.14" height="4.55" fill="#bb5a49"/>
<rect x="291.61" y="483.26" width="6.14" height="4.55" fill="#bb5a49"/>
<path d="M280.17 453V487.56M282.13 453V487.56M286.93 453V487.56M288.9 453V487.56M293.7 453V487.56M295.66 453V487.56M300.46 453V487.56M302.43 453V487.56M307.23 453V487.56M309.19 453V487.56M313.99 453V487.56M315.96 453V487.56M320.76 453V487.56M322.72 453V487.56M327.52 453V487.56M329.49 453V487.56M334.29 453V487.56M336.25 453V487.56M341.05 453V487.56M343.02 453V487.56M347.82 453V487.56M349.78 453V487.56M278.2 454.4H351.75M278.2 455.8H351.75M278.2 459.46H351.75M278.2 460.86H351.75M278.2 464.52H351.75M278.2 465.92H351.75M278.2 469.58H351.75M278.2 470.98H351.75M278.2 474.64H351.75M278.2 476.04H351.75M278.2 479.7H351.75M278.2 481.1H351.75M278.2 484.76H351.75M278.2 486.16H351.75" stroke="#ffffff" stroke-opacity="0.13" stroke-width="0.5" fill="none"/>
<rect x="358.1" y="453" width="32.7" height="34.56" fill="#c3bec4"/>
<path d="M364.4 453V487.56M371.1 453V487.56M377.8 453V487.56M384.5 453V487.56M358.1 457.63H390.8M358.1 462.69H390.8M358.1 467.75H390.8M358.1 472.81H390.8M358.1 477.87H390.8M358.1 482.93H390.8" stroke="#efedf0" stroke-width="0.8" fill="none"/>
<rect x="364.68" y="452.9" width="6.14" height="4.55" fill="#2f6650"/>
<rect x="357.98" y="457.96" width="6.14" height="4.55" fill="#bb5a49"/>
<rect x="357.98" y="463.02" width="6.14" height="4.55" fill="#bb5a49"/>
<rect x="364.68" y="468.08" width="6.14" height="4.55" fill="#63a044"/>
<rect x="371.38" y="478.2" width="6.14" height="4.55" fill="#63a044"/>
<path d="M360.07 453V487.56M362.03 453V487.56M366.77 453V487.56M368.73 453V487.56M373.47 453V487.56M375.43 453V487.56M380.17 453V487.56M382.13 453V487.56M386.87 453V487.56M388.83 453V487.56M358.1 454.4H390.8M358.1 455.8H390.8M358.1 459.46H390.8M358.1 460.86H390.8M358.1 464.52H390.8M358.1 465.92H390.8M358.1 469.58H390.8M358.1 470.98H390.8M358.1 474.64H390.8M358.1 476.04H390.8M358.1 479.7H390.8M358.1 481.1H390.8M358.1 484.76H390.8M358.1 486.16H390.8" stroke="#ffffff" stroke-opacity="0.13" stroke-width="0.5" fill="none"/>
<rect x="132.3" y="495.9" width="6.2" height="25.49" fill="#5c606b"/>
<rect x="139.08" y="495.9" width="6.2" height="17.54" fill="#5c606b"/>
<rect x="145.86" y="495.9" width="6.2" height="15.56" fill="#5c606b"/>
<rect x="152.64" y="495.9" width="6.2" height="15.56" fill="#5c606b"/>
<rect x="159.42" y="495.9" width="6.2" height="13.9" fill="#5c606b"/>
<rect x="166.2" y="495.9" width="6.2" height="12.91" fill="#5c606b"/>
<rect x="172.98" y="495.9" width="6.2" height="12.25" fill="#5c606b"/>
<rect x="179.76" y="495.9" width="6.2" height="10.59" fill="#5c606b"/>
<rect x="186.54" y="495.9" width="6.2" height="8.28" fill="#5c606b"/>
<rect x="193.32" y="495.9" width="6.2" height="6.95" fill="#5c606b"/>
<rect x="200.1" y="495.9" width="6.2" height="5.63" fill="#5c606b"/>
<rect x="206.88" y="495.9" width="6.2" height="1.32" fill="#5c606b"/>
<rect x="213.66" y="495.9" width="6.2" height="0.83" fill="#5c606b"/>
<rect x="220.54" y="495.55" width="6.2" height="0.8" fill="#cfcdd2"/>
<rect x="227.32" y="495.55" width="6.2" height="0.8" fill="#cfcdd2"/>
<rect x="234.1" y="495.55" width="6.2" height="0.8" fill="#cfcdd2"/>
<rect x="240.88" y="495.55" width="6.2" height="0.8" fill="#cfcdd2"/>
<line x1="131.5" y1="522.7" x2="247.38" y2="522.7" stroke="#333" stroke-width="1.1"/>
<rect x="252.7" y="495.9" width="6.2" height="13.9" fill="#5c606b"/>
<rect x="259.38" y="495.9" width="6.2" height="6.62" fill="#5c606b"/>
<rect x="266.16" y="495.55" width="6.2" height="0.8" fill="#cfcdd2"/>
<line x1="251.9" y1="522.7" x2="272.66" y2="522.7" stroke="#333" stroke-width="1.1"/>
<rect x="278.1" y="495.9" width="6.2" height="6.95" fill="#5c606b"/>
<rect x="284.86" y="495.9" width="6.2" height="4.8" fill="#5c606b"/>
<rect x="291.63" y="495.9" width="6.2" height="3.97" fill="#5c606b"/>
<rect x="298.39" y="495.9" width="6.2" height="3.97" fill="#5c606b"/>
<rect x="305.16" y="495.9" width="6.2" height="1.89" fill="#5c606b"/>
<rect x="311.92" y="495.9" width="6.2" height="1.32" fill="#5c606b"/>
<rect x="318.69" y="495.9" width="6.2" height="0.83" fill="#5c606b"/>
<rect x="325.56" y="495.55" width="6.2" height="0.8" fill="#cfcdd2"/>
<rect x="332.32" y="495.55" width="6.2" height="0.8" fill="#cfcdd2"/>
<rect x="339.08" y="495.55" width="6.2" height="0.8" fill="#cfcdd2"/>
<rect x="345.85" y="495.55" width="6.2" height="0.8" fill="#cfcdd2"/>
<line x1="277.3" y1="522.7" x2="352.35" y2="522.7" stroke="#333" stroke-width="1.1"/>
<rect x="358" y="495.9" width="6.2" height="7.94" fill="#5c606b"/>
<rect x="364.7" y="495.9" width="6.2" height="7.61" fill="#5c606b"/>
<rect x="371.4" y="495.9" width="6.2" height="2.15" fill="#5c606b"/>
<rect x="378.2" y="495.55" width="6.2" height="0.8" fill="#cfcdd2"/>
<rect x="384.9" y="495.55" width="6.2" height="0.8" fill="#cfcdd2"/>
<line x1="357.2" y1="522.7" x2="391.4" y2="522.7" stroke="#333" stroke-width="1.1"/>
<line x1="131.5" y1="493.2" x2="131.5" y2="523" stroke="#111" stroke-width="0.9"/>
<line x1="128" y1="495.9" x2="131.5" y2="495.9" stroke="#111" stroke-width="0.7"/>
<text x="126.2" y="497.7" font-size="5.2" text-anchor="end" transform="rotate(0.05 126.2 497.7)" stroke="#222" stroke-width="0.14">0</text>
<line x1="128" y1="502.52" x2="131.5" y2="502.52" stroke="#111" stroke-width="0.7"/>
<text x="126.2" y="504.32" font-size="5.2" text-anchor="end" transform="rotate(0.05 126.2 504.32)" stroke="#222" stroke-width="0.14">20</text>
<line x1="128" y1="509.14" x2="131.5" y2="509.14" stroke="#111" stroke-width="0.7"/>
<text x="126.2" y="510.94" font-size="5.2" text-anchor="end" transform="rotate(0.05 126.2 510.94)" stroke="#222" stroke-width="0.14">40</text>
<line x1="128" y1="515.76" x2="131.5" y2="515.76" stroke="#111" stroke-width="0.7"/>
<text x="126.2" y="517.56" font-size="5.2" text-anchor="end" transform="rotate(0.05 126.2 517.56)" stroke="#222" stroke-width="0.14">60</text>
<line x1="128" y1="522.38" x2="131.5" y2="522.38" stroke="#111" stroke-width="0.7"/>
<text x="126.2" y="524.18" font-size="5.2" text-anchor="end" transform="rotate(0.05 126.2 524.18)" stroke="#222" stroke-width="0.14">80</text>
<text x="106" y="507.8" font-size="7.3" text-anchor="middle" textLength="28" lengthAdjust="spacingAndGlyphs" transform="rotate(-90 106 507.8)">Aberrant</text>
<text x="114.2" y="507.3" font-size="7.3" text-anchor="middle" textLength="38.5" lengthAdjust="spacingAndGlyphs" transform="rotate(-90 114.2 507.3)">genome (%)</text>
<text x="142.2" y="495.8" font-size="3.5" text-anchor="middle" fill="#333" transform="rotate(0.05 142.2 495.8)" stroke="#333" stroke-width="0.14">*</text>
<text x="281" y="495.8" font-size="3.5" text-anchor="middle" fill="#333" transform="rotate(0.05 281 495.8)" stroke="#333" stroke-width="0.14">*</text>
<text x="308.2" y="495.8" font-size="3.5" text-anchor="middle" fill="#333" transform="rotate(0.05 308.2 495.8)" stroke="#333" stroke-width="0.14">*</text>
<line x1="394.5" y1="40.4" x2="394.5" y2="147.9" stroke="#111" stroke-width="1"/>
<line x1="443.6" y1="40.4" x2="443.6" y2="147.9" stroke="#111" stroke-width="1"/>
<line x1="484.2" y1="40.4" x2="484.2" y2="147.9" stroke="#444" stroke-width="0.9"/>
<rect x="396.4" y="40.65" width="11.72" height="4.9" fill="#3f5f8c"/>
<rect x="408.12" y="40.65" width="8.79" height="4.9" fill="#cf2f86"/>
<rect x="445.1" y="40.65" width="3.77" height="4.9" fill="#6cab4d"/>
<rect x="485.6" y="40.65" width="1.89" height="4.9" fill="#6cab4d"/>
<rect x="396.4" y="45.76" width="5.86" height="4.9" fill="#cf2f86"/>
<rect x="445.1" y="45.76" width="9.43" height="4.9" fill="#6cab4d"/>
<rect x="396.4" y="50.86" width="2.93" height="4.9" fill="#cf2f86"/>
<rect x="445.1" y="50.86" width="5.66" height="4.9" fill="#a3243f"/>
<rect x="450.75" y="50.86" width="1.89" height="4.9" fill="#6c4f2a"/>
<rect x="396.4" y="55.96" width="5.86" height="4.9" fill="#3f5f8c"/>
<rect x="402.26" y="55.96" width="5.86" height="4.9" fill="#cf2f86"/>
<rect x="445.1" y="55.96" width="3.77" height="4.9" fill="#a3243f"/>
<rect x="396.4" y="61.07" width="2.93" height="4.9" fill="#cf2f86"/>
<rect x="445.1" y="61.07" width="9.43" height="4.9" fill="#6cab4d"/>
<rect x="396.4" y="66.18" width="2.93" height="4.9" fill="#3f5f8c"/>
<rect x="399.33" y="66.18" width="5.86" height="4.9" fill="#cf2f86"/>
<rect x="445.1" y="66.18" width="18.85" height="4.9" fill="#a3243f"/>
<rect x="463.95" y="66.18" width="1.89" height="4.9" fill="#6c4f2a"/>
<rect x="485.6" y="66.18" width="1.89" height="4.9" fill="#a3243f"/>
<rect x="396.4" y="71.28" width="5.86" height="4.9" fill="#3f5f8c"/>
<rect x="402.26" y="71.28" width="2.93" height="4.9" fill="#cf2f86"/>
<rect x="445.1" y="71.28" width="9.43" height="4.9" fill="#6cab4d"/>
<rect x="396.4" y="76.39" width="5.86" height="4.9" fill="#3f5f8c"/>
<rect x="402.26" y="76.39" width="5.86" height="4.9" fill="#cf2f86"/>
<rect x="445.1" y="76.39" width="3.77" height="4.9" fill="#6cab4d"/>
<rect x="448.87" y="76.39" width="5.66" height="4.9" fill="#a3243f"/>
<rect x="396.4" y="81.49" width="5.86" height="4.9" fill="#3f5f8c"/>
<rect x="402.26" y="81.49" width="2.93" height="4.9" fill="#d3cfd4"/>
<rect x="405.19" y="81.49" width="2.93" height="4.9" fill="#cf2f86"/>
<rect x="445.1" y="81.49" width="24.5" height="4.9" fill="#6cab4d"/>
<rect x="485.6" y="81.49" width="1.89" height="4.9" fill="#6cab4d"/>
<rect x="487.49" y="81.49" width="1.89" height="4.9" fill="#a3243f"/>
<rect x="396.4" y="86.6" width="2.93" height="4.9" fill="#3f5f8c"/>
<rect x="445.1" y="86.6" width="3.77" height="4.9" fill="#3d6b58"/>
<rect x="448.87" y="86.6" width="9.43" height="4.9" fill="#6cab4d"/>
<rect x="485.6" y="86.6" width="3.77" height="4.9" fill="#6cab4d"/>
<rect x="489.37" y="86.6" width="1.89" height="4.9" fill="#a3243f"/>
<rect x="396.4" y="91.7" width="5.86" height="4.9" fill="#3f5f8c"/>
<rect x="402.26" y="91.7" width="2.93" height="4.9" fill="#cf2f86"/>
<rect x="445.1" y="91.7" width="3.77" height="4.9" fill="#a3243f"/>
<rect x="485.6" y="91.7" width="1.89" height="4.9" fill="#a3243f"/>
<rect x="396.4" y="96.81" width="2.93" height="4.9" fill="#cf2f86"/>
<rect x="445.1" y="96.81" width="3.77" height="4.9" fill="#6cab4d"/>
<rect x="448.87" y="96.81" width="1.89" height="4.9" fill="#a3243f"/>
<rect x="396.4" y="101.91" width="8.79" height="4.9" fill="#3f5f8c"/>
<rect x="405.19" y="101.91" width="2.93" height="4.9" fill="#cf2f86"/>
<rect x="445.1" y="101.91" width="5.66" height="4.9" fill="#6cab4d"/>
<rect x="450.75" y="101.91" width="1.89" height="4.9" fill="#6c4f2a"/>
<rect x="396.4" y="107.02" width="5.86" height="4.9" fill="#3f5f8c"/>
<rect x="402.26" y="107.02" width="2.93" height="4.9" fill="#cf2f86"/>
<rect x="445.1" y="107.02" width="1.89" height="4.9" fill="#3d6b58"/>
<rect x="446.99" y="107.02" width="1.89" height="4.9" fill="#6cab4d"/>
<rect x="448.87" y="107.02" width="1.89" height="4.9" fill="#a3243f"/>
<rect x="485.6" y="107.02" width="1.89" height="4.9" fill="#6cab4d"/>
<rect x="445.1" y="112.12" width="3.77" height="4.9" fill="#6cab4d"/>
<rect x="396.4" y="117.23" width="2.93" height="4.9" fill="#d3cfd4"/>
<rect x="399.33" y="117.23" width="2.93" height="4.9" fill="#cf2f86"/>
<rect x="445.1" y="117.23" width="1.89" height="4.9" fill="#3d6b58"/>
<rect x="446.99" y="117.23" width="9.43" height="4.9" fill="#6cab4d"/>
<rect x="396.4" y="122.33" width="5.86" height="4.9" fill="#3f5f8c"/>
<rect x="402.26" y="122.33" width="2.93" height="4.9" fill="#cf2f86"/>
<rect x="445.1" y="122.33" width="5.66" height="4.9" fill="#6cab4d"/>
<rect x="485.6" y="122.33" width="1.89" height="4.9" fill="#6cab4d"/>
<rect x="396.4" y="127.44" width="2.93" height="4.9" fill="#3f5f8c"/>
<rect x="399.33" y="127.44" width="2.93" height="4.9" fill="#cf2f86"/>
<rect x="445.1" y="127.44" width="1.89" height="4.9" fill="#6cab4d"/>
<rect x="446.99" y="127.44" width="5.66" height="4.9" fill="#a3243f"/>
<rect x="485.6" y="127.44" width="3.77" height="4.9" fill="#a3243f"/>
<rect x="396.4" y="132.54" width="2.93" height="4.9" fill="#3f5f8c"/>
<rect x="399.33" y="132.54" width="2.93" height="4.9" fill="#cf2f86"/>
<rect x="445.1" y="132.54" width="5.66" height="4.9" fill="#6cab4d"/>
<rect x="450.75" y="132.54" width="7.54" height="4.9" fill="#a3243f"/>
<rect x="396.4" y="137.65" width="2.93" height="4.9" fill="#3f5f8c"/>
<rect x="399.33" y="137.65" width="2.93" height="4.9" fill="#cf2f86"/>
<rect x="445.1" y="137.65" width="1.89" height="4.9" fill="#6cab4d"/>
<rect x="446.99" y="137.65" width="7.54" height="4.9" fill="#a3243f"/>
<rect x="485.6" y="137.65" width="1.89" height="4.9" fill="#a3243f"/>
<rect x="396.4" y="142.75" width="2.93" height="4.9" fill="#cf2f86"/>
<rect x="445.1" y="142.75" width="16.96" height="4.9" fill="#a3243f"/>
<rect x="485.6" y="142.75" width="1.89" height="4.9" fill="#a3243f"/>
<line x1="394.5" y1="152.4" x2="394.5" y2="239.08" stroke="#111" stroke-width="1"/>
<line x1="443.6" y1="152.4" x2="443.6" y2="239.08" stroke="#111" stroke-width="1"/>
<line x1="484.2" y1="152.4" x2="484.2" y2="239.08" stroke="#444" stroke-width="0.9"/>
<rect x="396.4" y="152.65" width="2.93" height="4.9" fill="#3f5f8c"/>
<rect x="399.33" y="152.65" width="2.93" height="4.9" fill="#d3cfd4"/>
<rect x="402.26" y="152.65" width="5.86" height="4.9" fill="#cf2f86"/>
<rect x="445.1" y="152.65" width="1.89" height="4.9" fill="#6cab4d"/>
<rect x="446.99" y="152.65" width="9.43" height="4.9" fill="#a3243f"/>
<rect x="396.4" y="157.73" width="5.86" height="4.9" fill="#3f5f8c"/>
<rect x="402.26" y="157.73" width="2.93" height="4.9" fill="#cf2f86"/>
<rect x="445.1" y="157.73" width="5.66" height="4.9" fill="#6cab4d"/>
<rect x="450.75" y="157.73" width="1.89" height="4.9" fill="#a3243f"/>
<rect x="396.4" y="162.81" width="5.86" height="4.9" fill="#cf2f86"/>
<rect x="445.1" y="162.81" width="3.77" height="4.9" fill="#6cab4d"/>
<rect x="448.87" y="162.81" width="1.89" height="4.9" fill="#a3243f"/>
<rect x="450.75" y="162.81" width="1.89" height="4.9" fill="#6c4f2a"/>
<rect x="396.4" y="167.89" width="8.79" height="4.9" fill="#3f5f8c"/>
<rect x="445.1" y="167.89" width="3.77" height="4.9" fill="#a3243f"/>
<rect x="448.87" y="167.89" width="3.77" height="4.9" fill="#6c4f2a"/>
<rect x="485.6" y="167.89" width="1.89" height="4.9" fill="#6c4f2a"/>
<rect x="396.4" y="172.97" width="2.93" height="4.9" fill="#d3cfd4"/>
<rect x="445.1" y="172.97" width="3.77" height="4.9" fill="#6cab4d"/>
<rect x="448.87" y="172.97" width="1.89" height="4.9" fill="#a3243f"/>
<rect x="396.4" y="178.05" width="2.93" height="4.9" fill="#3f5f8c"/>
<rect x="399.33" y="178.05" width="2.93" height="4.9" fill="#cf2f86"/>
<rect x="445.1" y="178.05" width="3.77" height="4.9" fill="#6cab4d"/>
<rect x="485.6" y="178.05" width="1.89" height="4.9" fill="#6cab4d"/>
<rect x="396.4" y="183.13" width="2.93" height="4.9" fill="#3f5f8c"/>
<rect x="445.1" y="183.13" width="9.43" height="4.9" fill="#a3243f"/>
<rect x="485.6" y="183.13" width="3.77" height="4.9" fill="#a3243f"/>
<rect x="396.4" y="188.21" width="5.86" height="4.9" fill="#3f5f8c"/>
<rect x="445.1" y="188.21" width="1.89" height="4.9" fill="#6cab4d"/>
<rect x="446.99" y="188.21" width="3.77" height="4.9" fill="#a3243f"/>
<rect x="396.4" y="193.29" width="2.93" height="4.9" fill="#cf2f86"/>
<rect x="445.1" y="193.29" width="1.89" height="4.9" fill="#6cab4d"/>
<rect x="446.99" y="193.29" width="3.77" height="4.9" fill="#a3243f"/>
<rect x="396.4" y="198.37" width="2.93" height="4.9" fill="#3f5f8c"/>
<rect x="399.33" y="198.37" width="2.93" height="4.9" fill="#cf2f86"/>
<rect x="445.1" y="198.37" width="3.77" height="4.9" fill="#6cab4d"/>
<rect x="448.87" y="198.37" width="1.89" height="4.9" fill="#6c4f2a"/>
<rect x="485.6" y="198.37" width="1.89" height="4.9" fill="#a3243f"/>
<rect x="396.4" y="203.45" width="2.93" height="4.9" fill="#cf2f86"/>
<rect x="445.1" y="203.45" width="1.89" height="4.9" fill="#3d6b58"/>
<rect x="446.99" y="203.45" width="7.54" height="4.9" fill="#6cab4d"/>
<rect x="396.4" y="208.53" width="2.93" height="4.9" fill="#3f5f8c"/>
<rect x="445.1" y="208.53" width="3.77" height="4.9" fill="#6cab4d"/>
<rect x="448.87" y="208.53" width="1.89" height="4.9" fill="#a3243f"/>
<rect x="485.6" y="208.53" width="3.77" height="4.9" fill="#a3243f"/>
<rect x="396.4" y="213.61" width="2.93" height="4.9" fill="#3f5f8c"/>
<rect x="445.1" y="213.61" width="1.89" height="4.9" fill="#6cab4d"/>
<rect x="446.99" y="213.61" width="7.54" height="4.9" fill="#a3243f"/>
<rect x="485.6" y="213.61" width="1.89" height="4.9" fill="#a3243f"/>
<rect x="396.4" y="218.69" width="2.93" height="4.9" fill="#3f5f8c"/>
<rect x="445.1" y="218.69" width="3.77" height="4.9" fill="#6cab4d"/>
<rect x="448.87" y="218.69" width="3.77" height="4.9" fill="#a3243f"/>
<rect x="396.4" y="223.77" width="2.93" height="4.9" fill="#3f5f8c"/>
<rect x="445.1" y="223.77" width="1.89" height="4.9" fill="#6cab4d"/>
<rect x="446.99" y="223.77" width="7.54" height="4.9" fill="#a3243f"/>
<rect x="485.6" y="223.77" width="1.89" height="4.9" fill="#a3243f"/>
<rect x="396.4" y="228.85" width="2.93" height="4.9" fill="#d3cfd4"/>
<rect x="445.1" y="228.85" width="5.66" height="4.9" fill="#6cab4d"/>
<rect x="485.6" y="228.85" width="3.77" height="4.9" fill="#a3243f"/>
<rect x="396.4" y="233.93" width="5.86" height="4.9" fill="#3f5f8c"/>
<rect x="445.1" y="233.93" width="3.77" height="4.9" fill="#6cab4d"/>
<rect x="448.87" y="233.93" width="1.89" height="4.9" fill="#a3243f"/>
<rect x="485.6" y="233.93" width="1.89" height="4.9" fill="#6cab4d"/>
<line x1="394.5" y1="244" x2="394.5" y2="259.56" stroke="#111" stroke-width="1"/>
<line x1="443.6" y1="244" x2="443.6" y2="259.56" stroke="#111" stroke-width="1"/>
<line x1="484.2" y1="244" x2="484.2" y2="259.56" stroke="#444" stroke-width="0.9"/>
<rect x="396.4" y="244.25" width="5.86" height="4.9" fill="#3f5f8c"/>
<rect x="402.26" y="244.25" width="2.93" height="4.9" fill="#d3cfd4"/>
<rect x="445.1" y="244.25" width="3.77" height="4.9" fill="#6cab4d"/>
<rect x="448.87" y="244.25" width="3.77" height="4.9" fill="#a3243f"/>
<rect x="485.6" y="244.25" width="1.89" height="4.9" fill="#a3243f"/>
<rect x="396.4" y="249.33" width="5.86" height="4.9" fill="#3f5f8c"/>
<rect x="402.26" y="249.33" width="2.93" height="4.9" fill="#cf2f86"/>
<rect x="445.1" y="249.33" width="1.89" height="4.9" fill="#a3243f"/>
<rect x="485.6" y="249.33" width="1.89" height="4.9" fill="#6cab4d"/>
<rect x="487.49" y="249.33" width="1.89" height="4.9" fill="#a3243f"/>
<rect x="396.4" y="254.41" width="2.93" height="4.9" fill="#cf2f86"/>
<rect x="445.1" y="254.41" width="3.77" height="4.9" fill="#6cab4d"/>
<rect x="448.87" y="254.41" width="1.89" height="4.9" fill="#a3243f"/>
<rect x="485.6" y="254.41" width="1.89" height="4.9" fill="#6cab4d"/>
<line x1="394.5" y1="264.4" x2="394.5" y2="320.6" stroke="#111" stroke-width="1"/>
<line x1="443.6" y1="264.4" x2="443.6" y2="320.6" stroke="#111" stroke-width="1"/>
<line x1="484.2" y1="264.4" x2="484.2" y2="320.6" stroke="#444" stroke-width="0.9"/>
<rect x="396.4" y="264.65" width="2.93" height="4.9" fill="#cf2f86"/>
<rect x="445.1" y="264.65" width="5.66" height="4.9" fill="#6cab4d"/>
<rect x="450.75" y="264.65" width="7.54" height="4.9" fill="#a3243f"/>
<rect x="396.4" y="269.73" width="8.79" height="4.9" fill="#3f5f8c"/>
<rect x="405.19" y="269.73" width="2.93" height="4.9" fill="#cf2f86"/>
<rect x="445.1" y="269.73" width="1.89" height="4.9" fill="#3d6b58"/>
<rect x="446.99" y="269.73" width="5.66" height="4.9" fill="#6cab4d"/>
<rect x="485.6" y="269.73" width="1.89" height="4.9" fill="#6cab4d"/>
<rect x="396.4" y="274.81" width="5.86" height="4.9" fill="#3f5f8c"/>
<rect x="445.1" y="274.81" width="7.54" height="4.9" fill="#a3243f"/>
<rect x="452.64" y="274.81" width="1.89" height="4.9" fill="#6c4f2a"/>
<rect x="485.6" y="274.81" width="1.89" height="4.9" fill="#6cab4d"/>
<rect x="396.4" y="279.89" width="5.86" height="4.9" fill="#3f5f8c"/>
<rect x="445.1" y="279.89" width="1.89" height="4.9" fill="#6cab4d"/>
<rect x="446.99" y="279.89" width="9.43" height="4.9" fill="#a3243f"/>
<rect x="396.4" y="284.97" width="2.93" height="4.9" fill="#3f5f8c"/>
<rect x="399.33" y="284.97" width="2.93" height="4.9" fill="#cf2f86"/>
<rect x="445.1" y="284.97" width="5.66" height="4.9" fill="#6cab4d"/>
<rect x="450.75" y="284.97" width="1.89" height="4.9" fill="#a3243f"/>
<rect x="485.6" y="284.97" width="1.89" height="4.9" fill="#3d6b58"/>
<rect x="396.4" y="290.05" width="2.93" height="4.9" fill="#cf2f86"/>
<rect x="445.1" y="290.05" width="5.66" height="4.9" fill="#6cab4d"/>
<rect x="450.75" y="290.05" width="3.77" height="4.9" fill="#a3243f"/>
<rect x="396.4" y="295.13" width="2.93" height="4.9" fill="#d3cfd4"/>
<rect x="399.33" y="295.13" width="2.93" height="4.9" fill="#cf2f86"/>
<rect x="445.1" y="295.13" width="9.43" height="4.9" fill="#6cab4d"/>
<rect x="454.53" y="295.13" width="3.77" height="4.9" fill="#a3243f"/>
<rect x="485.6" y="295.13" width="3.77" height="4.9" fill="#6cab4d"/>
<rect x="396.4" y="300.21" width="2.93" height="4.9" fill="#3f5f8c"/>
<rect x="399.33" y="300.21" width="2.93" height="4.9" fill="#cf2f86"/>
<rect x="445.1" y="300.21" width="9.43" height="4.9" fill="#6cab4d"/>
<rect x="454.53" y="300.21" width="1.89" height="4.9" fill="#a3243f"/>
<rect x="456.41" y="300.21" width="1.89" height="4.9" fill="#6c4f2a"/>
<rect x="485.6" y="300.21" width="1.89" height="4.9" fill="#6cab4d"/>
<rect x="487.49" y="300.21" width="1.89" height="4.9" fill="#a3243f"/>
<rect x="396.4" y="305.29" width="2.93" height="4.9" fill="#3f5f8c"/>
<rect x="445.1" y="305.29" width="5.66" height="4.9" fill="#a3243f"/>
<rect x="396.4" y="310.37" width="2.93" height="4.9" fill="#3f5f8c"/>
<rect x="445.1" y="310.37" width="1.89" height="4.9" fill="#6cab4d"/>
<rect x="446.99" y="310.37" width="1.89" height="4.9" fill="#a3243f"/>
<rect x="485.6" y="310.37" width="1.89" height="4.9" fill="#a3243f"/>
<rect x="396.4" y="315.45" width="2.93" height="4.9" fill="#cf2f86"/>
<rect x="445.1" y="315.45" width="7.54" height="4.9" fill="#a3243f"/>
<rect x="485.6" y="315.45" width="1.89" height="4.9" fill="#a3243f"/>
<line x1="394.5" y1="325.4" x2="394.5" y2="401.92" stroke="#111" stroke-width="1"/>
<line x1="443.6" y1="325.4" x2="443.6" y2="401.92" stroke="#111" stroke-width="1"/>
<line x1="484.2" y1="325.4" x2="484.2" y2="401.92" stroke="#444" stroke-width="0.9"/>
<rect x="396.4" y="325.65" width="11.72" height="4.9" fill="#3f5f8c"/>
<rect x="408.12" y="325.65" width="2.93" height="4.9" fill="#d3cfd4"/>
<rect x="411.05" y="325.65" width="11.72" height="4.9" fill="#cf2f86"/>
<rect x="445.1" y="325.65" width="3.77" height="4.9" fill="#6cab4d"/>
<rect x="448.87" y="325.65" width="3.77" height="4.9" fill="#a3243f"/>
<rect x="396.4" y="330.73" width="14.65" height="4.9" fill="#3f5f8c"/>
<rect x="411.05" y="330.73" width="2.93" height="4.9" fill="#cf2f86"/>
<rect x="445.1" y="330.73" width="18.85" height="4.9" fill="#6cab4d"/>
<rect x="485.6" y="330.73" width="3.77" height="4.9" fill="#a3243f"/>
<rect x="396.4" y="335.81" width="8.79" height="4.9" fill="#3f5f8c"/>
<rect x="405.19" y="335.81" width="5.86" height="4.9" fill="#cf2f86"/>
<rect x="445.1" y="335.81" width="15.08" height="4.9" fill="#a3243f"/>
<rect x="460.18" y="335.81" width="1.89" height="4.9" fill="#6c4f2a"/>
<rect x="485.6" y="335.81" width="1.89" height="4.9" fill="#a3243f"/>
<rect x="396.4" y="340.89" width="8.79" height="4.9" fill="#cf2f86"/>
<rect x="445.1" y="340.89" width="3.77" height="4.9" fill="#6cab4d"/>
<rect x="448.87" y="340.89" width="5.66" height="4.9" fill="#a3243f"/>
<rect x="454.52" y="340.89" width="1.89" height="4.9" fill="#6c4f2a"/>
<rect x="485.6" y="340.89" width="1.89" height="4.9" fill="#a3243f"/>
<rect x="396.4" y="345.97" width="2.93" height="4.9" fill="#3f5f8c"/>
<rect x="399.33" y="345.97" width="2.93" height="4.9" fill="#d3cfd4"/>
<rect x="445.1" y="345.97" width="5.66" height="4.9" fill="#a3243f"/>
<rect x="485.6" y="345.97" width="1.89" height="4.9" fill="#a3243f"/>
<rect x="396.4" y="351.05" width="5.86" height="4.9" fill="#3f5f8c"/>
<rect x="402.26" y="351.05" width="2.93" height="4.9" fill="#cf2f86"/>
<rect x="445.1" y="351.05" width="9.43" height="4.9" fill="#6cab4d"/>
<rect x="454.53" y="351.05" width="1.89" height="4.9" fill="#a3243f"/>
<rect x="396.4" y="356.13" width="2.93" height="4.9" fill="#cf2f86"/>
<rect x="445.1" y="356.13" width="9.43" height="4.9" fill="#6cab4d"/>
<rect x="454.53" y="356.13" width="3.77" height="4.9" fill="#a3243f"/>
<rect x="485.6" y="356.13" width="3.77" height="4.9" fill="#6cab4d"/>
<rect x="396.4" y="361.21" width="2.93" height="4.9" fill="#cf2f86"/>
<rect x="445.1" y="361.21" width="1.89" height="4.9" fill="#6cab4d"/>
<rect x="446.99" y="361.21" width="5.66" height="4.9" fill="#a3243f"/>
<rect x="396.4" y="366.29" width="5.86" height="4.9" fill="#3f5f8c"/>
<rect x="445.1" y="366.29" width="13.2" height="4.9" fill="#a3243f"/>
<rect x="485.6" y="366.29" width="3.77" height="4.9" fill="#a3243f"/>
<rect x="396.4" y="371.37" width="2.93" height="4.9" fill="#cf2f86"/>
<rect x="445.1" y="371.37" width="9.43" height="4.9" fill="#6cab4d"/>
<rect x="454.53" y="371.37" width="1.89" height="4.9" fill="#a3243f"/>
<rect x="485.6" y="371.37" width="3.77" height="4.9" fill="#6cab4d"/>
<rect x="396.4" y="376.45" width="2.93" height="4.9" fill="#d3cfd4"/>
<rect x="445.1" y="376.45" width="5.66" height="4.9" fill="#a3243f"/>
<rect x="485.6" y="376.45" width="1.89" height="4.9" fill="#a3243f"/>
<rect x="396.4" y="381.53" width="2.93" height="4.9" fill="#cf2f86"/>
<rect x="445.1" y="381.53" width="3.77" height="4.9" fill="#6cab4d"/>
<rect x="448.87" y="381.53" width="5.66" height="4.9" fill="#a3243f"/>
<rect x="445.1" y="386.61" width="7.54" height="4.9" fill="#6cab4d"/>
<rect x="452.64" y="386.61" width="3.77" height="4.9" fill="#a3243f"/>
<rect x="396.4" y="391.69" width="2.93" height="4.9" fill="#cf2f86"/>
<rect x="445.1" y="391.69" width="5.66" height="4.9" fill="#a3243f"/>
<rect x="396.4" y="396.77" width="2.93" height="4.9" fill="#3f5f8c"/>
<rect x="399.33" y="396.77" width="2.93" height="4.9" fill="#cf2f86"/>
<rect x="445.1" y="396.77" width="1.89" height="4.9" fill="#6cab4d"/>
<rect x="446.99" y="396.77" width="9.43" height="4.9" fill="#a3243f"/>
<rect x="485.6" y="396.77" width="1.89" height="4.9" fill="#a3243f"/>
<line x1="394.5" y1="406.7" x2="394.5" y2="447.66" stroke="#111" stroke-width="1"/>
<rect x="396.4" y="406.95" width="29.3" height="4.9" fill="#3f5f8c"/>
<rect x="425.7" y="406.95" width="5.86" height="4.9" fill="#d3cfd4"/>
<rect x="431.56" y="406.95" width="2.93" height="4.9" fill="#cf2f86"/>
<rect x="396.4" y="412.03" width="20.51" height="4.9" fill="#3f5f8c"/>
<rect x="416.91" y="412.03" width="5.86" height="4.9" fill="#d3cfd4"/>
<rect x="422.77" y="412.03" width="8.79" height="4.9" fill="#cf2f86"/>
<rect x="396.4" y="417.11" width="20.51" height="4.9" fill="#3f5f8c"/>
<rect x="416.91" y="417.11" width="2.93" height="4.9" fill="#cf2f86"/>
<rect x="396.4" y="422.19" width="14.65" height="4.9" fill="#3f5f8c"/>
<rect x="411.05" y="422.19" width="5.86" height="4.9" fill="#d3cfd4"/>
<rect x="416.91" y="422.19" width="2.93" height="4.9" fill="#cf2f86"/>
<rect x="396.4" y="427.27" width="5.86" height="4.9" fill="#3f5f8c"/>
<rect x="402.26" y="427.27" width="5.86" height="4.9" fill="#d3cfd4"/>
<rect x="408.12" y="427.27" width="5.86" height="4.9" fill="#cf2f86"/>
<rect x="396.4" y="432.35" width="14.65" height="4.9" fill="#3f5f8c"/>
<rect x="411.05" y="432.35" width="2.93" height="4.9" fill="#d3cfd4"/>
<rect x="413.98" y="432.35" width="2.93" height="4.9" fill="#cf2f86"/>
<rect x="396.4" y="437.43" width="17.58" height="4.9" fill="#3f5f8c"/>
<rect x="413.98" y="437.43" width="2.93" height="4.9" fill="#cf2f86"/>
<rect x="396.4" y="442.51" width="2.93" height="4.9" fill="#3f5f8c"/>
<rect x="399.33" y="442.51" width="2.93" height="4.9" fill="#d3cfd4"/>
<rect x="402.26" y="442.51" width="2.93" height="4.9" fill="#cf2f86"/>
<line x1="394.5" y1="452.4" x2="394.5" y2="488.16" stroke="#111" stroke-width="1"/>
<rect x="396.4" y="452.65" width="26.37" height="4.9" fill="#3f5f8c"/>
<rect x="422.77" y="452.65" width="2.93" height="4.9" fill="#d3cfd4"/>
<rect x="425.7" y="452.65" width="2.93" height="4.9" fill="#cf2f86"/>
<rect x="396.4" y="457.71" width="20.51" height="4.9" fill="#3f5f8c"/>
<rect x="416.91" y="457.71" width="5.86" height="4.9" fill="#d3cfd4"/>
<rect x="422.77" y="457.71" width="2.93" height="4.9" fill="#cf2f86"/>
<rect x="396.4" y="462.77" width="17.58" height="4.9" fill="#3f5f8c"/>
<rect x="413.98" y="462.77" width="5.86" height="4.9" fill="#cf2f86"/>
<rect x="396.4" y="467.83" width="17.58" height="4.9" fill="#3f5f8c"/>
<rect x="413.98" y="467.83" width="5.86" height="4.9" fill="#d3cfd4"/>
<rect x="396.4" y="472.89" width="17.58" height="4.9" fill="#3f5f8c"/>
<rect x="413.98" y="472.89" width="2.93" height="4.9" fill="#d3cfd4"/>
<rect x="396.4" y="477.95" width="14.65" height="4.9" fill="#3f5f8c"/>
<rect x="411.05" y="477.95" width="2.93" height="4.9" fill="#cf2f86"/>
<rect x="396.4" y="483.01" width="29.3" height="4.9" fill="#3f5f8c"/>
<rect x="425.7" y="483.01" width="2.93" height="4.9" fill="#d3cfd4"/>
<rect x="428.63" y="483.01" width="5.86" height="4.9" fill="#cf2f86"/>
<text x="397" y="35.3" font-size="5" textLength="23.5" lengthAdjust="spacingAndGlyphs" transform="rotate(0.05 397 35.3)" stroke="#222" stroke-width="0.14" font-style="italic">Mutations</text>
<text x="458.8" y="29.3" font-size="5" text-anchor="middle" textLength="27.5" lengthAdjust="spacingAndGlyphs" transform="rotate(0.05 458.8 29.3)" stroke="#222" stroke-width="0.14">PTCL-GATA3</text>
<text x="459.6" y="35.6" font-size="5" text-anchor="middle" textLength="11.5" lengthAdjust="spacingAndGlyphs" transform="rotate(0.05 459.6 35.6)" stroke="#222" stroke-width="0.14">CNAs</text>
<text x="495.4" y="29.3" font-size="5" text-anchor="middle" textLength="26.8" lengthAdjust="spacingAndGlyphs" transform="rotate(0.05 495.4 29.3)" stroke="#222" stroke-width="0.14">PTCL-TBX21</text>
<text x="496.1" y="35.6" font-size="5" text-anchor="middle" textLength="11.5" lengthAdjust="spacingAndGlyphs" transform="rotate(0.05 496.1 35.6)" stroke="#222" stroke-width="0.14">CNAs</text>
<text x="416" y="404.6" font-size="4.6" text-anchor="middle" textLength="11.5" lengthAdjust="spacingAndGlyphs" transform="rotate(0.05 416 404.6)" stroke="#222" stroke-width="0.14" font-style="italic">CNAs</text>
<line x1="443.1" y1="401.3" x2="478.5" y2="401.3" stroke="#111" stroke-width="0.9"/>
<line x1="445.1" y1="401.3" x2="445.1" y2="403.6" stroke="#111" stroke-width="0.6"/>
<text x="445.1" y="412.2" font-size="4.8" text-anchor="middle" transform="rotate(0.05 445.1 412.2)" stroke="#222" stroke-width="0.14">0</text>
<line x1="454.53" y1="401.3" x2="454.53" y2="403.6" stroke="#111" stroke-width="0.6"/>
<text x="454.53" y="412.2" font-size="4.8" text-anchor="middle" transform="rotate(0.05 454.53 412.2)" stroke="#222" stroke-width="0.14">5</text>
<line x1="463.95" y1="401.3" x2="463.95" y2="403.6" stroke="#111" stroke-width="0.6"/>
<text x="463.95" y="412.2" font-size="4.8" text-anchor="middle" transform="rotate(0.05 463.95 412.2)" stroke="#222" stroke-width="0.14">10</text>
<line x1="473.38" y1="401.3" x2="473.38" y2="403.6" stroke="#111" stroke-width="0.6"/>
<text x="473.38" y="412.2" font-size="4.8" text-anchor="middle" transform="rotate(0.05 473.38 412.2)" stroke="#222" stroke-width="0.14">15</text>
<line x1="483.8" y1="401.3" x2="507.5" y2="401.3" stroke="#111" stroke-width="0.9"/>
<line x1="485.6" y1="401.3" x2="485.6" y2="403.6" stroke="#111" stroke-width="0.6"/>
<text x="485.6" y="412.2" font-size="4.8" text-anchor="middle" transform="rotate(0.05 485.6 412.2)" stroke="#222" stroke-width="0.14">0</text>
<line x1="491.25" y1="401.3" x2="491.25" y2="403.6" stroke="#111" stroke-width="0.6"/>
<text x="491.25" y="412.2" font-size="4.8" text-anchor="middle" transform="rotate(0.05 491.25 412.2)" stroke="#222" stroke-width="0.14">3</text>
<line x1="496.91" y1="401.3" x2="496.91" y2="403.6" stroke="#111" stroke-width="0.6"/>
<text x="496.91" y="412.2" font-size="4.8" text-anchor="middle" transform="rotate(0.05 496.91 412.2)" stroke="#222" stroke-width="0.14">6</text>
<line x1="502.56" y1="401.3" x2="502.56" y2="403.6" stroke="#111" stroke-width="0.6"/>
<text x="502.56" y="412.2" font-size="4.8" text-anchor="middle" transform="rotate(0.05 502.56 412.2)" stroke="#222" stroke-width="0.14">9</text>
<text x="474" y="423.4" font-size="7.6" text-anchor="middle" textLength="19.5" lengthAdjust="spacingAndGlyphs" transform="rotate(0.05 474 423.4)">Count</text>
<text x="452.5" y="432.2" font-size="4.3" fill="#333" textLength="18" lengthAdjust="spacingAndGlyphs" transform="rotate(0.05 452.5 432.2)" stroke="#333" stroke-width="0.14">CN Status</text>
<rect x="452.6" y="436.6" width="5.4" height="5.4" fill="#3d6b58"/>
<text x="461" y="440.8" font-size="4.3" fill="#333" textLength="33" lengthAdjust="spacingAndGlyphs" transform="rotate(0.05 461 440.8)" stroke="#333" stroke-width="0.14">Homozygous Loss</text>
<rect x="452.6" y="444.9" width="5.4" height="5.4" fill="#6cab4d"/>
<text x="461" y="449.1" font-size="4.3" fill="#333" textLength="8.5" lengthAdjust="spacingAndGlyphs" transform="rotate(0.05 461 449.1)" stroke="#333" stroke-width="0.14">Loss</text>
<rect x="452.6" y="453.2" width="5.4" height="5.4" fill="#a3243f"/>
<text x="461" y="457.4" font-size="4.3" fill="#333" textLength="9" lengthAdjust="spacingAndGlyphs" transform="rotate(0.05 461 457.4)" stroke="#333" stroke-width="0.14">Gain</text>
<rect x="452.6" y="461.5" width="5.4" height="5.4" fill="#6c4f2a"/>
<text x="461" y="465.7" font-size="4.3" fill="#333" textLength="25" lengthAdjust="spacingAndGlyphs" transform="rotate(0.05 461 465.7)" stroke="#333" stroke-width="0.14">Amplification</text>
<line x1="394" y1="488.3" x2="440" y2="488.3" stroke="#111" stroke-width="0.9"/>
<line x1="405.19" y1="488.3" x2="405.19" y2="490.8" stroke="#111" stroke-width="0.6"/>
<text x="405.19" y="499" font-size="4.8" text-anchor="middle" transform="rotate(0.05 405.19 499)" stroke="#222" stroke-width="0.14">3</text>
<line x1="413.98" y1="488.3" x2="413.98" y2="490.8" stroke="#111" stroke-width="0.6"/>
<text x="413.98" y="499" font-size="4.8" text-anchor="middle" transform="rotate(0.05 413.98 499)" stroke="#222" stroke-width="0.14">6</text>
<line x1="422.77" y1="488.3" x2="422.77" y2="490.8" stroke="#111" stroke-width="0.6"/>
<text x="422.77" y="499" font-size="4.8" text-anchor="middle" transform="rotate(0.05 422.77 499)" stroke="#222" stroke-width="0.14">9</text>
<line x1="431.56" y1="488.3" x2="431.56" y2="490.8" stroke="#111" stroke-width="0.6"/>
<text x="431.56" y="499" font-size="4.8" text-anchor="middle" transform="rotate(0.05 431.56 499)" stroke="#222" stroke-width="0.14">12</text>
<text x="417" y="510.8" font-size="7.6" text-anchor="middle" textLength="19.5" lengthAdjust="spacingAndGlyphs" transform="rotate(0.05 417 510.8)">Count</text>
<rect x="401.8" y="515.9" width="3.8" height="3.8" fill="#3f5f8c"/>
<text x="408.5" y="519.2" font-size="3.9" fill="#333" textLength="22.5" lengthAdjust="spacingAndGlyphs" transform="rotate(0.05 408.5 519.2)" stroke="#333" stroke-width="0.14">PTCL-GATA3</text>
<rect x="401.8" y="523.65" width="3.8" height="3.8" fill="#d3cfd4"/>
<text x="408.5" y="526.95" font-size="3.9" fill="#333" textLength="15.5" lengthAdjust="spacingAndGlyphs" transform="rotate(0.05 408.5 526.95)" stroke="#333" stroke-width="0.14">PTCL-NC</text>
<rect x="401.8" y="531.4" width="3.8" height="3.8" fill="#cf2f86"/>
<text x="408.5" y="534.7" font-size="3.9" fill="#333" textLength="21.5" lengthAdjust="spacingAndGlyphs" transform="rotate(0.05 408.5 534.7)" stroke="#333" stroke-width="0.14">PTCL-TBX21</text>
<text x="8.6" y="549" font-size="12" fill="#111" textLength="6.1" lengthAdjust="spacingAndGlyphs" transform="rotate(0.05 8.6 549)">B</text>
<text x="132" y="559.5" font-size="4.3" text-anchor="middle" fill="#333" textLength="9.5" lengthAdjust="spacingAndGlyphs" transform="rotate(0.05 132 559.5)" stroke="#333" stroke-width="0.14">TP53</text>
<line x1="29.6" y1="565" x2="29.6" y2="597.2" stroke="#111" stroke-width="0.9"/>
<line x1="27.8" y1="595" x2="29.6" y2="595" stroke="#111" stroke-width="0.6"/>
<line x1="28.4" y1="589.4" x2="29.6" y2="589.4" stroke="#111" stroke-width="0.6"/>
<line x1="28.4" y1="583.8" x2="29.6" y2="583.8" stroke="#111" stroke-width="0.6"/>
<line x1="28.4" y1="578.2" x2="29.6" y2="578.2" stroke="#111" stroke-width="0.6"/>
<line x1="28.4" y1="572.6" x2="29.6" y2="572.6" stroke="#111" stroke-width="0.6"/>
<line x1="27.8" y1="567" x2="29.6" y2="567" stroke="#111" stroke-width="0.6"/>
<text x="25.8" y="568.8" font-size="4.6" text-anchor="end" transform="rotate(0.05 25.8 568.8)" stroke="#222" stroke-width="0.14">5</text>
<text x="25.8" y="596.8" font-size="4.6" text-anchor="end" transform="rotate(0.05 25.8 596.8)" stroke="#222" stroke-width="0.14">0</text>
<text x="14.8" y="581.5" font-size="6.6" text-anchor="middle" textLength="37" lengthAdjust="spacingAndGlyphs" transform="rotate(-90 14.8 581.5)"># mutations</text>
<line x1="94.5" y1="589.6" x2="94.5" y2="597" stroke="#c9c5c9" stroke-width="0.7"/>
<circle cx="94.5" cy="589.6" r="1.35" fill="#b11f3a"/>
<line x1="121" y1="584" x2="121" y2="597" stroke="#c9c5c9" stroke-width="0.7"/>
<circle cx="121" cy="584" r="1.35" fill="#2e4f86"/>
<line x1="145.5" y1="589.6" x2="145.5" y2="597" stroke="#c9c5c9" stroke-width="0.7"/>
<circle cx="145.5" cy="589.6" r="1.35" fill="#2e4f86"/>
<line x1="152.5" y1="589.6" x2="152.5" y2="597" stroke="#c9c5c9" stroke-width="0.7"/>
<circle cx="152.5" cy="589.6" r="1.35" fill="#b11f3a"/>
<line x1="172" y1="589.6" x2="172" y2="597" stroke="#c9c5c9" stroke-width="0.7"/>
<circle cx="172" cy="589.6" r="1.35" fill="#2e4f86"/>
<line x1="199" y1="589.6" x2="199" y2="597" stroke="#c9c5c9" stroke-width="0.7"/>
<circle cx="199" cy="589.6" r="1.35" fill="#2e4f86"/>
<text x="121" y="578.9" font-size="3.8" text-anchor="middle" fill="#444" textLength="11.5" lengthAdjust="spacingAndGlyphs" transform="rotate(0.05 121 578.9)" stroke="#444" stroke-width="0.14">R175H</text>
<rect x="30.2" y="598" width="203.77" height="4.6" fill="#d2ced2"/>
<rect x="30.72" y="596.7" width="38.89" height="7.2" fill="#6aa84f"/>
<rect x="82.57" y="596.7" width="103.18" height="7.2" fill="#6aa84f"/>
<rect x="195.6" y="598" width="20.22" height="5.9" fill="#6aa84f"/>
<text x="49.8" y="602.3" font-size="5.4" text-anchor="middle" fill="#1d1d1d" textLength="54" lengthAdjust="spacingAndGlyphs" transform="rotate(0.05 49.8 602.3)" stroke="#1d1d1d" stroke-width="0.14">Transactivation Domain</text>
<text x="134.5" y="602.3" font-size="5.4" text-anchor="middle" fill="#1d1d1d" textLength="49" lengthAdjust="spacingAndGlyphs" transform="rotate(0.05 134.5 602.3)" stroke="#1d1d1d" stroke-width="0.14">DNA Binding Domain</text>
<text x="206" y="597.9" font-size="5.4" text-anchor="middle" fill="#1d1d1d" textLength="36" lengthAdjust="spacingAndGlyphs" transform="rotate(0.05 206 597.9)" stroke="#1d1d1d" stroke-width="0.14">Tetramerization</text>
<text x="206" y="604.4" font-size="5.4" text-anchor="middle" fill="#1d1d1d" textLength="18.5" lengthAdjust="spacingAndGlyphs" transform="rotate(0.05 206 604.4)" stroke="#1d1d1d" stroke-width="0.14">Domain</text>
<line x1="29.2" y1="605.4" x2="236.8" y2="605.4" stroke="#111" stroke-width="0.9"/>
<line x1="30.2" y1="605.4" x2="30.2" y2="608.3" stroke="#111" stroke-width="0.7"/>
<line x1="56.12" y1="605.4" x2="56.12" y2="608.3" stroke="#111" stroke-width="0.7"/>
<line x1="82.05" y1="605.4" x2="82.05" y2="608.3" stroke="#111" stroke-width="0.7"/>
<line x1="107.97" y1="605.4" x2="107.97" y2="608.3" stroke="#111" stroke-width="0.7"/>
<line x1="133.9" y1="605.4" x2="133.9" y2="608.3" stroke="#111" stroke-width="0.7"/>
<line x1="159.82" y1="605.4" x2="159.82" y2="608.3" stroke="#111" stroke-width="0.7"/>
<line x1="185.75" y1="605.4" x2="185.75" y2="608.3" stroke="#111" stroke-width="0.7"/>
<line x1="211.67" y1="605.4" x2="211.67" y2="608.3" stroke="#111" stroke-width="0.7"/>
<line x1="233.97" y1="605.4" x2="233.97" y2="608.3" stroke="#111" stroke-width="0.7"/>
<text x="30.2" y="616.2" font-size="4.6" text-anchor="middle" transform="rotate(0.05 30.2 616.2)" stroke="#222" stroke-width="0.14">0</text>
<text x="82.05" y="616.2" font-size="4.6" text-anchor="middle" transform="rotate(0.05 82.05 616.2)" stroke="#222" stroke-width="0.14">100</text>
<text x="133.9" y="616.2" font-size="4.6" text-anchor="middle" transform="rotate(0.05 133.9 616.2)" stroke="#222" stroke-width="0.14">200</text>
<text x="185.75" y="616.2" font-size="4.6" text-anchor="middle" transform="rotate(0.05 185.75 616.2)" stroke="#222" stroke-width="0.14">300</text>
<text x="233.4" y="616.2" font-size="4.6" text-anchor="middle" textLength="14.3" lengthAdjust="spacingAndGlyphs" transform="rotate(0.05 233.4 616.2)" stroke="#222" stroke-width="0.14">393 aa</text>
<circle cx="18.8" cy="622.7" r="2.45" fill="#b11f3a"/>
<circle cx="18.8" cy="630.5" r="2.45" fill="#2e4f86"/>
<text x="24.3" y="624.2" font-size="3.9" fill="#333" textLength="21.5" lengthAdjust="spacingAndGlyphs" transform="rotate(0.05 24.3 624.2)" stroke="#333" stroke-width="0.14">PTCL-TBX21</text>
<text x="24.3" y="632" font-size="3.9" fill="#333" textLength="22.5" lengthAdjust="spacingAndGlyphs" transform="rotate(0.05 24.3 632)" stroke="#333" stroke-width="0.14">PTCL-GATA3</text>
<text x="24.3" y="640.2" font-size="3.9" fill="#333" textLength="18.5" lengthAdjust="spacingAndGlyphs" transform="rotate(0.05 24.3 640.2)" stroke="#333" stroke-width="0.14">* PTCL-NC</text>
<text x="257.4" y="549.2" font-size="12" fill="#111" textLength="7" lengthAdjust="spacingAndGlyphs" transform="rotate(0.05 257.4 549.2)">C</text>
<line x1="278.3" y1="567.28" x2="278.3" y2="598.1" stroke="#111" stroke-width="0.9"/>
<line x1="276.4" y1="595.7" x2="278.3" y2="595.7" stroke="#111" stroke-width="0.6"/>
<line x1="277.1" y1="592.04" x2="278.3" y2="592.04" stroke="#111" stroke-width="0.6"/>
<line x1="277.1" y1="588.38" x2="278.3" y2="588.38" stroke="#111" stroke-width="0.6"/>
<line x1="277.1" y1="584.72" x2="278.3" y2="584.72" stroke="#111" stroke-width="0.6"/>
<line x1="277.1" y1="581.06" x2="278.3" y2="581.06" stroke="#111" stroke-width="0.6"/>
<line x1="277.1" y1="577.4" x2="278.3" y2="577.4" stroke="#111" stroke-width="0.6"/>
<line x1="277.1" y1="573.74" x2="278.3" y2="573.74" stroke="#111" stroke-width="0.6"/>
<line x1="276.4" y1="570.08" x2="278.3" y2="570.08" stroke="#111" stroke-width="0.6"/>
<text x="274.6" y="571.68" font-size="4.6" text-anchor="end" transform="rotate(0.05 274.6 571.68)" stroke="#222" stroke-width="0.14">7</text>
<text x="274.6" y="597.3" font-size="4.6" text-anchor="end" transform="rotate(0.05 274.6 597.3)" stroke="#222" stroke-width="0.14">0</text>
<text x="263.8" y="583" font-size="6.6" text-anchor="middle" textLength="37" lengthAdjust="spacingAndGlyphs" transform="rotate(-90 263.8 583)"># mutations</text>
<text x="298" y="561.8" font-size="4.5" textLength="143" lengthAdjust="spacingAndGlyphs" transform="rotate(0.05 298 561.8)" stroke="#222" stroke-width="0.14">DNMT3A   (PTCL-NOS Targeted and Previous Sequencing Data)</text>
<line x1="303" y1="592.04" x2="303" y2="598.9" stroke="#c9c5c9" stroke-width="0.7"/>
<rect x="302" y="591.04" width="2" height="2" fill="#b11f3a" rx="0.7"/>
<line x1="307.7" y1="592.04" x2="307.7" y2="598.9" stroke="#c9c5c9" stroke-width="0.7"/>
<rect x="306.7" y="591.04" width="2" height="2" fill="#b11f3a" rx="0.7"/>
<line x1="309.2" y1="592.04" x2="309.2" y2="598.9" stroke="#c9c5c9" stroke-width="0.7"/>
<rect x="308.2" y="591.04" width="2" height="2" fill="#2e4f86" rx="0.7"/>
<line x1="330.2" y1="592.04" x2="330.2" y2="598.9" stroke="#c9c5c9" stroke-width="0.7"/>
<rect x="329.2" y="591.04" width="2" height="2" fill="#2e4f86" rx="0.7"/>
<line x1="343.6" y1="592.04" x2="343.6" y2="598.9" stroke="#c9c5c9" stroke-width="0.7"/>
<rect x="342.6" y="591.04" width="2" height="2" fill="#2e4f86" rx="0.7"/>
<line x1="344.8" y1="592.04" x2="344.8" y2="598.9" stroke="#c9c5c9" stroke-width="0.7"/>
<rect x="343.8" y="591.04" width="2" height="2" fill="#2e4f86" rx="0.7"/>
<line x1="346" y1="592.04" x2="346" y2="598.9" stroke="#c9c5c9" stroke-width="0.7"/>
<rect x="345" y="591.04" width="2" height="2" fill="#2e4f86" rx="0.7"/>
<line x1="353" y1="592.04" x2="353" y2="598.9" stroke="#c9c5c9" stroke-width="0.7"/>
<rect x="352" y="591.04" width="2" height="2" fill="#b11f3a" rx="0.7"/>
<line x1="386" y1="592.04" x2="386" y2="598.9" stroke="#c9c5c9" stroke-width="0.7"/>
<rect x="385" y="591.04" width="2" height="2" fill="#b11f3a" rx="0.7"/>
<line x1="422.3" y1="592.04" x2="422.3" y2="598.9" stroke="#c9c5c9" stroke-width="0.7"/>
<rect x="421.3" y="591.04" width="2" height="2" fill="#b11f3a" rx="0.7"/>
<line x1="450" y1="592.04" x2="450" y2="598.9" stroke="#c9c5c9" stroke-width="0.7"/>
<rect x="449" y="591.04" width="2" height="2" fill="#b11f3a" rx="0.7"/>
<line x1="464.6" y1="592.04" x2="464.6" y2="598.9" stroke="#c9c5c9" stroke-width="0.7"/>
<rect x="463.6" y="591.04" width="2" height="2" fill="#b11f3a" rx="0.7"/>
<line x1="466.2" y1="592.04" x2="466.2" y2="598.9" stroke="#c9c5c9" stroke-width="0.7"/>
<rect x="465.2" y="591.04" width="2" height="2" fill="#2e4f86" rx="0.7"/>
<rect x="279.6" y="598.4" width="190.75" height="4.3" fill="#d2ced2"/>
<rect x="341.08" y="597" width="17.93" height="7.1" fill="#6aa84f"/>
<text x="350.05" y="602.5" font-size="5.2" text-anchor="middle" fill="#1d1d1d" textLength="13.5" lengthAdjust="spacingAndGlyphs" transform="rotate(0.05 350.05 602.5)" stroke="#1d1d1d" stroke-width="0.14">PWWP</text>
<rect x="380.7" y="597" width="27.52" height="7.1" fill="#6aa84f"/>
<text x="394.46" y="602.5" font-size="5.2" text-anchor="middle" fill="#1d1d1d" textLength="10" lengthAdjust="spacingAndGlyphs" transform="rotate(0.05 394.46 602.5)" stroke="#1d1d1d" stroke-width="0.14">ADD</text>
<rect x="412.39" y="597" width="57.96" height="7.1" fill="#6aa84f"/>
<text x="441.37" y="602.5" font-size="5.2" text-anchor="middle" fill="#1d1d1d" textLength="13.5" lengthAdjust="spacingAndGlyphs" transform="rotate(0.05 441.37 602.5)" stroke="#1d1d1d" stroke-width="0.14">MTase</text>
<line x1="277" y1="605.4" x2="474" y2="605.4" stroke="#111" stroke-width="0.9"/>
<line x1="280.2" y1="605.4" x2="280.2" y2="608.3" stroke="#111" stroke-width="0.7"/>
<line x1="301.05" y1="605.4" x2="301.05" y2="608.3" stroke="#111" stroke-width="0.7"/>
<line x1="321.9" y1="605.4" x2="321.9" y2="608.3" stroke="#111" stroke-width="0.7"/>
<line x1="342.75" y1="605.4" x2="342.75" y2="608.3" stroke="#111" stroke-width="0.7"/>
<line x1="363.6" y1="605.4" x2="363.6" y2="608.3" stroke="#111" stroke-width="0.7"/>
<line x1="384.45" y1="605.4" x2="384.45" y2="608.3" stroke="#111" stroke-width="0.7"/>
<line x1="405.3" y1="605.4" x2="405.3" y2="608.3" stroke="#111" stroke-width="0.7"/>
<line x1="426.15" y1="605.4" x2="426.15" y2="608.3" stroke="#111" stroke-width="0.7"/>
<line x1="447" y1="605.4" x2="447" y2="608.3" stroke="#111" stroke-width="0.7"/>
<line x1="467.85" y1="605.4" x2="467.85" y2="608.3" stroke="#111" stroke-width="0.7"/>
<line x1="470.35" y1="605.4" x2="470.35" y2="608.3" stroke="#111" stroke-width="0.7"/>
<text x="280.2" y="616.2" font-size="4.6" text-anchor="middle" transform="rotate(0.05 280.2 616.2)" stroke="#222" stroke-width="0.14">0</text>
<text x="321.9" y="616.2" font-size="4.6" text-anchor="middle" transform="rotate(0.05 321.9 616.2)" stroke="#222" stroke-width="0.14">200</text>
<text x="363.6" y="616.2" font-size="4.6" text-anchor="middle" transform="rotate(0.05 363.6 616.2)" stroke="#222" stroke-width="0.14">400</text>
<text x="405.3" y="616.2" font-size="4.6" text-anchor="middle" transform="rotate(0.05 405.3 616.2)" stroke="#222" stroke-width="0.14">600</text>
<text x="447" y="616.2" font-size="4.6" text-anchor="middle" transform="rotate(0.05 447 616.2)" stroke="#222" stroke-width="0.14">800</text>
<text x="469" y="616.2" font-size="4.6" text-anchor="middle" textLength="14.5" lengthAdjust="spacingAndGlyphs" transform="rotate(0.05 469 616.2)" stroke="#222" stroke-width="0.14">912 aa</text>
<text x="464.6" y="571.5" font-size="3.6" text-anchor="middle" fill="#444" textLength="15.5" lengthAdjust="spacingAndGlyphs" transform="rotate(0.05 464.6 571.5)" stroke="#444" stroke-width="0.14">R882C/H</text>
<line x1="464.6" y1="584" x2="464.6" y2="591" stroke="#c9c5c9" stroke-width="0.7"/>
<rect x="463.7" y="574" width="1.8" height="7" fill="#b11f3a"/>
<rect x="463.7" y="581" width="1.8" height="3" fill="#2e4f86"/>
<line x1="361.7" y1="591.5" x2="361.7" y2="598.5" stroke="#c9c5c9" stroke-width="0.7"/>
<text x="361.7" y="592.6" font-size="4" text-anchor="middle" fill="#333" transform="rotate(0.05 361.7 592.6)" stroke="#333" stroke-width="0.14">*</text>
<line x1="278.3" y1="630.95" x2="278.3" y2="660.9" stroke="#111" stroke-width="0.9"/>
<line x1="276.4" y1="658.5" x2="278.3" y2="658.5" stroke="#111" stroke-width="0.6"/>
<line x1="277.1" y1="653.55" x2="278.3" y2="653.55" stroke="#111" stroke-width="0.6"/>
<line x1="277.1" y1="648.6" x2="278.3" y2="648.6" stroke="#111" stroke-width="0.6"/>
<line x1="277.1" y1="643.65" x2="278.3" y2="643.65" stroke="#111" stroke-width="0.6"/>
<line x1="277.1" y1="638.7" x2="278.3" y2="638.7" stroke="#111" stroke-width="0.6"/>
<line x1="276.4" y1="633.75" x2="278.3" y2="633.75" stroke="#111" stroke-width="0.6"/>
<text x="274.6" y="635.35" font-size="4.6" text-anchor="end" transform="rotate(0.05 274.6 635.35)" stroke="#222" stroke-width="0.14">5</text>
<text x="274.6" y="660.1" font-size="4.6" text-anchor="end" transform="rotate(0.05 274.6 660.1)" stroke="#222" stroke-width="0.14">0</text>
<text x="263.8" y="646" font-size="6.6" text-anchor="middle" textLength="37" lengthAdjust="spacingAndGlyphs" transform="rotate(-90 263.8 646)"># mutations</text>
<text x="326.2" y="624.8" font-size="4.5" textLength="97" lengthAdjust="spacingAndGlyphs" transform="rotate(0.05 326.2 624.8)" stroke="#222" stroke-width="0.14">DNMT3A (AITL Previous Sequencing Data)</text>
<line x1="306.8" y1="653.55" x2="306.8" y2="661.9" stroke="#c9c5c9" stroke-width="0.7"/>
<rect x="305.8" y="652.55" width="2" height="2" fill="#5ea23a" rx="0.7"/>
<line x1="335" y1="653.55" x2="335" y2="661.9" stroke="#c9c5c9" stroke-width="0.7"/>
<rect x="334" y="652.55" width="2" height="2" fill="#5ea23a" rx="0.7"/>
<line x1="353" y1="653.55" x2="353" y2="661.9" stroke="#c9c5c9" stroke-width="0.7"/>
<rect x="352" y="652.55" width="2" height="2" fill="#5ea23a" rx="0.7"/>
<line x1="363.6" y1="653.55" x2="363.6" y2="661.9" stroke="#c9c5c9" stroke-width="0.7"/>
<rect x="362.6" y="652.55" width="2" height="2" fill="#5ea23a" rx="0.7"/>
<line x1="371.4" y1="653.55" x2="371.4" y2="661.9" stroke="#c9c5c9" stroke-width="0.7"/>
<rect x="370.4" y="652.55" width="2" height="2" fill="#5ea23a" rx="0.7"/>
<line x1="373" y1="653.55" x2="373" y2="661.9" stroke="#c9c5c9" stroke-width="0.7"/>
<rect x="372" y="652.55" width="2" height="2" fill="#5ea23a" rx="0.7"/>
<line x1="392.9" y1="653.55" x2="392.9" y2="661.9" stroke="#c9c5c9" stroke-width="0.7"/>
<rect x="391.9" y="652.55" width="2" height="2" fill="#5ea23a" rx="0.7"/>
<line x1="412.8" y1="653.55" x2="412.8" y2="661.9" stroke="#c9c5c9" stroke-width="0.7"/>
<rect x="411.8" y="652.55" width="2" height="2" fill="#5ea23a" rx="0.7"/>
<line x1="416.9" y1="653.55" x2="416.9" y2="661.9" stroke="#c9c5c9" stroke-width="0.7"/>
<rect x="415.9" y="652.55" width="2" height="2" fill="#5ea23a" rx="0.7"/>
<line x1="418.5" y1="653.55" x2="418.5" y2="661.9" stroke="#c9c5c9" stroke-width="0.7"/>
<rect x="417.5" y="652.55" width="2" height="2" fill="#5ea23a" rx="0.7"/>
<line x1="422.5" y1="653.55" x2="422.5" y2="661.9" stroke="#c9c5c9" stroke-width="0.7"/>
<rect x="421.5" y="652.55" width="2" height="2" fill="#5ea23a" rx="0.7"/>
<line x1="425.8" y1="653.55" x2="425.8" y2="661.9" stroke="#c9c5c9" stroke-width="0.7"/>
<rect x="424.8" y="652.55" width="2" height="2" fill="#5ea23a" rx="0.7"/>
<line x1="444.6" y1="653.55" x2="444.6" y2="661.9" stroke="#c9c5c9" stroke-width="0.7"/>
<rect x="443.6" y="652.55" width="2" height="2" fill="#5ea23a" rx="0.7"/>
<line x1="446.2" y1="653.55" x2="446.2" y2="661.9" stroke="#c9c5c9" stroke-width="0.7"/>
<rect x="445.2" y="652.55" width="2" height="2" fill="#5ea23a" rx="0.7"/>
<line x1="450.8" y1="653.55" x2="450.8" y2="661.9" stroke="#c9c5c9" stroke-width="0.7"/>
<rect x="449.8" y="652.55" width="2" height="2" fill="#5ea23a" rx="0.7"/>
<line x1="464.3" y1="653.55" x2="464.3" y2="661.9" stroke="#c9c5c9" stroke-width="0.7"/>
<rect x="463.3" y="652.55" width="2" height="2" fill="#5ea23a" rx="0.7"/>
<line x1="466.2" y1="653.55" x2="466.2" y2="661.9" stroke="#c9c5c9" stroke-width="0.7"/>
<rect x="465.2" y="652.55" width="2" height="2" fill="#5ea23a" rx="0.7"/>
<line x1="467.8" y1="653.55" x2="467.8" y2="661.9" stroke="#c9c5c9" stroke-width="0.7"/>
<rect x="466.8" y="652.55" width="2" height="2" fill="#5ea23a" rx="0.7"/>
<line x1="469.1" y1="653.55" x2="469.1" y2="661.9" stroke="#c9c5c9" stroke-width="0.7"/>
<rect x="468.1" y="652.55" width="2" height="2" fill="#5ea23a" rx="0.7"/>
<line x1="385.4" y1="643.65" x2="385.4" y2="661.9" stroke="#c9c5c9" stroke-width="0.7"/>
<rect x="384.4" y="642.65" width="2" height="2" fill="#5ea23a" rx="0.7"/>
<rect x="279.6" y="661.4" width="190.75" height="4.3" fill="#d2ced2"/>
<rect x="341.08" y="660" width="17.93" height="7.1" fill="#6aa84f"/>
<text x="350.05" y="665.5" font-size="5.2" text-anchor="middle" fill="#1d1d1d" textLength="13.5" lengthAdjust="spacingAndGlyphs" transform="rotate(0.05 350.05 665.5)" stroke="#1d1d1d" stroke-width="0.14">PWWP</text>
<rect x="380.7" y="660" width="27.52" height="7.1" fill="#6aa84f"/>
<text x="394.46" y="665.5" font-size="5.2" text-anchor="middle" fill="#1d1d1d" textLength="10" lengthAdjust="spacingAndGlyphs" transform="rotate(0.05 394.46 665.5)" stroke="#1d1d1d" stroke-width="0.14">ADD</text>
<rect x="412.39" y="660" width="57.96" height="7.1" fill="#6aa84f"/>
<text x="441.37" y="665.5" font-size="5.2" text-anchor="middle" fill="#1d1d1d" textLength="13.5" lengthAdjust="spacingAndGlyphs" transform="rotate(0.05 441.37 665.5)" stroke="#1d1d1d" stroke-width="0.14">MTase</text>
<line x1="277" y1="668.4" x2="474" y2="668.4" stroke="#111" stroke-width="0.9"/>
<line x1="280.2" y1="668.4" x2="280.2" y2="671.3" stroke="#111" stroke-width="0.7"/>
<line x1="301.05" y1="668.4" x2="301.05" y2="671.3" stroke="#111" stroke-width="0.7"/>
<line x1="321.9" y1="668.4" x2="321.9" y2="671.3" stroke="#111" stroke-width="0.7"/>
<line x1="342.75" y1="668.4" x2="342.75" y2="671.3" stroke="#111" stroke-width="0.7"/>
<line x1="363.6" y1="668.4" x2="363.6" y2="671.3" stroke="#111" stroke-width="0.7"/>
<line x1="384.45" y1="668.4" x2="384.45" y2="671.3" stroke="#111" stroke-width="0.7"/>
<line x1="405.3" y1="668.4" x2="405.3" y2="671.3" stroke="#111" stroke-width="0.7"/>
<line x1="426.15" y1="668.4" x2="426.15" y2="671.3" stroke="#111" stroke-width="0.7"/>
<line x1="447" y1="668.4" x2="447" y2="671.3" stroke="#111" stroke-width="0.7"/>
<line x1="467.85" y1="668.4" x2="467.85" y2="671.3" stroke="#111" stroke-width="0.7"/>
<line x1="470.35" y1="668.4" x2="470.35" y2="671.3" stroke="#111" stroke-width="0.7"/>
<text x="280.2" y="679.2" font-size="4.6" text-anchor="middle" transform="rotate(0.05 280.2 679.2)" stroke="#222" stroke-width="0.14">0</text>
<text x="321.9" y="679.2" font-size="4.6" text-anchor="middle" transform="rotate(0.05 321.9 679.2)" stroke="#222" stroke-width="0.14">200</text>
<text x="363.6" y="679.2" font-size="4.6" text-anchor="middle" transform="rotate(0.05 363.6 679.2)" stroke="#222" stroke-width="0.14">400</text>
<text x="405.3" y="679.2" font-size="4.6" text-anchor="middle" transform="rotate(0.05 405.3 679.2)" stroke="#222" stroke-width="0.14">600</text>
<text x="447" y="679.2" font-size="4.6" text-anchor="middle" transform="rotate(0.05 447 679.2)" stroke="#222" stroke-width="0.14">800</text>
<text x="469" y="679.2" font-size="4.6" text-anchor="middle" textLength="14.5" lengthAdjust="spacingAndGlyphs" transform="rotate(0.05 469 679.2)" stroke="#222" stroke-width="0.14">912 aa</text>
<text x="385.4" y="638.4" font-size="3.6" text-anchor="middle" fill="#444" textLength="11" lengthAdjust="spacingAndGlyphs" transform="rotate(0.05 385.4 638.4)" stroke="#444" stroke-width="0.14">E505G</text>
</svg>
</body></html>
